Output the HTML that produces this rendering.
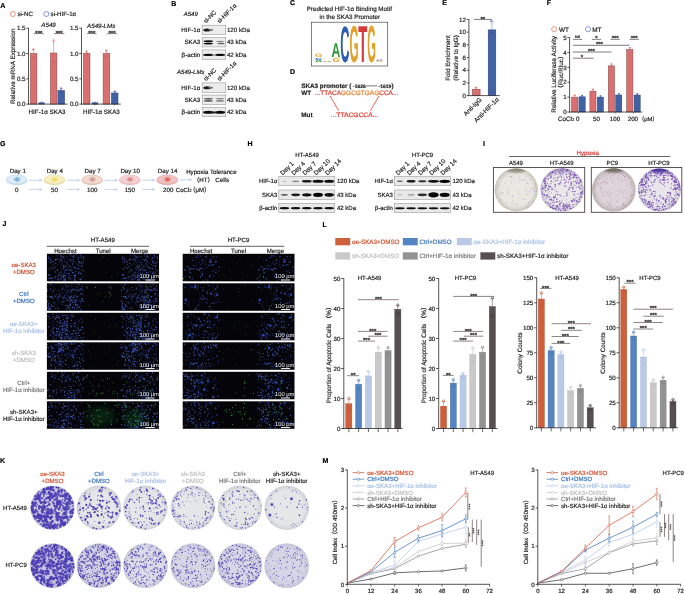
<!DOCTYPE html>
<html lang="en"><head><meta charset="utf-8"><title>Figure</title>
<style>html,body{margin:0;padding:0;background:#fff;overflow:hidden}svg{display:block;opacity:0.999;text-rendering:geometricPrecision;font-family:"Liberation Sans","DejaVu Sans",sans-serif;font-size:6.2px;fill:#1c1c1c}text{stroke-width:0.18px}</style></head><body>
<svg width="685" height="594" viewBox="0 0 685 594">
<defs><filter id="b3" x="-20%" y="-50%" width="140%" height="200%"><feGaussianBlur stdDeviation="0.35"/></filter><filter id="b6" x="-20%" y="-80%" width="140%" height="260%"><feGaussianBlur stdDeviation="0.7"/></filter><filter id="b20" x="-50%" y="-50%" width="200%" height="200%"><feGaussianBlur stdDeviation="3"/></filter><filter id="b10" x="-20%" y="-80%" width="140%" height="260%"><feGaussianBlur stdDeviation="1.1"/></filter></defs>
<rect width="685" height="594" fill="#fff"/>
<g id="panelA">
<text x="0.30" y="7.60" font-weight="bold" fill="#000" stroke="#000" font-size="7.0">A</text>
<circle cx="12.90" cy="14.00" r="2.50" fill="none" stroke="#e0704f" stroke-width="0.7"/>
<text x="17.40" y="16.40" stroke="#1c1c1c">si-NC</text>
<circle cx="46.30" cy="14.00" r="2.50" fill="none" stroke="#5a6cc0" stroke-width="0.7"/>
<text x="50.60" y="16.40" stroke="#1c1c1c">si-HIF-1α</text>
<text text-anchor="middle" stroke="#1c1c1c" font-size="6.3" transform="translate(14.60 66.20) rotate(-90)">Relative mRNA Expression</text>
<rect x="30.40" y="53.50" width="6.50" height="50.60" fill="#db6f6f" stroke="#7d4444" stroke-width="0.5"/>
<rect x="38.80" y="102.83" width="5.60" height="1.27" fill="#4262a6" stroke="#2b3d70" stroke-width="0.5"/>
<rect x="50.40" y="52.99" width="6.50" height="51.11" fill="#db6f6f" stroke="#7d4444" stroke-width="0.5"/>
<rect x="57.90" y="90.44" width="6.70" height="13.66" fill="#4262a6" stroke="#2b3d70" stroke-width="0.5"/>
<line x1="33.60" y1="53.50" x2="33.60" y2="49.45" stroke="#d85a5a" stroke-width="0.5"/>
<line x1="32.40" y1="49.45" x2="34.80" y2="49.45" stroke="#d85a5a" stroke-width="0.5"/>
<line x1="53.60" y1="52.99" x2="53.60" y2="41.36" stroke="#d85a5a" stroke-width="0.5"/>
<line x1="52.40" y1="41.36" x2="54.80" y2="41.36" stroke="#d85a5a" stroke-width="0.5"/>
<line x1="61.20" y1="90.44" x2="61.20" y2="88.41" stroke="#3f5cb0" stroke-width="0.5"/>
<line x1="60.00" y1="88.41" x2="62.40" y2="88.41" stroke="#3f5cb0" stroke-width="0.5"/>
<circle cx="33.30" cy="49.45" r="0.90" fill="none" stroke="#d85050" stroke-width="0.45"/>
<circle cx="33.40" cy="57.04" r="0.90" fill="none" stroke="#d85050" stroke-width="0.45"/>
<circle cx="53.60" cy="40.34" r="0.90" fill="none" stroke="#d85050" stroke-width="0.45"/>
<circle cx="53.40" cy="62.10" r="0.90" fill="none" stroke="#d85050" stroke-width="0.45"/>
<circle cx="52.80" cy="55.52" r="0.90" fill="none" stroke="#d85050" stroke-width="0.45"/>
<circle cx="61.00" cy="88.41" r="0.90" fill="none" stroke="#3850a8" stroke-width="0.45"/>
<circle cx="61.60" cy="91.96" r="0.90" fill="none" stroke="#3850a8" stroke-width="0.45"/>
<circle cx="41.50" cy="102.58" r="0.90" fill="none" stroke="#3850a8" stroke-width="0.45"/>
<line x1="28.50" y1="27.85" x2="28.50" y2="104.45" stroke="#2a2a2a" stroke-width="0.8"/>
<line x1="26.30" y1="28.20" x2="28.50" y2="28.20" stroke="#2a2a2a" stroke-width="0.8"/>
<text x="25.50" y="30.40" text-anchor="end" stroke="#1c1c1c">1.5</text>
<line x1="26.30" y1="53.50" x2="28.50" y2="53.50" stroke="#2a2a2a" stroke-width="0.8"/>
<text x="25.50" y="55.70" text-anchor="end" stroke="#1c1c1c">1.0</text>
<line x1="26.30" y1="78.80" x2="28.50" y2="78.80" stroke="#2a2a2a" stroke-width="0.8"/>
<text x="25.50" y="81.00" text-anchor="end" stroke="#1c1c1c">0.5</text>
<line x1="26.30" y1="104.10" x2="28.50" y2="104.10" stroke="#2a2a2a" stroke-width="0.8"/>
<text x="25.50" y="106.30" text-anchor="end" stroke="#1c1c1c">0.0</text>
<line x1="28.10" y1="104.10" x2="67.60" y2="104.10" stroke="#2a2a2a" stroke-width="0.8"/>
<text x="48.60" y="27.40" text-anchor="middle" font-style="italic" stroke="#1c1c1c">A549</text>
<line x1="34.00" y1="33.60" x2="43.70" y2="33.60" stroke="#4a4242" stroke-width="0.7"/>
<text x="38.85" y="34.70" text-anchor="middle" font-weight="bold" fill="#222" stroke="#222" font-size="6.0">***</text>
<line x1="54.00" y1="33.60" x2="64.40" y2="33.60" stroke="#4a4242" stroke-width="0.7"/>
<text x="59.20" y="34.70" text-anchor="middle" font-weight="bold" fill="#222" stroke="#222" font-size="6.0">***</text>
<text x="28.60" y="113.60" stroke="#1c1c1c" font-size="6.25">HIF-1α SKA3</text>
<rect x="83.50" y="53.50" width="6.50" height="50.60" fill="#db6f6f" stroke="#7d4444" stroke-width="0.5"/>
<rect x="92.00" y="102.83" width="5.90" height="1.27" fill="#4262a6" stroke="#2b3d70" stroke-width="0.5"/>
<rect x="103.10" y="53.50" width="6.70" height="50.60" fill="#db6f6f" stroke="#7d4444" stroke-width="0.5"/>
<rect x="111.40" y="92.97" width="6.60" height="11.13" fill="#4262a6" stroke="#2b3d70" stroke-width="0.5"/>
<line x1="86.70" y1="53.50" x2="86.70" y2="51.98" stroke="#d85a5a" stroke-width="0.5"/>
<line x1="85.50" y1="51.98" x2="87.90" y2="51.98" stroke="#d85a5a" stroke-width="0.5"/>
<line x1="106.40" y1="53.50" x2="106.40" y2="50.97" stroke="#d85a5a" stroke-width="0.5"/>
<line x1="105.20" y1="50.97" x2="107.60" y2="50.97" stroke="#d85a5a" stroke-width="0.5"/>
<line x1="114.70" y1="92.97" x2="114.70" y2="91.45" stroke="#3f5cb0" stroke-width="0.5"/>
<line x1="113.50" y1="91.45" x2="115.90" y2="91.45" stroke="#3f5cb0" stroke-width="0.5"/>
<circle cx="86.50" cy="51.48" r="0.90" fill="none" stroke="#d85050" stroke-width="0.45"/>
<circle cx="86.90" cy="54.01" r="0.90" fill="none" stroke="#d85050" stroke-width="0.45"/>
<circle cx="106.30" cy="50.46" r="0.90" fill="none" stroke="#d85050" stroke-width="0.45"/>
<circle cx="106.50" cy="57.04" r="0.90" fill="none" stroke="#d85050" stroke-width="0.45"/>
<circle cx="114.90" cy="91.45" r="0.90" fill="none" stroke="#3850a8" stroke-width="0.45"/>
<circle cx="114.20" cy="93.98" r="0.90" fill="none" stroke="#3850a8" stroke-width="0.45"/>
<circle cx="95.00" cy="102.58" r="0.90" fill="none" stroke="#3850a8" stroke-width="0.45"/>
<line x1="81.50" y1="27.85" x2="81.50" y2="104.45" stroke="#2a2a2a" stroke-width="0.8"/>
<line x1="79.30" y1="28.20" x2="81.50" y2="28.20" stroke="#2a2a2a" stroke-width="0.8"/>
<text x="78.50" y="30.40" text-anchor="end" stroke="#1c1c1c">1.5</text>
<line x1="79.30" y1="53.50" x2="81.50" y2="53.50" stroke="#2a2a2a" stroke-width="0.8"/>
<text x="78.50" y="55.70" text-anchor="end" stroke="#1c1c1c">1.0</text>
<line x1="79.30" y1="78.80" x2="81.50" y2="78.80" stroke="#2a2a2a" stroke-width="0.8"/>
<text x="78.50" y="81.00" text-anchor="end" stroke="#1c1c1c">0.5</text>
<line x1="79.30" y1="104.10" x2="81.50" y2="104.10" stroke="#2a2a2a" stroke-width="0.8"/>
<text x="78.50" y="106.30" text-anchor="end" stroke="#1c1c1c">0.0</text>
<line x1="81.10" y1="104.10" x2="120.80" y2="104.10" stroke="#2a2a2a" stroke-width="0.8"/>
<line x1="94.90" y1="104.10" x2="94.90" y2="105.30" stroke="#2a2a2a" stroke-width="0.6"/>
<line x1="114.60" y1="104.10" x2="114.60" y2="105.30" stroke="#2a2a2a" stroke-width="0.6"/>
<text x="101.20" y="27.60" text-anchor="middle" font-style="italic" stroke="#1c1c1c">A549-LMs</text>
<line x1="87.10" y1="33.60" x2="96.50" y2="33.60" stroke="#4a4242" stroke-width="0.7"/>
<text x="91.80" y="34.70" text-anchor="middle" font-weight="bold" fill="#222" stroke="#222" font-size="6.0">***</text>
<line x1="107.20" y1="33.60" x2="116.80" y2="33.60" stroke="#4a4242" stroke-width="0.7"/>
<text x="112.00" y="34.70" text-anchor="middle" font-weight="bold" fill="#222" stroke="#222" font-size="6.0">***</text>
<text x="82.90" y="113.60" stroke="#1c1c1c" font-size="6.25">HIF-1α SKA3</text>
</g>
<g id="panelB">
<text x="171.20" y="5.60" font-weight="bold" fill="#000" stroke="#000" font-size="7.0">B</text>
<text x="190.80" y="16.30" text-anchor="middle" font-style="italic" stroke="#1c1c1c" font-size="6.0">A549</text>
<text stroke="#1c1c1c" font-size="6.0" transform="translate(205.90 23.60) rotate(-45)">si-NC</text>
<text stroke="#1c1c1c" font-size="6.0" transform="translate(219.40 23.60) rotate(-45)">si-HIF-1α</text>
<clipPath id="cp2022_252"><rect x="202.20" y="25.20" width="23.50" height="9.40"/></clipPath>
<rect x="202.20" y="25.20" width="23.50" height="9.40" fill="#ececec"/>
<g clip-path="url(#cp2022_252)">
<ellipse cx="207.11" cy="30.10" rx="3.75" ry="1.50" fill="#1c1c1c" filter="url(#b6)"/>
<ellipse cx="210.81" cy="30.10" rx="2.50" ry="1.00" fill="#777" filter="url(#b6)"/>
</g>
<rect x="202.20" y="25.20" width="23.50" height="9.40" fill="none" stroke="#9a9a9a" stroke-width="0.6"/>
<clipPath id="cp2022_375"><rect x="202.20" y="37.50" width="23.50" height="9.40"/></clipPath>
<rect x="202.20" y="37.50" width="23.50" height="9.40" fill="#ececec"/>
<g clip-path="url(#cp2022_375)">
<ellipse cx="208.31" cy="41.20" rx="4.75" ry="0.95" fill="#111" filter="url(#b3)"/>
<ellipse cx="208.31" cy="43.60" rx="4.75" ry="0.95" fill="#111" filter="url(#b3)"/>
<ellipse cx="220.06" cy="41.40" rx="4.00" ry="0.75" fill="#8a8a8a" filter="url(#b3)"/>
<ellipse cx="221.06" cy="43.50" rx="3.50" ry="0.85" fill="#666" filter="url(#b3)"/>
</g>
<rect x="202.20" y="37.50" width="23.50" height="9.40" fill="none" stroke="#9a9a9a" stroke-width="0.6"/>
<clipPath id="cp2022_499"><rect x="202.20" y="49.90" width="23.50" height="9.40"/></clipPath>
<rect x="202.20" y="49.90" width="23.50" height="9.40" fill="#ececec"/>
<g clip-path="url(#cp2022_499)">
<ellipse cx="208.31" cy="54.90" rx="5.25" ry="1.15" fill="#0c0c0c" filter="url(#b3)"/>
<ellipse cx="220.06" cy="54.90" rx="5.00" ry="1.15" fill="#0c0c0c" filter="url(#b3)"/>
<ellipse cx="213.95" cy="55.10" rx="2.50" ry="0.69" fill="#888" filter="url(#b3)"/>
</g>
<rect x="202.20" y="49.90" width="23.50" height="9.40" fill="none" stroke="#9a9a9a" stroke-width="0.6"/>
<text x="200.30" y="32.10" text-anchor="end" stroke="#1c1c1c">HIF-1α</text>
<text x="226.90" y="32.10" stroke="#1c1c1c">120 kDa</text>
<text x="200.30" y="44.40" text-anchor="end" stroke="#1c1c1c">SKA3</text>
<text x="226.90" y="44.40" stroke="#1c1c1c">43 kDa</text>
<text x="200.30" y="56.80" text-anchor="end" stroke="#1c1c1c">β-actin</text>
<text x="226.90" y="56.80" stroke="#1c1c1c">42 kDa</text>
<text x="190.80" y="74.00" text-anchor="middle" font-style="italic" stroke="#1c1c1c" font-size="6.0">A549-LMs</text>
<text stroke="#1c1c1c" font-size="6.0" transform="translate(205.90 81.30) rotate(-45)">si-NC</text>
<text stroke="#1c1c1c" font-size="6.0" transform="translate(219.40 81.30) rotate(-45)">si-HIF-1α</text>
<clipPath id="cp2022_829"><rect x="202.20" y="82.90" width="23.50" height="9.40"/></clipPath>
<rect x="202.20" y="82.90" width="23.50" height="9.40" fill="#ececec"/>
<g clip-path="url(#cp2022_829)">
<ellipse cx="207.11" cy="87.80" rx="3.75" ry="1.50" fill="#1c1c1c" filter="url(#b6)"/>
<ellipse cx="210.81" cy="87.80" rx="2.50" ry="1.00" fill="#777" filter="url(#b6)"/>
</g>
<rect x="202.20" y="82.90" width="23.50" height="9.40" fill="none" stroke="#9a9a9a" stroke-width="0.6"/>
<clipPath id="cp2022_951"><rect x="202.20" y="95.10" width="23.50" height="9.40"/></clipPath>
<rect x="202.20" y="95.10" width="23.50" height="9.40" fill="#ececec"/>
<g clip-path="url(#cp2022_951)">
<ellipse cx="208.31" cy="98.80" rx="4.75" ry="0.65" fill="#222" filter="url(#b3)"/>
<ellipse cx="208.31" cy="100.90" rx="4.75" ry="0.65" fill="#222" filter="url(#b3)"/>
<ellipse cx="220.06" cy="98.80" rx="4.25" ry="0.55" fill="#555" filter="url(#b3)"/>
<ellipse cx="220.06" cy="100.90" rx="4.25" ry="0.55" fill="#555" filter="url(#b3)"/>
</g>
<rect x="202.20" y="95.10" width="23.50" height="9.40" fill="none" stroke="#9a9a9a" stroke-width="0.6"/>
<clipPath id="cp2022_1073"><rect x="202.20" y="107.30" width="23.50" height="9.40"/></clipPath>
<rect x="202.20" y="107.30" width="23.50" height="9.40" fill="#ececec"/>
<g clip-path="url(#cp2022_1073)">
<ellipse cx="208.31" cy="112.30" rx="5.25" ry="1.50" fill="#0c0c0c" filter="url(#b3)"/>
<ellipse cx="220.06" cy="112.30" rx="5.00" ry="1.50" fill="#0c0c0c" filter="url(#b3)"/>
<ellipse cx="213.95" cy="112.50" rx="2.50" ry="0.90" fill="#222" filter="url(#b3)"/>
</g>
<rect x="202.20" y="107.30" width="23.50" height="9.40" fill="none" stroke="#9a9a9a" stroke-width="0.6"/>
<text x="200.30" y="89.80" text-anchor="end" stroke="#1c1c1c">HIF-1α</text>
<text x="226.90" y="89.80" stroke="#1c1c1c">120 kDa</text>
<text x="200.30" y="102.00" text-anchor="end" stroke="#1c1c1c">SKA3</text>
<text x="226.90" y="102.00" stroke="#1c1c1c">43 kDa</text>
<text x="200.30" y="114.20" text-anchor="end" stroke="#1c1c1c">β-actin</text>
<text x="226.90" y="114.20" stroke="#1c1c1c">42 kDa</text>
</g>
<g id="panelC">
<text x="290.00" y="5.40" font-weight="bold" fill="#000" stroke="#000" font-size="7.0">C</text>
<text x="349.30" y="10.60" text-anchor="middle" stroke="#1c1c1c" font-size="6.25">Predicted HIF-1α Binding Motif</text>
<text x="349.80" y="18.50" text-anchor="middle" stroke="#1c1c1c" font-size="6.25">in the SKA3 Promoter</text>
<rect x="311.40" y="22.20" width="76.30" height="43.80" fill="#fff" stroke="#4a4a4a" stroke-width="0.7"/>
<text transform="translate(340.20 62.40) scale(1.292 5.130)" font-size="10.0" font-weight="bold" fill="#2f5eae" textLength="7.20" lengthAdjust="spacingAndGlyphs">C</text>
<text transform="translate(349.40 62.40) scale(1.264 5.185)" font-size="10.0" font-weight="bold" fill="#e2a22e" textLength="7.20" lengthAdjust="spacingAndGlyphs">G</text>
<text transform="translate(358.30 62.40) scale(1.264 5.213)" font-size="10.0" font-weight="bold" fill="#d63a3f" textLength="7.20" lengthAdjust="spacingAndGlyphs">T</text>
<text transform="translate(367.20 62.40) scale(1.194 5.213)" font-size="10.0" font-weight="bold" fill="#e2a22e" textLength="7.20" lengthAdjust="spacingAndGlyphs">G</text>
<text transform="translate(331.60 57.40) scale(1.222 2.003)" font-size="10.0" font-weight="bold" fill="#2f9a3c" textLength="7.20" lengthAdjust="spacingAndGlyphs">A</text>
<text transform="translate(332.40 62.40) scale(1.028 0.631)" font-size="10.0" font-weight="bold" fill="#e2a22e" textLength="7.20" lengthAdjust="spacingAndGlyphs">G</text>
<text transform="translate(315.00 57.20) scale(1.028 0.494)" font-size="10.0" font-weight="bold" fill="#e2a22e" textLength="7.20" lengthAdjust="spacingAndGlyphs">G</text>
<text transform="translate(315.00 59.60) scale(1.028 0.302)" font-size="10.0" font-weight="bold" fill="#2f5eae" textLength="7.20" lengthAdjust="spacingAndGlyphs">C</text>
<text transform="translate(315.00 62.40) scale(1.028 0.357)" font-size="10.0" font-weight="bold" fill="#2f9a3c" textLength="7.20" lengthAdjust="spacingAndGlyphs">A</text>
<text transform="translate(376.00 60.80) scale(0.972 0.219)" font-size="10.0" font-weight="bold" fill="#2f5eae" textLength="7.20" lengthAdjust="spacingAndGlyphs">C</text>
<text transform="translate(376.00 62.40) scale(0.972 0.206)" font-size="10.0" font-weight="bold" fill="#e2a22e" textLength="7.20" lengthAdjust="spacingAndGlyphs">G</text>
<text transform="translate(323.20 62.40) scale(0.278 0.137)" font-size="10.0" font-weight="bold" fill="#d63a3f" textLength="7.20" lengthAdjust="spacingAndGlyphs">T</text>
<text transform="translate(325.30 62.40) scale(0.278 0.137)" font-size="10.0" font-weight="bold" fill="#e2a22e" textLength="7.20" lengthAdjust="spacingAndGlyphs">G</text>
<text transform="translate(327.40 62.40) scale(0.278 0.137)" font-size="10.0" font-weight="bold" fill="#2f9a3c" textLength="7.20" lengthAdjust="spacingAndGlyphs">A</text>
<text transform="translate(329.50 62.40) scale(0.278 0.137)" font-size="10.0" font-weight="bold" fill="#d63a3f" textLength="7.20" lengthAdjust="spacingAndGlyphs">C</text>
</g>
<g id="panelD">
<text x="290.00" y="73.80" font-weight="bold" fill="#000" stroke="#000" font-size="7.0">D</text>
<text x="301.30" y="87.70" font-weight="bold" stroke="#1c1c1c" font-size="6.3">SKA3 promoter (</text>
<text x="353.00" y="87.50" font-weight="bold" stroke="#1c1c1c" font-size="5.0">-1626</text>
<line x1="366.00" y1="85.90" x2="377.40" y2="85.90" stroke="#222" stroke-width="0.6"/>
<text x="378.60" y="87.50" font-weight="bold" stroke="#1c1c1c" font-size="5.0">-1619</text>
<text x="391.60" y="87.70" font-weight="bold" stroke="#1c1c1c" font-size="6.3">)</text>
<text x="301.30" y="94.90" font-weight="bold" stroke="#1c1c1c" font-size="6.3">WT</text>
<text x="314.9" y="94.9" font-size="6.4" fill="#e2392a" stroke="#e2392a" textLength="83.4" lengthAdjust="spacingAndGlyphs">...TTACA<tspan fill="#e2832e" stroke="#e2832e">GGCGTGAG</tspan>CCA...</text>
<line x1="330.00" y1="96.00" x2="338.70" y2="110.80" stroke="#e2392a" stroke-width="0.8"/>
<line x1="379.00" y1="96.00" x2="370.30" y2="110.80" stroke="#e2392a" stroke-width="0.8"/>
<text x="301.30" y="117.40" font-weight="bold" stroke="#1c1c1c" font-size="6.3">Mut</text>
<text x="330.8" y="117.4" font-size="6.4" fill="#e2392a" stroke="#e2392a" textLength="47.4" lengthAdjust="spacingAndGlyphs">...TTACGCCA...</text>
</g>
<g id="panelE">
<text x="442.20" y="4.90" font-weight="bold" fill="#000" stroke="#000" font-size="7.0">E</text>
<rect x="472.20" y="89.25" width="7.90" height="6.35" fill="#db6f6f" stroke="#7d4444" stroke-width="0.5"/>
<rect x="488.20" y="29.88" width="7.60" height="65.72" fill="#4262a6" stroke="#2b3d70" stroke-width="0.5"/>
<line x1="476.10" y1="89.25" x2="476.10" y2="87.66" stroke="#d85a5a" stroke-width="0.5"/>
<line x1="474.90" y1="87.66" x2="477.30" y2="87.66" stroke="#d85a5a" stroke-width="0.5"/>
<line x1="491.90" y1="29.88" x2="491.90" y2="21.31" stroke="#5068c0" stroke-width="0.5"/>
<line x1="490.00" y1="21.31" x2="493.80" y2="21.31" stroke="#5068c0" stroke-width="0.5"/>
<circle cx="476.00" cy="87.66" r="0.90" fill="none" stroke="#d85050" stroke-width="0.45"/>
<circle cx="491.30" cy="20.67" r="0.90" fill="none" stroke="#4058b8" stroke-width="0.45"/>
<circle cx="492.00" cy="33.37" r="0.90" fill="none" stroke="#2c4290" stroke-width="0.45"/>
<line x1="468.90" y1="19.05" x2="468.90" y2="95.95" stroke="#2a2a2a" stroke-width="0.8"/>
<line x1="466.70" y1="19.40" x2="468.90" y2="19.40" stroke="#2a2a2a" stroke-width="0.8"/>
<text x="465.90" y="21.60" text-anchor="end" stroke="#1c1c1c">12</text>
<line x1="466.70" y1="32.10" x2="468.90" y2="32.10" stroke="#2a2a2a" stroke-width="0.8"/>
<text x="465.90" y="34.30" text-anchor="end" stroke="#1c1c1c">10</text>
<line x1="466.70" y1="44.80" x2="468.90" y2="44.80" stroke="#2a2a2a" stroke-width="0.8"/>
<text x="465.90" y="47.00" text-anchor="end" stroke="#1c1c1c">8</text>
<line x1="466.70" y1="57.50" x2="468.90" y2="57.50" stroke="#2a2a2a" stroke-width="0.8"/>
<text x="465.90" y="59.70" text-anchor="end" stroke="#1c1c1c">6</text>
<line x1="466.70" y1="70.20" x2="468.90" y2="70.20" stroke="#2a2a2a" stroke-width="0.8"/>
<text x="465.90" y="72.40" text-anchor="end" stroke="#1c1c1c">4</text>
<line x1="466.70" y1="82.90" x2="468.90" y2="82.90" stroke="#2a2a2a" stroke-width="0.8"/>
<text x="465.90" y="85.10" text-anchor="end" stroke="#1c1c1c">2</text>
<line x1="466.70" y1="95.60" x2="468.90" y2="95.60" stroke="#2a2a2a" stroke-width="0.8"/>
<text x="465.90" y="97.80" text-anchor="end" stroke="#1c1c1c">0</text>
<line x1="468.50" y1="95.60" x2="499.80" y2="95.60" stroke="#2a2a2a" stroke-width="0.8"/>
<line x1="473.80" y1="19.40" x2="491.80" y2="19.40" stroke="#4a4242" stroke-width="0.7"/>
<text x="482.80" y="20.50" text-anchor="middle" font-weight="bold" fill="#222" stroke="#222" font-size="6.0">**</text>
<text text-anchor="middle" stroke="#1c1c1c" font-size="6.25" transform="translate(450.30 58.00) rotate(-90)">Fold Enrichment</text>
<text text-anchor="middle" stroke="#1c1c1c" font-size="6.25" transform="translate(458.00 58.00) rotate(-90)">(Relative to IgG)</text>
<text text-anchor="end" stroke="#1c1c1c" font-size="6.25" transform="translate(482.20 100.00) rotate(-45)">Anti-IgG</text>
<text text-anchor="end" stroke="#1c1c1c" font-size="6.25" transform="translate(499.20 100.00) rotate(-45)">Anti-HIF-1α</text>
</g>
<g id="panelF">
<text x="546.80" y="4.90" font-weight="bold" fill="#000" stroke="#000" font-size="7.0">F</text>
<circle cx="554.20" cy="29.20" r="2.60" fill="none" stroke="#e0704f" stroke-width="0.7"/>
<text x="558.90" y="31.60" stroke="#1c1c1c" font-size="6.4">WT</text>
<circle cx="588.00" cy="29.20" r="2.60" fill="none" stroke="#5a6cc0" stroke-width="0.7"/>
<text x="592.20" y="31.60" stroke="#1c1c1c" font-size="6.4">MT</text>
<rect x="571.50" y="97.12" width="6.20" height="14.88" fill="#db6f6f" stroke="#7d4444" stroke-width="0.5"/>
<rect x="578.90" y="96.82" width="6.30" height="15.18" fill="#4262a6" stroke="#2b3d70" stroke-width="0.5"/>
<line x1="574.60" y1="97.12" x2="574.60" y2="95.33" stroke="#d85a5a" stroke-width="0.5"/>
<line x1="573.60" y1="95.33" x2="575.60" y2="95.33" stroke="#d85a5a" stroke-width="0.5"/>
<line x1="582.05" y1="96.82" x2="582.05" y2="95.63" stroke="#3f5cb0" stroke-width="0.5"/>
<line x1="581.05" y1="95.63" x2="583.05" y2="95.63" stroke="#3f5cb0" stroke-width="0.5"/>
<circle cx="574.80" cy="95.33" r="0.80" fill="#e06060"/>
<circle cx="582.25" cy="95.63" r="0.80" fill="#3f56b0"/>
<rect x="589.90" y="91.17" width="6.10" height="20.83" fill="#db6f6f" stroke="#7d4444" stroke-width="0.5"/>
<rect x="597.30" y="97.12" width="6.10" height="14.88" fill="#4262a6" stroke="#2b3d70" stroke-width="0.5"/>
<line x1="592.95" y1="91.17" x2="592.95" y2="89.38" stroke="#d85a5a" stroke-width="0.5"/>
<line x1="591.95" y1="89.38" x2="593.95" y2="89.38" stroke="#d85a5a" stroke-width="0.5"/>
<line x1="600.35" y1="97.12" x2="600.35" y2="95.93" stroke="#3f5cb0" stroke-width="0.5"/>
<line x1="599.35" y1="95.93" x2="601.35" y2="95.93" stroke="#3f5cb0" stroke-width="0.5"/>
<circle cx="593.15" cy="89.38" r="0.80" fill="#e06060"/>
<circle cx="600.55" cy="95.93" r="0.80" fill="#3f56b0"/>
<rect x="608.30" y="65.87" width="6.20" height="46.13" fill="#db6f6f" stroke="#7d4444" stroke-width="0.5"/>
<rect x="615.70" y="95.04" width="6.10" height="16.96" fill="#4262a6" stroke="#2b3d70" stroke-width="0.5"/>
<line x1="611.40" y1="65.87" x2="611.40" y2="64.09" stroke="#d85a5a" stroke-width="0.5"/>
<line x1="610.40" y1="64.09" x2="612.40" y2="64.09" stroke="#d85a5a" stroke-width="0.5"/>
<line x1="618.75" y1="95.04" x2="618.75" y2="93.85" stroke="#3f5cb0" stroke-width="0.5"/>
<line x1="617.75" y1="93.85" x2="619.75" y2="93.85" stroke="#3f5cb0" stroke-width="0.5"/>
<circle cx="611.60" cy="64.09" r="0.80" fill="#e06060"/>
<circle cx="618.95" cy="93.85" r="0.80" fill="#3f56b0"/>
<rect x="626.70" y="49.50" width="6.20" height="62.50" fill="#db6f6f" stroke="#7d4444" stroke-width="0.5"/>
<rect x="634.10" y="95.04" width="6.10" height="16.96" fill="#4262a6" stroke="#2b3d70" stroke-width="0.5"/>
<line x1="629.80" y1="49.50" x2="629.80" y2="47.72" stroke="#d85a5a" stroke-width="0.5"/>
<line x1="628.80" y1="47.72" x2="630.80" y2="47.72" stroke="#d85a5a" stroke-width="0.5"/>
<line x1="637.15" y1="95.04" x2="637.15" y2="93.85" stroke="#3f5cb0" stroke-width="0.5"/>
<line x1="636.15" y1="93.85" x2="638.15" y2="93.85" stroke="#3f5cb0" stroke-width="0.5"/>
<circle cx="630.00" cy="47.72" r="0.80" fill="#e06060"/>
<circle cx="637.35" cy="93.85" r="0.80" fill="#3f56b0"/>
<line x1="569.60" y1="37.25" x2="569.60" y2="112.35" stroke="#2a2a2a" stroke-width="0.8"/>
<line x1="567.40" y1="37.60" x2="569.60" y2="37.60" stroke="#2a2a2a" stroke-width="0.8"/>
<text x="566.60" y="39.80" text-anchor="end" stroke="#1c1c1c">5</text>
<line x1="567.40" y1="52.48" x2="569.60" y2="52.48" stroke="#2a2a2a" stroke-width="0.8"/>
<text x="566.60" y="54.68" text-anchor="end" stroke="#1c1c1c">4</text>
<line x1="567.40" y1="67.36" x2="569.60" y2="67.36" stroke="#2a2a2a" stroke-width="0.8"/>
<text x="566.60" y="69.56" text-anchor="end" stroke="#1c1c1c">3</text>
<line x1="567.40" y1="82.24" x2="569.60" y2="82.24" stroke="#2a2a2a" stroke-width="0.8"/>
<text x="566.60" y="84.44" text-anchor="end" stroke="#1c1c1c">2</text>
<line x1="567.40" y1="97.12" x2="569.60" y2="97.12" stroke="#2a2a2a" stroke-width="0.8"/>
<text x="566.60" y="99.32" text-anchor="end" stroke="#1c1c1c">1</text>
<line x1="567.40" y1="112.00" x2="569.60" y2="112.00" stroke="#2a2a2a" stroke-width="0.8"/>
<text x="566.60" y="114.20" text-anchor="end" stroke="#1c1c1c">0</text>
<line x1="569.20" y1="112.00" x2="642.20" y2="112.00" stroke="#2a2a2a" stroke-width="0.8"/>
<line x1="578.30" y1="112.00" x2="578.30" y2="113.40" stroke="#2a2a2a" stroke-width="0.6"/>
<line x1="596.70" y1="112.00" x2="596.70" y2="113.40" stroke="#2a2a2a" stroke-width="0.6"/>
<line x1="615.10" y1="112.00" x2="615.10" y2="113.40" stroke="#2a2a2a" stroke-width="0.6"/>
<line x1="633.50" y1="112.00" x2="633.50" y2="113.40" stroke="#2a2a2a" stroke-width="0.6"/>
<line x1="572.90" y1="39.30" x2="582.30" y2="39.30" stroke="#4a4242" stroke-width="0.7"/>
<text x="577.60" y="37.90" text-anchor="middle" font-weight="bold" fill="#222" stroke="#222" font-size="3.6">NS</text>
<line x1="591.90" y1="39.30" x2="601.10" y2="39.30" stroke="#4a4242" stroke-width="0.7"/>
<text x="596.50" y="40.40" text-anchor="middle" font-weight="bold" fill="#222" stroke="#222" font-size="6.0">*</text>
<line x1="610.50" y1="39.30" x2="619.90" y2="39.30" stroke="#4a4242" stroke-width="0.7"/>
<text x="615.20" y="40.40" text-anchor="middle" font-weight="bold" fill="#222" stroke="#222" font-size="6.0">***</text>
<line x1="629.40" y1="39.30" x2="639.00" y2="39.30" stroke="#4a4242" stroke-width="0.7"/>
<text x="634.20" y="40.40" text-anchor="middle" font-weight="bold" fill="#222" stroke="#222" font-size="6.0">***</text>
<line x1="572.90" y1="45.30" x2="629.40" y2="45.30" stroke="#4a4242" stroke-width="0.7"/>
<text x="599.40" y="46.40" text-anchor="middle" font-weight="bold" fill="#222" stroke="#222" font-size="6.0">***</text>
<line x1="572.90" y1="52.00" x2="611.50" y2="52.00" stroke="#4a4242" stroke-width="0.7"/>
<text x="591.40" y="53.10" text-anchor="middle" font-weight="bold" fill="#222" stroke="#222" font-size="6.0">***</text>
<line x1="572.90" y1="58.20" x2="593.60" y2="58.20" stroke="#4a4242" stroke-width="0.7"/>
<text x="581.80" y="59.30" text-anchor="middle" font-weight="bold" fill="#222" stroke="#222" font-size="6.0">*</text>
<text text-anchor="middle" stroke="#1c1c1c" font-size="6.45" transform="translate(556.40 74.40) rotate(-90)">Relative Luciferase Activity</text>
<text stroke="#1c1c1c" font-size="6.3" transform="translate(563.00 91.60) rotate(-90)" style="font-family:'Liberation Sans','Noto Sans CJK SC',sans-serif">（Fluc/Rluc）</text>
<text x="558.0" y="120.6" font-size="6.3" stroke="#1c1c1c">CoCl<tspan font-size="4.2" dy="0.6">2</tspan><tspan dy="-0.6"> 0</tspan></text>
<text x="596.40" y="120.60" text-anchor="middle" stroke="#1c1c1c">50</text>
<text x="615.00" y="120.60" text-anchor="middle" stroke="#1c1c1c">100</text>
<text x="632.90" y="120.60" text-anchor="middle" stroke="#1c1c1c">200</text>
<text x="638.40" y="120.50" stroke="#1c1c1c" font-size="5.8" style="font-family:'Liberation Sans','Noto Sans CJK SC',sans-serif">（μM）</text>
</g>
<g id="panelG">
<text x="0.00" y="145.70" font-weight="bold" fill="#000" stroke="#000" font-size="7.0">G</text>
<text x="17.80" y="172.50" text-anchor="middle" stroke="#1c1c1c">Day 1</text>
<ellipse cx="16.80" cy="180.20" rx="10.7" ry="5.0" fill="#c3d9ea"/>
<ellipse cx="16.80" cy="179.40" rx="10.4" ry="4.4" fill="#dcebf5" stroke="#c3d9ea" stroke-width="0.5"/>
<polygon points="20.89,179.40 19.07,180.14 19.47,181.72 17.59,181.07 16.26,182.30 15.74,180.74 13.68,180.69 14.92,179.40 13.68,178.11 15.74,178.06 16.26,176.50 17.59,177.73 19.47,177.08 19.07,178.66" fill="#5d9bcd" opacity="0.7" filter="url(#b3)"/>
<text x="16.80" y="191.70" text-anchor="middle" stroke="#1c1c1c">0</text>
<text x="54.80" y="172.50" text-anchor="middle" stroke="#1c1c1c">Day 4</text>
<ellipse cx="54.40" cy="180.20" rx="10.7" ry="5.0" fill="#e9dfa6"/>
<ellipse cx="54.40" cy="179.40" rx="10.4" ry="4.4" fill="#f6eec2" stroke="#e9dfa6" stroke-width="0.5"/>
<polygon points="58.49,179.40 56.67,180.14 57.07,181.72 55.19,181.07 53.86,182.30 53.34,180.74 51.28,180.69 52.51,179.40 51.28,178.11 53.34,178.06 53.86,176.50 55.19,177.73 57.07,177.08 56.67,178.66" fill="#efd64a" opacity="0.7" filter="url(#b3)"/>
<text x="54.40" y="191.70" text-anchor="middle" stroke="#1c1c1c">50</text>
<text x="92.60" y="172.50" text-anchor="middle" stroke="#1c1c1c">Day 7</text>
<ellipse cx="92.20" cy="180.20" rx="10.7" ry="5.0" fill="#e2c1b5"/>
<ellipse cx="92.20" cy="179.40" rx="10.4" ry="4.4" fill="#f1d9cf" stroke="#e2c1b5" stroke-width="0.5"/>
<polygon points="96.30,179.40 94.47,180.14 94.87,181.72 92.99,181.07 91.66,182.30 91.14,180.74 89.08,180.69 90.31,179.40 89.08,178.11 91.14,178.06 91.66,176.50 92.99,177.73 94.87,177.08 94.47,178.66" fill="#c98a80" opacity="0.7" filter="url(#b3)"/>
<text x="92.20" y="191.70" text-anchor="middle" stroke="#1c1c1c">100</text>
<text x="130.20" y="172.50" text-anchor="middle" stroke="#1c1c1c">Day 10</text>
<ellipse cx="129.80" cy="180.20" rx="10.7" ry="5.0" fill="#ebbcbc"/>
<ellipse cx="129.80" cy="179.40" rx="10.4" ry="4.4" fill="#f5d2d2" stroke="#ebbcbc" stroke-width="0.5"/>
<polygon points="133.90,179.40 132.07,180.14 132.47,181.72 130.59,181.07 129.26,182.30 128.74,180.74 126.68,180.69 127.92,179.40 126.68,178.11 128.74,178.06 129.26,176.50 130.59,177.73 132.47,177.08 132.07,178.66" fill="#dd6c72" opacity="0.7" filter="url(#b3)"/>
<text x="129.80" y="191.70" text-anchor="middle" stroke="#1c1c1c">150</text>
<text x="167.60" y="172.50" text-anchor="middle" stroke="#1c1c1c">Day 14</text>
<ellipse cx="167.20" cy="180.20" rx="10.7" ry="5.0" fill="#e8abab"/>
<ellipse cx="167.20" cy="179.40" rx="10.4" ry="4.4" fill="#f2c2c2" stroke="#e8abab" stroke-width="0.5"/>
<polygon points="171.29,179.40 169.47,180.14 169.87,181.72 167.99,181.07 166.66,182.30 166.14,180.74 164.08,180.69 165.31,179.40 164.08,178.11 166.14,178.06 166.66,176.50 167.99,177.73 169.87,177.08 169.47,178.66" fill="#dc4a3e" opacity="0.7" filter="url(#b3)"/>
<text x="168.20" y="191.70" text-anchor="middle" stroke="#1c1c1c">200</text>
<line x1="29.20" y1="180.30" x2="41.20" y2="180.30" stroke="#a9c3e6" stroke-width="0.7"/>
<path d="M39.40 179.20 L42.00 180.30 L39.40 181.40" fill="none" stroke="#a9c3e6" stroke-width="0.6"/>
<line x1="29.20" y1="189.40" x2="41.20" y2="189.40" stroke="#a9c3e6" stroke-width="0.7"/>
<path d="M39.40 188.30 L42.00 189.40 L39.40 190.50" fill="none" stroke="#a9c3e6" stroke-width="0.6"/>
<line x1="66.60" y1="180.30" x2="78.90" y2="180.30" stroke="#a9c3e6" stroke-width="0.7"/>
<path d="M77.10 179.20 L79.70 180.30 L77.10 181.40" fill="none" stroke="#a9c3e6" stroke-width="0.6"/>
<line x1="66.60" y1="189.40" x2="78.90" y2="189.40" stroke="#a9c3e6" stroke-width="0.7"/>
<path d="M77.10 188.30 L79.70 189.40 L77.10 190.50" fill="none" stroke="#a9c3e6" stroke-width="0.6"/>
<line x1="104.40" y1="180.30" x2="116.50" y2="180.30" stroke="#a9c3e6" stroke-width="0.7"/>
<path d="M114.70 179.20 L117.30 180.30 L114.70 181.40" fill="none" stroke="#a9c3e6" stroke-width="0.6"/>
<line x1="104.40" y1="189.40" x2="116.50" y2="189.40" stroke="#a9c3e6" stroke-width="0.7"/>
<path d="M114.70 188.30 L117.30 189.40 L114.70 190.50" fill="none" stroke="#a9c3e6" stroke-width="0.6"/>
<line x1="142.30" y1="180.30" x2="153.80" y2="180.30" stroke="#a9c3e6" stroke-width="0.7"/>
<path d="M152.00 179.20 L154.60 180.30 L152.00 181.40" fill="none" stroke="#a9c3e6" stroke-width="0.6"/>
<line x1="142.30" y1="189.40" x2="153.80" y2="189.40" stroke="#a9c3e6" stroke-width="0.7"/>
<path d="M152.00 188.30 L154.60 189.40 L152.00 190.50" fill="none" stroke="#a9c3e6" stroke-width="0.6"/>
<line x1="179.50" y1="179.80" x2="191.00" y2="179.80" stroke="#a9c3e6" stroke-width="0.7"/>
<path d="M189.20 178.70 L191.80 179.80 L189.20 180.90" fill="none" stroke="#a9c3e6" stroke-width="0.6"/>
<text x="186.20" y="173.80" stroke="#1c1c1c" font-size="6.15">Hypoxia Tolerance</text>
<text x="193.2" y="181.5" font-size="6.15" stroke="#1c1c1c" style="font-family:'Liberation Sans','Noto Sans CJK SC',sans-serif">（HT） Cells</text>
<text x="175.8" y="191.7" font-size="6.1" stroke="#1c1c1c">CoCl<tspan font-size="4.2" dy="0.6">2</tspan></text>
<text x="189.6" y="191.6" font-size="6.0" stroke="#1c1c1c" style="font-family:'Liberation Sans','Noto Sans CJK SC',sans-serif">（μM）</text>
</g>
<g id="panelH">
<text x="247.60" y="145.70" font-weight="bold" fill="#000" stroke="#000" font-size="7.0">H</text>
<text x="307.00" y="156.50" text-anchor="middle" stroke="#1c1c1c" font-size="6.0">HT-A549</text>
<text stroke="#1c1c1c" font-size="6.3" transform="translate(282.70 175.60) rotate(-45)">Day 1</text>
<text stroke="#1c1c1c" font-size="6.3" transform="translate(293.90 175.60) rotate(-45)">Day 4</text>
<text stroke="#1c1c1c" font-size="6.3" transform="translate(305.10 175.60) rotate(-45)">Day 7</text>
<text stroke="#1c1c1c" font-size="6.3" transform="translate(316.30 175.60) rotate(-45)">Day 10</text>
<text stroke="#1c1c1c" font-size="6.3" transform="translate(327.50 175.60) rotate(-45)">Day 14</text>
<clipPath id="cp2788_1765"><rect x="278.80" y="176.50" width="56.00" height="9.20"/></clipPath>
<rect x="278.80" y="176.50" width="56.00" height="9.20" fill="#e9e9e9"/>
<g clip-path="url(#cp2788_1765)">
<ellipse cx="284.40" cy="181.30" rx="2.50" ry="0.60" fill="#bdbdbd" filter="url(#b3)"/>
<ellipse cx="295.60" cy="181.30" rx="3.50" ry="0.90" fill="#8c8c8c" filter="url(#b3)"/>
<ellipse cx="306.80" cy="181.30" rx="5.00" ry="1.30" fill="#151515" filter="url(#b3)"/>
<ellipse cx="318.00" cy="181.30" rx="5.50" ry="1.50" fill="#0a0a0a" filter="url(#b6)"/>
<ellipse cx="329.20" cy="181.30" rx="5.00" ry="1.50" fill="#0a0a0a" filter="url(#b6)"/>
</g>
<rect x="278.80" y="176.50" width="56.00" height="9.20" fill="none" stroke="#9a9a9a" stroke-width="0.6"/>
<clipPath id="cp2788_1900"><rect x="278.80" y="190.00" width="56.00" height="9.30"/></clipPath>
<rect x="278.80" y="190.00" width="56.00" height="9.30" fill="#e9e9e9"/>
<g clip-path="url(#cp2788_1900)">
<ellipse cx="284.40" cy="194.85" rx="3.50" ry="0.90" fill="#555" filter="url(#b3)"/>
<ellipse cx="295.60" cy="194.85" rx="4.50" ry="1.30" fill="#1a1a1a" filter="url(#b3)"/>
<ellipse cx="306.80" cy="194.85" rx="4.75" ry="1.60" fill="#0c0c0c" filter="url(#b6)"/>
<ellipse cx="318.00" cy="194.85" rx="5.00" ry="2.20" fill="#050505" filter="url(#b6)"/>
<ellipse cx="329.20" cy="194.85" rx="4.75" ry="1.90" fill="#080808" filter="url(#b6)"/>
</g>
<rect x="278.80" y="190.00" width="56.00" height="9.30" fill="none" stroke="#9a9a9a" stroke-width="0.6"/>
<clipPath id="cp2788_2034"><rect x="278.80" y="203.40" width="56.00" height="9.20"/></clipPath>
<rect x="278.80" y="203.40" width="56.00" height="9.20" fill="#e9e9e9"/>
<g clip-path="url(#cp2788_2034)">
<ellipse cx="284.40" cy="208.20" rx="4.80" ry="1.15" fill="#0c0c0c" filter="url(#b3)"/>
<ellipse cx="295.60" cy="208.20" rx="4.80" ry="1.15" fill="#0c0c0c" filter="url(#b3)"/>
<ellipse cx="306.80" cy="208.20" rx="4.80" ry="1.15" fill="#0c0c0c" filter="url(#b3)"/>
<ellipse cx="318.00" cy="208.20" rx="4.80" ry="1.15" fill="#0c0c0c" filter="url(#b3)"/>
<ellipse cx="329.20" cy="208.20" rx="4.80" ry="1.15" fill="#0c0c0c" filter="url(#b3)"/>
</g>
<rect x="278.80" y="203.40" width="56.00" height="9.20" fill="none" stroke="#9a9a9a" stroke-width="0.6"/>
<text x="277.40" y="183.40" text-anchor="end" stroke="#1c1c1c" font-size="6.0">HIF-1α</text>
<text x="337.00" y="183.40" stroke="#1c1c1c" font-size="6.0">120 kDa</text>
<text x="277.40" y="196.95" text-anchor="end" stroke="#1c1c1c" font-size="6.0">SKA3</text>
<text x="337.00" y="196.95" stroke="#1c1c1c" font-size="6.0">43 kDa</text>
<text x="277.40" y="210.30" text-anchor="end" stroke="#1c1c1c" font-size="6.0">β-actin</text>
<text x="337.00" y="210.30" stroke="#1c1c1c" font-size="6.0">42 kDa</text>
<text x="422.50" y="156.50" text-anchor="middle" stroke="#1c1c1c" font-size="6.0">HT-PC9</text>
<text stroke="#1c1c1c" font-size="6.3" transform="translate(398.20 175.60) rotate(-45)">Day 1</text>
<text stroke="#1c1c1c" font-size="6.3" transform="translate(409.40 175.60) rotate(-45)">Day 4</text>
<text stroke="#1c1c1c" font-size="6.3" transform="translate(420.60 175.60) rotate(-45)">Day 7</text>
<text stroke="#1c1c1c" font-size="6.3" transform="translate(431.80 175.60) rotate(-45)">Day 10</text>
<text stroke="#1c1c1c" font-size="6.3" transform="translate(443.00 175.60) rotate(-45)">Day 14</text>
<clipPath id="cp3943_1765"><rect x="394.30" y="176.50" width="56.00" height="9.20"/></clipPath>
<rect x="394.30" y="176.50" width="56.00" height="9.20" fill="#e9e9e9"/>
<g clip-path="url(#cp3943_1765)">
<ellipse cx="399.90" cy="181.30" rx="3.00" ry="0.70" fill="#555" filter="url(#b3)"/>
<ellipse cx="411.10" cy="181.30" rx="4.50" ry="1.20" fill="#141414" filter="url(#b3)"/>
<ellipse cx="422.30" cy="181.30" rx="4.00" ry="1.00" fill="#2a2a2a" filter="url(#b3)"/>
<ellipse cx="433.50" cy="181.30" rx="5.50" ry="1.40" fill="#0a0a0a" filter="url(#b6)"/>
<ellipse cx="444.70" cy="181.30" rx="5.50" ry="1.60" fill="#060606" filter="url(#b6)"/>
</g>
<rect x="394.30" y="176.50" width="56.00" height="9.20" fill="none" stroke="#9a9a9a" stroke-width="0.6"/>
<clipPath id="cp3943_1900"><rect x="394.30" y="190.00" width="56.00" height="9.30"/></clipPath>
<rect x="394.30" y="190.00" width="56.00" height="9.30" fill="#e9e9e9"/>
<g clip-path="url(#cp3943_1900)">
<ellipse cx="399.90" cy="194.85" rx="3.00" ry="0.80" fill="#c4c4c4" filter="url(#b3)"/>
<ellipse cx="411.10" cy="194.85" rx="3.50" ry="1.00" fill="#aaaaaa" filter="url(#b3)"/>
<ellipse cx="422.30" cy="194.85" rx="4.75" ry="1.40" fill="#2a2a2a" filter="url(#b6)"/>
<ellipse cx="433.50" cy="194.85" rx="5.25" ry="2.60" fill="#030303" filter="url(#b6)"/>
<ellipse cx="444.70" cy="194.85" rx="5.00" ry="2.20" fill="#080808" filter="url(#b6)"/>
</g>
<rect x="394.30" y="190.00" width="56.00" height="9.30" fill="none" stroke="#9a9a9a" stroke-width="0.6"/>
<clipPath id="cp3943_2034"><rect x="394.30" y="203.40" width="56.00" height="9.20"/></clipPath>
<rect x="394.30" y="203.40" width="56.00" height="9.20" fill="#e9e9e9"/>
<g clip-path="url(#cp3943_2034)">
<ellipse cx="399.90" cy="208.20" rx="4.80" ry="0.95" fill="#0c0c0c" filter="url(#b3)"/>
<ellipse cx="411.10" cy="208.20" rx="4.80" ry="0.95" fill="#0c0c0c" filter="url(#b3)"/>
<ellipse cx="422.30" cy="208.20" rx="4.80" ry="0.95" fill="#0c0c0c" filter="url(#b3)"/>
<ellipse cx="433.50" cy="208.20" rx="4.80" ry="0.95" fill="#0c0c0c" filter="url(#b3)"/>
<ellipse cx="444.70" cy="208.20" rx="4.80" ry="0.95" fill="#0c0c0c" filter="url(#b3)"/>
</g>
<rect x="394.30" y="203.40" width="56.00" height="9.20" fill="none" stroke="#9a9a9a" stroke-width="0.6"/>
<text x="392.90" y="183.40" text-anchor="end" stroke="#1c1c1c" font-size="6.0">HIF-1α</text>
<text x="452.50" y="183.40" stroke="#1c1c1c" font-size="6.0">120 kDa</text>
<text x="392.90" y="196.95" text-anchor="end" stroke="#1c1c1c" font-size="6.0">SKA3</text>
<text x="452.50" y="196.95" stroke="#1c1c1c" font-size="6.0">43 kDa</text>
<text x="392.90" y="210.30" text-anchor="end" stroke="#1c1c1c" font-size="6.0">β-actin</text>
<text x="452.50" y="210.30" stroke="#1c1c1c" font-size="6.0">42 kDa</text>
</g>
<g id="panelI">
<text x="483.00" y="145.60" font-weight="bold" fill="#000" stroke="#000" font-size="7.0">I</text>
<text x="587.70" y="154.50" text-anchor="middle" fill="#e0352f" stroke="#e0352f" stroke-width="0.2">Hypoxia</text>
<line x1="509.10" y1="156.50" x2="670.10" y2="156.50" stroke="#5a5252" stroke-width="0.9"/>
<text x="515.90" y="165.00" text-anchor="middle" stroke="#1c1c1c" font-size="6.0">A549</text>
<text x="561.70" y="165.00" text-anchor="middle" stroke="#1c1c1c" font-size="6.0">HT-A549</text>
<text x="612.30" y="165.00" text-anchor="middle" stroke="#1c1c1c" font-size="6.0">PC9</text>
<text x="659.00" y="165.00" text-anchor="middle" stroke="#1c1c1c" font-size="6.0">HT-PC9</text>
<rect x="493.40" y="167.50" width="91.30" height="44.80" fill="#fff" stroke="#4a4242" stroke-width="0.9"/>
<rect x="591.30" y="167.50" width="90.50" height="44.80" fill="#fff" stroke="#4a4242" stroke-width="0.9"/>
<radialGradient id="dg101"><stop offset="0.75" stop-color="#e8e7e1"/><stop offset="1" stop-color="#c9c8bb"/></radialGradient>
<circle cx="516.30" cy="189.80" r="21.70" fill="url(#dg101)"/>
<clipPath id="dc101"><circle cx="516.30" cy="189.80" r="21.40"/></clipPath>
<g clip-path="url(#dc101)">
<ellipse cx="516.30" cy="169.60" rx="9.77" ry="3.2" fill="#6f7358" opacity="0.7" filter="url(#b10)"/>
<g filter="url(#b3)">
<path d="M528.1 195.4h0M519.1 176.4h0M500.8 200.4h0M525.7 180.1h0M525.0 180.4h0M536.9 186.6h0M503.8 175.0h0M534.4 186.9h0M515.9 169.7h0M536.0 194.3h0M495.8 193.8h0M530.1 200.5h0M501.7 177.5h0M512.8 179.1h0M500.8 175.8h0M507.9 176.4h0M500.3 190.9h0M512.3 203.0h0M526.7 193.5h0M531.9 201.4h0M515.1 170.4h0M502.2 203.9h0M498.1 183.6h0" stroke="#9a78b0" stroke-width="0.49" stroke-linecap="round" fill="none" opacity="0.49"/>
<path d="M498.0 193.6h0M499.8 195.7h0M534.1 190.9h0M530.5 179.0h0M519.4 178.3h0M516.8 204.4h0M517.3 204.2h0M520.2 208.1h0M498.0 188.3h0M535.4 186.7h0M508.0 193.2h0M506.1 206.1h0M515.0 203.6h0M505.5 176.0h0M514.4 171.3h0M514.0 171.9h0M508.6 192.4h0M532.7 177.2h0M506.0 207.7h0M501.2 181.9h0M532.5 189.2h0M531.1 188.5h0M529.8 179.7h0M517.2 170.4h0M502.1 194.1h0M519.8 191.1h0M513.7 210.5h0M503.4 176.8h0M505.1 202.6h0M521.4 198.4h0M530.4 190.9h0M498.6 186.5h0M519.4 198.1h0M521.6 179.7h0M495.6 192.1h0M530.3 193.1h0" stroke="#9a78b0" stroke-width="0.59" stroke-linecap="round" fill="none" opacity="0.58"/>
<path d="M504.9 183.4h0M512.6 200.3h0M512.4 195.5h0M532.7 188.3h0M527.4 194.7h0M496.0 190.0h0M525.5 187.1h0M535.9 184.4h0M509.7 196.4h0M503.6 192.8h0M533.7 200.9h0M500.2 193.3h0M511.5 182.7h0M499.7 184.1h0M528.0 191.2h0M524.8 179.6h0M528.6 202.5h0M511.7 203.9h0M536.8 191.5h0M528.0 206.2h0M497.2 197.5h0M512.4 197.0h0M528.8 202.9h0M525.9 177.0h0M498.8 186.6h0M507.1 190.9h0M519.7 180.5h0M518.2 193.8h0M516.8 210.0h0" stroke="#9a78b0" stroke-width="0.69" stroke-linecap="round" fill="none" opacity="0.67"/>
<path d="M499.8 177.5h0M511.5 177.2h0M501.3 192.5h0M508.0 194.2h0M505.9 172.3h0M497.7 185.8h0M522.3 180.2h0M528.1 183.8h0M534.7 191.2h0M507.5 171.4h0M507.6 203.0h0M517.3 206.3h0M536.3 196.2h0M534.9 183.9h0M518.9 169.2h0M508.8 170.3h0M532.5 203.1h0M526.4 207.0h0M511.8 176.6h0M501.1 199.7h0M508.5 188.5h0M519.5 169.6h0M527.5 183.3h0M510.4 176.4h0M524.4 199.3h0M516.5 172.7h0M518.7 170.6h0M525.7 189.7h0M514.2 205.1h0M529.7 174.8h0M524.1 199.3h0M536.5 189.1h0" stroke="#9a78b0" stroke-width="0.79" stroke-linecap="round" fill="none" opacity="0.76"/>
</g></g>
<radialGradient id="dg102"><stop offset="0.75" stop-color="#e9e7e8"/><stop offset="1" stop-color="#d2cdd6"/></radialGradient>
<circle cx="562.10" cy="189.80" r="21.90" fill="url(#dg102)"/>
<clipPath id="dc102"><circle cx="562.10" cy="189.80" r="21.60"/></clipPath>
<g clip-path="url(#dc102)">
<ellipse cx="562.10" cy="169.40" rx="9.86" ry="3.2" fill="#6a4aa0" opacity="0.4" filter="url(#b10)"/>
<g filter="url(#b3)">
<path d="M548.3 202.1h0M551.7 189.1h0M555.3 177.4h0M541.5 185.4h0M547.8 179.4h0M576.8 202.9h0M556.3 169.6h0M553.8 171.7h0M579.4 185.3h0M567.0 171.3h0M551.9 204.3h0M541.4 186.0h0M559.6 172.7h0M564.3 210.7h0M570.2 172.4h0M578.9 178.5h0M559.6 208.5h0M542.4 194.5h0M569.1 170.3h0M549.4 191.4h0M577.2 175.2h0M566.1 204.1h0M556.7 174.6h0M542.0 191.2h0M567.6 170.8h0M570.8 178.1h0M566.4 207.4h0M574.2 174.5h0M552.3 206.2h0M570.0 179.0h0M567.1 191.1h0M547.7 202.8h0M581.6 188.9h0M568.5 171.1h0M560.8 175.5h0M549.5 205.3h0M575.7 198.5h0M545.3 182.8h0M548.3 194.8h0M562.9 175.7h0M573.3 207.2h0M567.2 210.1h0M547.9 195.9h0M543.9 186.3h0M560.4 208.8h0M551.4 175.3h0M560.5 173.1h0M576.9 179.1h0M566.3 199.9h0M545.5 191.8h0M574.1 199.7h0M572.5 205.0h0M581.4 192.4h0M548.9 173.5h0M557.8 170.9h0M571.6 187.4h0M567.0 178.3h0M580.4 188.3h0M575.2 199.3h0M576.3 177.7h0M568.3 181.7h0M561.1 196.5h0M569.2 202.5h0M543.3 196.7h0M546.6 177.3h0M573.4 177.7h0M542.3 194.6h0M544.1 199.3h0M580.9 181.8h0M551.5 192.7h0M554.6 170.5h0M559.0 207.2h0M572.7 188.5h0M544.4 188.9h0M562.0 170.9h0M566.4 169.4h0M563.6 172.9h0M571.8 172.0h0M543.0 189.9h0M565.1 210.5h0M567.9 206.8h0M560.5 206.2h0M542.7 194.0h0M566.5 186.1h0M570.1 175.8h0M570.0 208.6h0M541.8 189.8h0M576.8 204.9h0M566.4 176.5h0M553.2 181.8h0M552.1 189.4h0M573.6 204.5h0M577.0 202.6h0M582.0 193.0h0M575.9 177.1h0M548.2 193.1h0M553.4 173.0h0M569.8 177.1h0M557.7 201.4h0" stroke="#7a4fb4" stroke-width="0.81" stroke-linecap="round" fill="none" opacity="0.69"/>
<path d="M573.1 204.6h0M544.4 183.5h0M559.2 172.2h0M560.6 173.9h0M578.3 177.8h0M569.7 175.7h0M568.5 179.8h0M555.6 197.3h0M550.7 176.2h0M547.0 202.2h0M545.4 202.2h0M559.7 173.5h0M566.0 206.2h0M565.1 206.0h0M576.2 197.6h0M550.0 197.0h0M554.2 171.3h0M550.0 183.9h0M565.7 208.2h0M557.5 178.1h0M568.4 182.8h0M552.0 171.7h0M560.7 210.9h0M577.4 181.9h0M580.0 197.8h0M561.8 200.7h0M562.2 171.1h0M579.4 180.2h0M563.2 207.0h0M582.9 187.4h0M561.3 169.8h0M557.8 206.8h0M564.0 196.7h0M570.1 172.5h0M559.4 175.9h0M541.2 189.3h0M543.5 188.6h0M552.1 207.4h0M569.5 208.1h0M560.0 168.8h0M571.1 209.0h0M543.7 200.3h0M549.7 188.1h0M582.2 192.0h0M574.0 183.9h0M556.1 207.1h0M564.0 207.0h0M577.0 202.8h0M545.1 178.9h0M542.7 192.1h0M570.9 208.7h0M578.6 198.9h0M566.7 176.7h0M570.0 178.0h0M569.9 204.5h0M563.2 209.9h0M573.7 199.6h0M549.1 204.7h0M559.8 171.6h0M576.7 187.6h0M576.4 183.7h0M573.5 186.2h0M571.6 208.6h0M542.3 187.6h0M574.5 177.5h0M557.9 202.0h0M561.6 170.2h0M578.7 194.0h0M556.1 174.8h0M561.1 170.9h0M554.8 190.0h0M570.4 185.4h0M557.0 206.8h0M571.4 186.0h0M548.0 188.2h0M545.0 184.2h0M547.6 189.1h0M579.5 181.9h0M555.6 185.6h0M551.2 183.3h0M561.0 183.7h0M547.5 196.3h0M566.5 203.0h0M555.7 173.3h0M564.1 168.8h0M568.7 173.4h0M582.2 193.5h0M542.2 197.0h0M544.1 188.7h0M550.9 173.8h0M563.9 177.2h0M582.9 191.7h0M577.0 180.8h0M554.1 175.0h0M545.9 185.9h0M558.4 173.9h0M555.4 169.8h0M565.2 210.6h0M575.8 185.8h0M553.8 204.7h0M583.2 187.5h0M577.4 194.0h0M557.4 169.5h0M579.5 187.0h0M563.8 169.5h0M574.0 184.0h0" stroke="#7a4fb4" stroke-width="1.04" stroke-linecap="round" fill="none" opacity="0.78"/>
<path d="M581.3 185.5h0M542.2 193.0h0M561.5 179.8h0M555.5 195.0h0M573.2 191.6h0M561.8 202.8h0M572.6 174.4h0M555.2 180.8h0M548.6 186.0h0M564.7 183.1h0M577.3 177.7h0M551.8 189.6h0M561.3 174.2h0M573.3 181.3h0M553.9 196.7h0M552.7 208.0h0M557.8 177.5h0M548.3 203.7h0M563.1 208.5h0M549.8 199.5h0M580.8 193.0h0M546.8 194.7h0M547.7 176.2h0M551.8 173.6h0M569.5 204.6h0M551.6 176.1h0M548.0 175.1h0M562.8 208.4h0M566.2 170.2h0M566.0 206.1h0M566.3 181.1h0M573.2 207.8h0M562.5 168.7h0M552.3 202.6h0M563.6 205.8h0M567.2 177.6h0M573.9 173.9h0M556.9 191.7h0M571.7 171.2h0M550.5 186.6h0M547.3 183.3h0M579.0 182.5h0M572.3 191.6h0M550.8 177.7h0M551.3 207.2h0M569.9 174.4h0M569.7 179.5h0M573.2 199.2h0M579.9 188.9h0M570.9 178.2h0M559.0 183.7h0M557.6 180.3h0M544.5 177.9h0M580.9 192.3h0M551.2 198.8h0M552.4 171.8h0M570.8 182.1h0M573.0 188.9h0M548.6 179.0h0M557.1 180.3h0M552.4 189.0h0M543.8 179.2h0M558.4 209.9h0M555.1 186.7h0M567.6 170.5h0M550.1 203.5h0M572.8 200.9h0M542.6 187.6h0M555.4 197.4h0M546.5 198.1h0M550.8 186.9h0M576.7 177.5h0M558.2 177.2h0M550.0 206.4h0M574.5 172.7h0M579.5 199.1h0M554.1 178.5h0M565.9 182.4h0M565.2 206.2h0M552.8 171.6h0M559.7 201.2h0" stroke="#7a4fb4" stroke-width="1.26" stroke-linecap="round" fill="none" opacity="0.87"/>
<path d="M555.3 172.7h0M545.7 190.8h0M542.6 188.6h0M550.8 177.6h0M570.6 173.2h0M555.1 208.3h0M548.9 197.3h0M575.0 191.6h0M560.9 210.6h0M552.6 172.6h0M571.3 200.8h0M544.6 195.3h0M545.7 185.2h0M569.6 187.8h0M544.9 183.5h0M573.0 177.8h0M572.4 201.4h0M559.9 204.0h0M545.9 178.6h0M568.8 189.5h0M580.8 180.2h0M574.4 194.7h0M578.6 186.9h0M556.7 199.2h0M580.6 179.8h0M564.4 179.7h0M582.4 191.2h0M567.9 204.8h0M576.7 183.0h0M570.7 208.4h0M557.9 207.0h0M544.8 180.3h0M567.1 208.0h0M581.8 196.9h0M573.9 176.2h0M580.7 180.6h0M579.0 183.4h0M553.9 198.0h0M581.2 182.0h0M566.3 206.1h0M568.4 205.8h0M571.3 184.3h0M545.5 182.0h0M558.9 209.1h0M564.0 207.1h0M550.7 172.3h0M583.0 193.4h0M561.4 177.1h0M552.9 208.5h0M556.5 201.8h0M545.4 187.4h0M562.9 206.0h0M567.5 207.0h0M546.8 195.7h0M559.1 184.1h0M575.6 181.6h0M544.0 194.4h0M543.6 181.0h0M565.5 210.1h0M556.0 210.1h0M554.2 197.0h0M556.4 205.8h0M564.8 186.1h0M566.9 195.5h0M576.4 200.7h0M574.5 175.4h0M566.4 174.6h0M551.3 181.3h0M579.4 201.6h0M581.0 180.9h0M567.4 169.4h0M572.7 188.1h0M549.7 174.0h0M569.4 176.5h0M554.2 202.2h0M555.9 208.5h0M546.4 185.4h0M545.2 186.6h0M557.7 194.4h0M563.1 173.1h0M574.4 200.8h0M560.1 195.2h0M581.0 194.5h0M571.2 175.1h0M581.4 192.6h0M549.4 186.8h0M563.8 204.2h0M550.6 207.5h0M575.9 175.4h0M557.5 205.8h0M566.9 193.2h0M574.8 174.4h0M571.3 183.0h0M577.7 201.6h0M569.8 206.4h0M559.8 205.1h0M564.1 209.1h0M565.4 205.1h0M553.2 200.3h0M550.5 207.5h0M560.4 182.3h0M555.2 184.5h0M552.5 172.5h0M544.3 181.3h0M549.3 174.9h0M551.5 199.9h0M580.1 196.8h0M550.9 199.7h0M563.6 204.1h0M553.1 205.8h0M545.5 202.5h0M560.2 203.3h0M548.2 189.8h0M553.6 209.1h0" stroke="#7a4fb4" stroke-width="1.49" stroke-linecap="round" fill="none" opacity="0.96"/>
</g></g>
<radialGradient id="dg103"><stop offset="0.75" stop-color="#e5e1de"/><stop offset="1" stop-color="#b9b3ac"/></radialGradient>
<circle cx="613.80" cy="189.80" r="21.80" fill="url(#dg103)"/>
<clipPath id="dc103"><circle cx="613.80" cy="189.80" r="21.50"/></clipPath>
<g clip-path="url(#dc103)">
<circle cx="613.80" cy="189.80" r="21.80" fill="#c9b3c9" opacity="0.3"/>
<ellipse cx="613.80" cy="169.50" rx="9.81" ry="3.2" fill="#5f5a4c" opacity="0.8" filter="url(#b10)"/>
<g filter="url(#b3)">
<path d="M606.2 170.9h0M619.7 183.7h0M625.1 202.2h0M603.5 195.4h0M600.5 191.4h0M607.7 206.5h0M630.3 188.4h0M628.6 192.5h0M601.1 204.5h0M606.4 200.7h0M603.5 196.0h0M626.2 204.1h0M621.4 180.7h0M603.7 176.2h0M594.3 186.2h0M609.7 178.8h0M609.7 197.4h0M608.5 173.2h0M602.7 204.4h0M624.6 198.3h0M611.1 178.8h0M617.4 200.7h0M627.0 194.2h0M610.9 208.0h0M608.1 206.9h0M631.4 185.7h0M617.3 172.3h0M594.9 188.8h0M593.4 185.2h0M604.9 192.7h0M623.9 177.7h0M624.8 179.7h0M607.1 209.3h0M623.7 205.1h0M626.1 205.6h0M605.2 192.2h0M613.1 199.4h0M618.1 194.5h0M614.1 209.1h0M605.7 173.2h0M633.4 191.2h0M599.7 185.9h0M617.7 174.9h0M615.0 190.5h0" stroke="#9a72a8" stroke-width="0.49" stroke-linecap="round" fill="none" opacity="0.47"/>
<path d="M628.8 187.8h0M633.8 195.5h0M616.4 207.3h0M622.9 195.3h0M622.2 173.6h0M632.7 194.8h0M612.3 209.8h0M625.1 178.1h0M611.1 207.1h0M619.6 171.5h0M607.0 183.9h0M604.9 190.6h0M593.3 187.0h0M623.3 171.7h0M609.1 174.9h0M604.7 172.4h0M618.8 178.9h0M617.9 201.7h0M616.6 201.9h0M610.4 196.3h0M610.3 200.6h0M604.3 182.6h0M602.2 184.1h0M597.0 194.9h0M621.5 179.7h0M622.2 208.3h0M627.6 174.9h0M594.4 184.7h0M625.7 173.0h0M630.4 202.4h0M597.1 177.4h0M631.6 198.1h0M631.2 183.8h0M626.7 199.9h0M607.6 193.0h0M612.4 180.2h0M626.1 180.2h0M634.4 194.0h0M622.8 206.8h0M617.2 207.0h0M620.7 188.2h0M630.5 202.3h0M593.6 189.3h0M622.5 192.3h0M600.1 183.7h0M607.1 192.1h0M612.8 187.4h0M607.4 170.5h0M618.6 209.6h0M601.4 191.9h0" stroke="#9a72a8" stroke-width="0.59" stroke-linecap="round" fill="none" opacity="0.55"/>
<path d="M605.2 177.3h0M595.9 186.5h0M608.6 191.7h0M597.0 183.8h0M593.4 185.0h0M605.7 195.9h0M622.4 172.9h0M597.1 178.1h0M600.1 199.8h0M628.7 203.7h0M613.9 170.5h0M610.8 169.1h0M623.5 197.5h0M614.4 183.9h0M601.7 194.6h0M622.4 180.6h0M624.0 205.2h0M596.0 200.8h0M627.3 184.2h0M611.3 192.8h0M595.8 196.1h0M622.0 192.3h0M599.9 186.7h0M609.0 204.8h0M622.8 173.5h0M631.4 194.1h0M630.7 177.6h0M612.3 182.0h0M629.4 196.6h0M623.0 204.6h0M620.6 173.9h0M626.1 206.2h0M631.3 182.3h0M619.0 210.0h0M600.6 186.4h0M626.1 186.8h0M618.4 176.2h0M630.0 195.4h0M594.4 186.3h0M614.5 175.9h0M621.3 190.9h0M626.0 193.5h0M605.9 182.4h0M597.1 182.1h0M632.9 186.2h0M607.7 206.2h0M613.6 171.3h0M598.8 178.0h0" stroke="#9a72a8" stroke-width="0.69" stroke-linecap="round" fill="none" opacity="0.63"/>
<path d="M604.0 182.0h0M624.5 177.0h0M630.0 184.1h0M614.6 173.7h0M610.6 177.8h0M602.2 181.7h0M605.7 182.0h0M617.9 195.8h0M608.3 173.2h0M623.5 175.5h0M607.0 182.9h0M623.6 203.6h0M618.9 171.8h0M609.6 203.6h0M627.0 197.6h0M607.6 201.9h0M606.2 179.4h0M611.2 177.9h0M605.4 176.2h0M614.9 168.7h0M601.7 177.6h0M622.9 208.7h0M625.2 190.6h0M609.9 175.7h0M599.9 179.6h0M604.0 179.3h0M631.6 201.0h0M631.5 195.3h0M625.0 206.1h0M629.4 200.0h0M617.4 179.1h0M593.8 194.4h0M626.7 176.0h0M605.1 171.0h0M622.9 204.0h0M607.6 178.5h0M628.9 191.8h0M621.2 174.3h0M602.1 189.0h0M618.0 191.5h0M601.7 183.1h0M611.3 205.3h0M595.3 180.8h0M602.3 192.4h0M612.7 175.3h0M623.8 175.5h0M629.0 177.2h0M619.8 170.6h0M605.0 174.7h0M607.7 175.1h0M601.8 188.4h0M608.7 203.2h0M600.7 188.5h0M625.0 176.6h0M610.8 206.5h0M609.5 195.0h0M602.5 207.4h0M598.3 183.9h0" stroke="#9a72a8" stroke-width="0.79" stroke-linecap="round" fill="none" opacity="0.71"/>
</g></g>
<radialGradient id="dg104"><stop offset="0.75" stop-color="#e8e6ea"/><stop offset="1" stop-color="#d0cbd8"/></radialGradient>
<circle cx="659.40" cy="189.80" r="21.70" fill="url(#dg104)"/>
<clipPath id="dc104"><circle cx="659.40" cy="189.80" r="21.40"/></clipPath>
<g clip-path="url(#dc104)">
<ellipse cx="659.40" cy="169.60" rx="9.77" ry="3.2" fill="#3a2890" opacity="0.95" filter="url(#b10)"/>
<g filter="url(#b3)">
<path d="M669.3 197.4h0M650.7 176.9h0M665.0 183.2h0M659.2 206.4h0M656.5 174.8h0M641.9 187.7h0M652.4 186.0h0M646.3 174.6h0M670.9 175.7h0M640.4 192.2h0M677.7 198.7h0M645.2 200.7h0M668.3 204.6h0M676.2 191.1h0M660.0 207.6h0M645.9 204.4h0M667.4 170.6h0M672.7 203.6h0M677.2 188.6h0M638.6 187.3h0M653.2 175.6h0M646.8 174.7h0M641.9 180.8h0M656.5 207.0h0M650.6 201.1h0M673.2 198.6h0M676.3 201.8h0M660.4 197.6h0M657.3 175.8h0M642.0 190.4h0M658.7 169.8h0M652.3 200.0h0M655.0 174.1h0M677.9 184.9h0M647.9 203.8h0M656.8 201.9h0M638.9 185.6h0M646.7 200.6h0M670.8 172.7h0M679.4 187.6h0M658.6 206.7h0M660.9 180.2h0M651.5 173.0h0M648.6 179.9h0M677.3 187.9h0M673.3 177.4h0M644.8 180.5h0M659.2 205.8h0M651.8 202.3h0M665.5 175.1h0M644.2 202.2h0M657.8 206.6h0M660.8 175.7h0M649.9 190.9h0M656.9 198.6h0M646.3 177.0h0M665.0 201.7h0M665.5 206.5h0M657.0 178.2h0M667.9 171.5h0M643.5 191.4h0M655.6 175.7h0M667.9 176.8h0M645.7 190.3h0M651.0 171.1h0M670.6 206.2h0M669.1 193.6h0M654.1 209.5h0M648.0 203.4h0M675.9 181.3h0M654.2 210.1h0M645.7 200.0h0M648.1 204.1h0M678.7 189.6h0M656.0 203.7h0M674.9 187.8h0M668.5 172.2h0M642.8 179.6h0M673.0 198.1h0M647.7 181.6h0M659.8 208.5h0M678.4 194.6h0M671.5 173.5h0M648.3 201.6h0M645.5 192.1h0M678.1 183.6h0M673.4 198.9h0M657.0 203.9h0M672.0 200.0h0M662.0 172.3h0M675.8 185.2h0M649.0 175.1h0M675.5 188.0h0M657.2 210.1h0M670.9 193.4h0M644.0 187.5h0M645.2 199.9h0M650.3 207.0h0M671.6 206.9h0M655.6 179.2h0M645.3 195.4h0M652.5 194.2h0M655.0 171.7h0M647.9 176.2h0M650.9 181.8h0M646.3 187.3h0M662.1 199.1h0M642.9 187.1h0M647.8 174.5h0M675.6 179.5h0M675.2 189.7h0M648.3 178.5h0M659.0 178.0h0M648.6 187.7h0" stroke="#6f45b4" stroke-width="0.82" stroke-linecap="round" fill="none" opacity="0.69"/>
<path d="M679.0 184.8h0M655.2 193.2h0M661.8 183.3h0M680.1 187.9h0M645.9 194.6h0M643.2 178.4h0M647.1 206.8h0M665.5 173.0h0M677.4 179.0h0M676.1 193.2h0M651.8 182.2h0M670.3 195.1h0M647.2 176.7h0M668.9 199.3h0M675.2 201.7h0M642.1 199.7h0M645.7 201.2h0M671.2 196.9h0M645.3 189.2h0M643.1 190.4h0M656.1 210.0h0M650.6 189.6h0M642.7 186.8h0M639.4 193.4h0M669.1 205.1h0M650.5 175.7h0M668.5 172.7h0M666.6 199.3h0M673.0 198.4h0M648.4 173.1h0M644.2 201.1h0M666.9 173.6h0M669.6 195.7h0M652.7 170.4h0M653.3 202.6h0M677.2 185.8h0M678.7 186.0h0M667.3 173.7h0M647.0 183.2h0M641.6 180.4h0M649.5 175.2h0M657.1 174.7h0M673.9 200.4h0M665.2 198.7h0M644.2 184.9h0M675.4 198.0h0M650.1 204.1h0M656.6 176.4h0M669.4 202.8h0M671.4 187.3h0M651.5 174.1h0M644.6 179.9h0M673.7 176.2h0M641.9 191.9h0M650.3 186.3h0M671.0 198.5h0M646.4 189.7h0M651.8 206.1h0M644.3 195.2h0M674.1 203.5h0M639.6 196.9h0M652.4 205.9h0M676.9 184.5h0M657.6 208.9h0M674.3 199.5h0M642.2 180.8h0M660.6 179.2h0M654.5 210.1h0M674.4 195.0h0M642.1 198.7h0M646.1 173.9h0M679.2 184.0h0M651.3 192.1h0M651.9 205.8h0M660.2 171.0h0M658.7 201.7h0M667.0 204.5h0M642.6 200.1h0M653.6 197.1h0M659.6 180.4h0M660.4 195.7h0M668.2 192.4h0M641.9 201.2h0M646.9 187.8h0M644.2 195.9h0M654.1 182.5h0M678.5 186.1h0M662.9 207.0h0M676.5 180.0h0M668.2 175.5h0M670.9 188.6h0M669.6 200.0h0M673.3 202.2h0M671.1 173.9h0M654.7 199.1h0M659.0 210.3h0M666.3 175.2h0M673.5 201.1h0M662.7 172.2h0M675.9 192.0h0M653.4 170.4h0M643.0 199.1h0M659.9 208.4h0M640.9 198.6h0M649.1 204.8h0M640.1 196.4h0M671.7 206.7h0M661.8 172.7h0M673.2 180.4h0M663.2 198.4h0M650.0 203.8h0M653.0 205.1h0M649.6 202.9h0M664.7 186.1h0M640.2 182.0h0M641.7 184.9h0M645.5 183.4h0M662.0 170.6h0M677.5 194.3h0M643.0 185.5h0M671.1 176.4h0M647.4 190.1h0M679.0 184.0h0M665.5 179.9h0" stroke="#6f45b4" stroke-width="1.07" stroke-linecap="round" fill="none" opacity="0.78"/>
<path d="M642.6 179.1h0M653.4 191.4h0M652.2 193.4h0M652.7 207.6h0M656.5 209.1h0M649.0 180.2h0M671.5 204.9h0M663.6 199.1h0M669.1 208.0h0M679.5 186.0h0M643.5 203.1h0M675.9 195.6h0M642.6 179.7h0M654.3 196.0h0M665.7 208.9h0M675.6 187.4h0M679.2 195.0h0M671.5 183.8h0M655.2 209.3h0M649.9 197.1h0M669.8 192.5h0M672.1 204.8h0M662.2 170.4h0M664.2 182.7h0M658.6 173.6h0M645.2 191.4h0M670.0 175.2h0M643.8 192.1h0M672.5 176.4h0M641.6 179.5h0M667.1 195.6h0M642.2 181.5h0M639.5 192.4h0M641.4 184.4h0M651.1 203.2h0M645.7 202.6h0M664.4 178.0h0M655.0 191.5h0M669.9 203.9h0M674.1 185.4h0M646.9 204.0h0M666.3 208.7h0M673.9 199.5h0M643.1 182.3h0M660.0 175.5h0M665.6 172.2h0M656.3 171.0h0M662.1 174.0h0M650.7 206.3h0M655.9 170.7h0M660.9 170.5h0M646.2 180.7h0M639.0 188.9h0M674.9 185.0h0M653.8 181.7h0M652.9 202.7h0M673.7 199.5h0M678.6 195.5h0M663.5 171.8h0M667.8 197.7h0M668.4 173.8h0M645.5 177.9h0M674.4 188.5h0M665.5 170.5h0M660.8 202.8h0M641.7 195.3h0M647.8 204.2h0M661.9 210.2h0M654.5 172.2h0M664.6 175.4h0M674.8 176.8h0M673.0 200.3h0M646.8 178.1h0M658.1 177.4h0M677.6 184.3h0M651.6 182.6h0M646.1 175.5h0M649.8 189.9h0M659.7 196.0h0M674.7 180.6h0M675.3 203.2h0M674.8 202.9h0M667.9 182.4h0M669.0 173.7h0M664.4 180.3h0M648.8 201.4h0M641.2 181.8h0M655.4 173.0h0M655.0 171.1h0M676.0 188.7h0M666.1 208.9h0M640.6 185.6h0M652.9 184.8h0M666.4 198.9h0M663.2 184.3h0M645.9 192.4h0M678.8 185.9h0M653.0 209.8h0M660.0 169.1h0M668.9 200.8h0M645.4 186.7h0" stroke="#6f45b4" stroke-width="1.32" stroke-linecap="round" fill="none" opacity="0.87"/>
<path d="M671.2 176.0h0M648.0 177.9h0M663.7 179.6h0M667.9 179.6h0M671.7 201.8h0M672.2 173.9h0M664.8 206.2h0M657.6 171.4h0M675.9 181.6h0M672.0 175.7h0M674.8 182.4h0M648.3 179.3h0M650.2 206.5h0M657.2 173.3h0M654.8 180.1h0M649.4 172.5h0M643.0 184.9h0M645.8 183.8h0M638.8 191.7h0M679.4 184.1h0M667.4 172.1h0M663.8 177.6h0M649.5 202.2h0M644.5 199.7h0M645.5 177.7h0M667.2 171.8h0M653.3 171.5h0M641.7 191.0h0M672.8 204.3h0M662.9 197.7h0M663.2 204.4h0M641.0 182.3h0M660.1 182.2h0M662.8 179.9h0M660.8 173.3h0M648.8 207.5h0M654.6 175.8h0M675.9 179.2h0M645.9 182.3h0M644.6 184.8h0M656.6 200.0h0M680.0 189.8h0M658.8 210.6h0M674.0 181.3h0M645.2 176.3h0M660.7 174.7h0M654.3 209.8h0M658.3 169.0h0M650.2 173.0h0M654.9 195.9h0M649.6 204.5h0M641.5 192.6h0M666.0 201.7h0M662.4 206.5h0M670.4 193.6h0M663.7 209.4h0M648.4 185.8h0M678.5 181.8h0M655.1 210.3h0M651.1 194.7h0M646.2 173.7h0M677.7 194.1h0M643.2 184.5h0M651.8 205.0h0M642.0 184.2h0M661.8 171.8h0M648.4 202.1h0M675.5 202.3h0M675.7 189.4h0M673.2 205.2h0M665.4 200.4h0M658.8 200.7h0M645.9 176.1h0M651.4 175.8h0M674.9 177.8h0M669.9 172.8h0M679.0 187.3h0M643.7 189.2h0M676.4 179.8h0M677.2 188.4h0M646.2 181.9h0M675.3 201.8h0M672.4 178.3h0M665.7 202.8h0M663.4 175.8h0M676.2 182.3h0M667.7 192.8h0M673.5 189.6h0M657.7 206.2h0M671.8 179.2h0M639.5 183.5h0" stroke="#6f45b4" stroke-width="1.57" stroke-linecap="round" fill="none" opacity="0.96"/>
</g></g>
</g>
<g id="panelJ">
<text x="2.40" y="226.40" font-weight="bold" fill="#000" stroke="#000" font-size="7.0">J</text>
<text x="23.80" y="266.50" text-anchor="middle" fill="#cf4f2e" stroke="#cf4f2e" font-size="6.1">oe-SKA3</text>
<text x="23.80" y="273.80" text-anchor="middle" fill="#cf4f2e" stroke="#cf4f2e" font-size="6.1">+DMSO</text>
<text x="23.80" y="296.00" text-anchor="middle" fill="#3b74bd" stroke="#3b74bd" font-size="6.1">Ctrl</text>
<text x="23.80" y="303.30" text-anchor="middle" fill="#3b74bd" stroke="#3b74bd" font-size="6.1">+DMSO</text>
<text x="23.80" y="325.50" text-anchor="middle" fill="#a9c1e8" stroke="#a9c1e8" font-size="6.1">oe-SKA3+</text>
<text x="23.80" y="332.80" text-anchor="middle" fill="#a9c1e8" stroke="#a9c1e8" font-size="6.1">HIF-1α inhibitor</text>
<text x="23.80" y="355.00" text-anchor="middle" fill="#bdbdbd" stroke="#bdbdbd" font-size="6.1">sh-SKA3</text>
<text x="23.80" y="362.30" text-anchor="middle" fill="#bdbdbd" stroke="#bdbdbd" font-size="6.1">+DMSO</text>
<text x="23.80" y="384.50" text-anchor="middle" fill="#787878" stroke="#787878" font-size="6.1">Ctrl+</text>
<text x="23.80" y="391.80" text-anchor="middle" fill="#787878" stroke="#787878" font-size="6.1">HIF-1α inhibitor</text>
<text x="23.80" y="414.00" text-anchor="middle" fill="#262626" stroke="#262626" font-size="6.1">sh-SKA3+</text>
<text x="23.80" y="421.30" text-anchor="middle" fill="#262626" stroke="#262626" font-size="6.1">HIF-1α inhibitor</text>
<text x="102.80" y="242.40" text-anchor="middle" stroke="#1c1c1c" font-size="6.1">HT-A549</text>
<line x1="46.70" y1="246.30" x2="149.00" y2="246.30" stroke="#3a3a3a" stroke-width="0.8"/>
<text x="65.40" y="252.70" text-anchor="middle" stroke="#1c1c1c" font-size="6.1">Hoechst</text>
<text x="103.20" y="252.70" text-anchor="middle" stroke="#1c1c1c" font-size="6.1">Tunel</text>
<text x="139.70" y="252.70" text-anchor="middle" stroke="#1c1c1c" font-size="6.1">Merge</text>
<rect x="46.90" y="253.80" width="112.10" height="27.50" fill="#050509"/>
<clipPath id="jc00"><rect x="46.90" y="253.80" width="112.10" height="27.5"/></clipPath>
<g clip-path="url(#jc00)">
<g id="h00" transform="translate(46.90 253.80)" filter="url(#b3)">
<path d="M26.1 3.0h0M3.5 8.6h0M31.9 8.0h0M16.5 22.8h0M33.7 19.7h0M34.5 9.8h0M27.4 13.0h0M28.0 23.6h0M16.3 11.5h0M8.4 22.7h0M11.2 25.6h0M23.5 16.6h0M18.2 26.1h0M23.9 6.2h0M33.5 1.2h0M3.9 5.5h0M2.8 15.1h0M32.5 18.3h0M21.7 19.6h0M36.5 4.2h0M28.1 21.0h0M31.7 14.9h0M28.4 26.4h0M16.4 23.8h0M8.9 9.7h0M23.9 0.7h0M33.0 8.0h0M8.6 6.1h0M28.6 21.6h0M19.3 16.1h0M36.3 17.1h0M34.0 25.9h0M17.8 21.6h0M23.2 12.2h0M26.7 7.5h0M27.6 22.1h0M2.3 20.9h0M26.4 2.1h0M14.4 22.1h0M12.3 20.9h0M28.8 14.5h0M16.4 3.8h0M1.8 3.4h0M35.0 12.8h0M3.4 24.4h0M36.1 8.6h0M18.5 12.0h0M16.5 13.8h0M17.0 26.1h0M10.3 5.2h0M5.2 24.4h0M33.0 25.0h0M13.6 25.0h0M16.7 13.4h0M18.2 25.1h0M14.3 6.1h0M10.6 16.6h0M25.6 10.1h0M23.2 25.4h0M1.6 21.3h0M31.7 3.8h0M22.1 23.9h0M9.0 5.5h0M20.8 10.3h0M25.7 18.5h0M6.3 14.3h0M6.3 8.0h0M31.6 19.9h0M31.3 5.5h0M14.1 2.2h0M16.6 21.1h0" stroke="#4963c8" stroke-width="1.2" stroke-linecap="round" fill="none"/>
<path d="M14.5 24.0h0M18.0 6.4h0M20.0 16.7h0M4.2 24.8h0M12.8 6.3h0M13.1 0.9h0M20.0 8.5h0M7.3 23.5h0M2.1 20.8h0M1.6 5.0h0M35.2 11.7h0M15.9 2.6h0M34.4 19.1h0M15.1 6.7h0M1.8 24.8h0M24.5 16.9h0M27.4 25.6h0M23.5 7.2h0M10.0 1.9h0M8.2 24.8h0M17.5 27.0h0M22.5 21.4h0M11.1 11.2h0M36.5 2.6h0M7.7 12.7h0M32.1 11.7h0M13.5 18.3h0M13.9 5.0h0M14.9 19.2h0M28.1 26.4h0M33.9 2.9h0M15.3 8.8h0M34.3 23.9h0M29.3 17.7h0M19.5 8.6h0M34.1 3.5h0M32.3 12.0h0M17.4 18.9h0M8.6 14.0h0M20.0 15.6h0M19.8 19.7h0M18.6 13.0h0M5.6 7.6h0M10.2 15.9h0M17.8 22.4h0M34.7 16.0h0M5.5 26.8h0M29.8 1.0h0M8.5 17.9h0M20.7 13.2h0M16.6 3.2h0M4.4 12.9h0M30.7 10.5h0M20.0 2.6h0M16.0 15.4h0M14.5 3.3h0M11.8 22.8h0M32.7 9.0h0M18.2 25.0h0M6.6 10.5h0M18.3 16.2h0M10.3 23.1h0M16.5 26.9h0M31.0 14.1h0M22.7 16.3h0M12.6 21.1h0M4.3 6.2h0M21.3 22.2h0M26.1 5.4h0M4.6 24.1h0M22.3 14.1h0M17.1 14.0h0" stroke="#3349a4" stroke-width="1.05" stroke-linecap="round" fill="none"/>
<path d="M16.6 26.8h0M24.3 5.8h0M37.1 5.7h0M26.7 2.2h0M25.3 15.8h0M19.0 20.4h0M17.5 3.8h0M8.4 17.8h0M18.3 21.5h0M28.7 18.0h0M26.2 24.7h0M13.0 24.9h0M17.5 12.6h0M18.7 26.8h0M26.6 18.8h0M25.3 20.4h0M12.1 26.7h0M32.0 18.7h0M14.8 18.2h0M14.4 20.5h0M15.0 14.9h0M18.5 22.7h0M24.7 21.8h0M23.6 2.3h0M2.5 6.4h0M24.1 24.0h0M36.7 21.8h0M21.5 15.2h0M22.0 12.3h0M2.6 22.4h0M23.1 11.6h0M14.2 10.9h0M11.9 5.5h0M28.3 13.5h0M2.1 7.5h0M27.6 18.7h0M12.8 9.1h0M18.4 14.5h0M15.1 23.5h0M13.2 20.8h0M11.2 21.4h0M16.5 0.9h0M22.7 5.9h0M35.2 3.5h0M14.9 21.7h0M25.3 7.2h0M15.3 22.2h0M30.2 14.4h0M24.9 13.1h0M8.9 18.1h0M14.0 1.7h0M31.9 9.5h0M3.9 3.4h0M34.4 20.6h0M17.9 16.8h0M28.5 9.3h0M5.5 14.5h0M26.8 13.5h0M24.4 15.0h0M21.9 5.7h0M16.7 21.0h0M14.9 14.2h0M8.3 19.0h0M16.9 26.6h0M12.7 18.7h0M27.1 3.0h0M14.8 2.4h0M31.7 20.1h0M33.8 12.0h0M22.3 16.2h0M17.6 18.0h0M27.5 3.3h0" stroke="#243374" stroke-width="0.95" stroke-linecap="round" fill="none"/>
</g>
<use href="#h00" x="73.90"/>
<g id="t00" transform="translate(84.30 253.80)" filter="url(#b3)">
<path d="M24.6 6.6h0M19.4 2.6h0M27.2 23.3h0" stroke="#2a8030" stroke-width="0.65" stroke-linecap="round" fill="none"/>
<path d="M33.4 19.7h0M21.1 19.1h0" stroke="#1c5a24" stroke-width="0.55" stroke-linecap="round" fill="none"/>
</g>
<use href="#t00" x="36.50"/>
</g>
<text x="158.90" y="278.20" text-anchor="end" fill="#f4f4f4" font-size="5.8" stroke="none">100 μm</text>
<line x1="145.50" y1="280.00" x2="154.60" y2="280.00" stroke="#fff" stroke-width="0.9"/>
<rect x="46.90" y="283.30" width="112.10" height="27.50" fill="#050509"/>
<clipPath id="jc01"><rect x="46.90" y="283.30" width="112.10" height="27.5"/></clipPath>
<g clip-path="url(#jc01)">
<g id="h01" transform="translate(46.90 283.30)" filter="url(#b3)">
<path d="M32.3 7.0h0M20.7 22.0h0M13.0 11.0h0M3.5 5.8h0M24.1 8.8h0M27.0 14.2h0M28.7 21.1h0M35.4 3.2h0M25.1 16.0h0M22.1 12.9h0M1.5 23.1h0M4.5 13.1h0M30.2 3.4h0M20.8 24.6h0M22.9 14.5h0M23.5 22.2h0M33.9 27.1h0M18.8 2.0h0M35.5 15.3h0M16.1 18.5h0M32.4 23.9h0M33.3 5.5h0M35.4 7.2h0M8.1 12.8h0M28.1 6.1h0M8.0 19.5h0M30.3 21.5h0M23.9 27.1h0M24.3 12.8h0M2.7 13.5h0M35.2 15.6h0M5.9 14.9h0M33.7 10.7h0M25.6 24.1h0M29.1 22.2h0M0.7 7.4h0M21.3 2.9h0M15.7 5.6h0M26.2 14.3h0M23.7 14.3h0M27.8 19.2h0M22.3 24.6h0M3.9 1.4h0M17.4 14.3h0M5.0 22.6h0M4.0 13.3h0M12.2 13.0h0M5.1 13.8h0M28.9 17.8h0M28.9 16.4h0M30.1 7.1h0M16.4 14.7h0M19.0 22.0h0M24.7 17.3h0M1.7 26.4h0M3.6 25.9h0M36.4 18.2h0M35.1 16.7h0M11.0 24.9h0M35.1 10.2h0M30.3 6.5h0M2.6 25.2h0M0.8 17.9h0M21.3 7.8h0M24.4 7.1h0M23.0 21.6h0M32.3 1.2h0M23.7 20.6h0M1.4 20.6h0M25.9 6.0h0M16.4 18.2h0" stroke="#4963c8" stroke-width="1.2" stroke-linecap="round" fill="none"/>
<path d="M25.6 19.3h0M14.6 19.8h0M30.6 24.6h0M16.1 3.7h0M21.0 16.3h0M6.4 18.7h0M0.5 24.4h0M34.8 11.4h0M5.8 8.8h0M24.4 13.3h0M27.4 16.9h0M19.4 15.8h0M3.8 24.3h0M17.6 17.7h0M6.3 8.1h0M20.5 24.2h0M1.9 20.4h0M24.0 16.5h0M9.0 13.8h0M6.9 23.2h0M22.7 16.7h0M33.6 18.3h0M33.8 5.1h0M10.8 15.0h0M22.8 22.9h0M1.3 22.7h0M27.4 24.6h0M15.3 21.3h0M10.0 11.0h0M1.9 24.2h0M11.4 13.8h0M2.7 26.6h0M18.8 22.7h0M25.4 17.9h0M32.7 24.5h0M22.6 26.9h0M34.1 18.0h0M20.6 17.2h0M22.7 15.0h0M32.4 0.6h0M8.6 24.9h0M20.0 8.9h0M17.8 11.9h0M35.0 6.3h0M35.7 7.3h0M19.6 14.9h0M31.0 23.4h0M19.6 0.5h0M6.8 6.6h0M30.4 14.3h0M26.6 23.9h0M27.6 12.6h0M4.6 22.4h0M24.9 2.9h0M29.3 22.0h0M22.2 17.3h0M4.1 21.3h0M30.8 23.2h0M24.9 17.2h0M23.8 18.3h0M29.2 26.9h0M29.7 12.9h0M19.3 26.1h0M33.7 26.5h0M19.8 4.5h0M25.2 24.7h0M26.5 6.7h0M26.7 21.7h0M23.8 16.4h0M30.7 13.1h0M22.5 18.8h0M17.1 13.0h0" stroke="#3349a4" stroke-width="1.05" stroke-linecap="round" fill="none"/>
<path d="M20.0 11.0h0M23.0 19.6h0M2.9 18.1h0M37.0 12.3h0M13.9 12.6h0M14.7 2.9h0M21.6 23.0h0M11.8 7.2h0M28.7 19.6h0M29.3 19.2h0M11.2 18.9h0M23.8 9.8h0M10.5 14.1h0M19.4 11.5h0M15.7 14.8h0M27.7 27.0h0M27.8 25.5h0M10.4 16.9h0M32.0 17.7h0M34.3 22.3h0M29.6 16.6h0M7.2 3.5h0M31.7 21.6h0M8.6 5.7h0M34.1 25.5h0M29.7 8.5h0M29.5 25.5h0M18.7 7.2h0M36.3 17.6h0M26.5 9.7h0M12.7 6.9h0M10.9 12.3h0M15.0 5.9h0M36.0 5.1h0M30.8 18.2h0M3.1 6.1h0M32.6 16.5h0M28.9 18.5h0M21.6 6.2h0M29.7 17.4h0M0.7 2.1h0M10.0 21.8h0M35.0 27.0h0M2.8 19.8h0M26.0 6.9h0M11.7 16.3h0M24.2 6.6h0M24.8 1.2h0M33.4 6.3h0M34.3 18.7h0M27.1 18.1h0M13.2 18.5h0M29.7 24.8h0M14.5 12.8h0M0.6 5.3h0M4.8 15.4h0M15.7 16.4h0M32.2 12.9h0M18.6 6.4h0M21.9 22.9h0M5.9 27.2h0M0.5 13.2h0M27.6 26.5h0M7.3 11.8h0M26.0 12.6h0M28.7 11.9h0M34.3 0.7h0M30.0 1.3h0M33.7 20.0h0M15.6 9.6h0M26.2 20.6h0M26.2 18.5h0" stroke="#243374" stroke-width="0.95" stroke-linecap="round" fill="none"/>
</g>
<use href="#h01" x="73.90"/>
<g id="t01" transform="translate(84.30 283.30)" filter="url(#b3)">
<path d="M27.0 4.6h0M2.9 4.5h0M26.6 11.6h0M25.2 9.3h0M25.4 3.4h0M11.3 4.1h0" stroke="#3fd24a" stroke-width="0.9" stroke-linecap="round" fill="none"/>
<path d="M18.6 18.0h0M25.6 13.6h0M14.7 10.4h0M4.6 21.9h0M2.4 3.6h0M20.9 13.5h0" stroke="#2a9a34" stroke-width="0.75" stroke-linecap="round" fill="none"/>
</g>
<use href="#t01" x="36.50"/>
</g>
<text x="158.90" y="307.70" text-anchor="end" fill="#f4f4f4" font-size="5.8" stroke="none">100 μm</text>
<line x1="145.50" y1="309.50" x2="154.60" y2="309.50" stroke="#fff" stroke-width="0.9"/>
<rect x="46.90" y="312.80" width="112.10" height="27.50" fill="#050509"/>
<clipPath id="jc02"><rect x="46.90" y="312.80" width="112.10" height="27.5"/></clipPath>
<g clip-path="url(#jc02)">
<g id="h02" transform="translate(46.90 312.80)" filter="url(#b3)">
<path d="M6.5 4.3h0M11.7 22.2h0M30.3 15.1h0M12.4 5.5h0M25.2 21.6h0M26.6 3.0h0M11.1 4.9h0M1.9 13.7h0M14.9 21.5h0M7.4 14.7h0M23.2 26.1h0M35.8 9.2h0M14.0 19.5h0M20.5 8.7h0M2.9 5.8h0M32.4 22.7h0M18.7 2.6h0M24.2 14.0h0M27.7 10.5h0M19.3 13.8h0M11.6 16.1h0M26.9 17.6h0M20.0 10.4h0M28.5 26.3h0M17.8 8.6h0M8.6 5.8h0M16.0 19.5h0M13.3 7.9h0M20.8 18.1h0M1.3 3.6h0M10.8 18.6h0M11.2 3.7h0M25.2 21.4h0M31.4 20.4h0M18.7 21.2h0M19.5 21.0h0M35.7 14.8h0M6.3 15.6h0M3.6 22.1h0M13.0 22.0h0M13.4 24.8h0M20.7 14.6h0M6.1 1.3h0M14.4 26.2h0M9.6 20.3h0M28.5 20.3h0M12.8 13.9h0M25.2 27.0h0M20.0 7.2h0M21.0 21.0h0M15.5 15.5h0M9.4 4.7h0M12.9 9.8h0M1.3 3.5h0M24.1 13.1h0M9.8 15.9h0M15.4 17.0h0M18.9 16.4h0M33.4 16.9h0M22.0 25.1h0M14.8 24.9h0M14.9 13.2h0M19.2 10.6h0M24.0 25.2h0M9.5 4.5h0M6.1 19.1h0M16.3 17.0h0M35.5 27.0h0M15.4 13.9h0M17.1 10.8h0M15.7 2.7h0M17.9 12.4h0M13.0 21.6h0M8.8 22.0h0M15.4 12.5h0M24.6 7.5h0M27.4 13.6h0M19.7 5.4h0M20.2 12.5h0M10.3 8.9h0M15.0 26.0h0M18.3 25.9h0M20.4 4.1h0" stroke="#4963c8" stroke-width="1.2" stroke-linecap="round" fill="none"/>
<path d="M9.7 22.7h0M18.0 15.7h0M9.0 26.7h0M21.0 5.8h0M14.8 23.1h0M15.1 22.3h0M20.5 5.6h0M9.8 18.5h0M33.6 24.8h0M6.4 20.6h0M26.6 21.0h0M24.2 21.1h0M30.3 25.4h0M1.8 14.2h0M19.1 13.7h0M13.0 18.9h0M17.9 23.9h0M28.7 27.0h0M20.5 25.4h0M25.0 4.2h0M9.5 23.1h0M1.3 3.6h0M7.1 26.3h0M20.4 12.9h0M26.2 0.7h0M22.7 18.8h0M28.2 9.5h0M21.6 23.1h0M9.5 2.8h0M13.1 4.0h0M29.7 20.8h0M12.3 10.5h0M24.5 2.1h0M2.1 9.2h0M12.4 20.4h0M18.6 24.1h0M25.1 23.7h0M19.9 16.1h0M26.5 26.9h0M36.7 20.6h0M19.8 17.7h0M26.7 19.0h0M17.7 17.2h0M22.2 26.0h0M28.9 11.8h0M34.7 13.7h0M18.3 18.4h0M19.3 11.8h0M6.1 19.8h0M15.0 9.2h0M28.5 24.0h0M31.6 16.5h0M35.3 14.6h0M12.6 24.0h0M18.5 20.9h0M5.4 8.3h0M17.2 20.0h0M30.2 22.7h0M20.4 23.7h0M25.1 23.4h0M11.7 16.2h0M6.9 20.8h0M36.3 24.8h0M30.1 18.1h0M30.8 25.1h0M7.1 23.0h0M19.4 22.1h0M18.5 16.8h0M6.5 15.9h0M25.8 3.4h0M20.4 11.2h0M8.0 6.7h0M33.9 6.0h0M5.0 18.1h0M17.4 9.5h0M15.6 17.0h0M27.4 17.7h0M16.5 6.6h0M13.6 26.9h0M12.0 22.0h0M19.1 17.5h0M33.0 17.7h0M31.9 8.9h0" stroke="#3349a4" stroke-width="1.05" stroke-linecap="round" fill="none"/>
<path d="M32.4 16.8h0M12.5 1.8h0M18.4 14.7h0M27.9 24.7h0M10.1 12.7h0M7.9 19.8h0M32.6 7.8h0M14.3 10.7h0M33.0 18.4h0M10.4 15.2h0M15.6 21.7h0M20.7 14.8h0M16.5 2.6h0M16.3 16.1h0M6.9 26.6h0M5.2 4.2h0M2.2 6.0h0M21.9 23.6h0M14.0 8.2h0M35.8 16.8h0M13.7 26.9h0M30.0 13.0h0M16.4 3.9h0M17.2 2.7h0M19.8 11.0h0M15.3 10.4h0M9.3 12.3h0M16.6 23.6h0M7.8 9.5h0M16.3 12.3h0M24.9 14.0h0M29.2 24.9h0M24.6 23.6h0M19.4 10.3h0M13.4 10.3h0M35.2 6.5h0M5.6 11.5h0M19.8 15.5h0M14.2 0.4h0M5.4 13.3h0M12.2 23.3h0M27.2 26.4h0M13.0 12.0h0M20.2 25.2h0M9.4 0.5h0M29.4 23.0h0M21.4 2.7h0M20.1 12.3h0M20.8 2.2h0M15.4 2.2h0M25.3 11.9h0M6.2 24.3h0M4.1 3.5h0M21.1 17.0h0M10.5 2.5h0M23.3 11.0h0M15.8 19.4h0M25.1 24.4h0M23.9 25.5h0M17.1 11.4h0M31.0 2.0h0M34.5 16.5h0M31.9 7.1h0M23.4 5.4h0M16.5 13.6h0M5.0 17.5h0M27.3 18.0h0M33.2 10.9h0M16.0 15.6h0M28.1 9.4h0M21.6 4.2h0M23.9 21.4h0M6.2 25.1h0M19.5 16.2h0M6.9 20.9h0M17.5 25.2h0M16.2 25.5h0M11.2 20.2h0M12.8 5.8h0M15.0 16.6h0M9.7 17.4h0M9.2 25.1h0M5.9 24.3h0M15.2 19.2h0" stroke="#243374" stroke-width="0.95" stroke-linecap="round" fill="none"/>
</g>
<use href="#h02" x="73.90"/>
<g id="t02" transform="translate(84.30 312.80)" filter="url(#b3)">
<path d="M10.2 18.6h0M29.0 4.7h0M32.2 12.5h0M15.3 24.3h0M11.2 6.9h0" stroke="#2a8030" stroke-width="0.65" stroke-linecap="round" fill="none"/>
<path d="M25.0 14.4h0M26.4 12.6h0M33.1 25.0h0M26.3 6.7h0" stroke="#1c5a24" stroke-width="0.55" stroke-linecap="round" fill="none"/>
</g>
<use href="#t02" x="36.50"/>
</g>
<text x="158.90" y="337.20" text-anchor="end" fill="#f4f4f4" font-size="5.8" stroke="none">100 μm</text>
<line x1="145.50" y1="339.00" x2="154.60" y2="339.00" stroke="#fff" stroke-width="0.9"/>
<rect x="46.90" y="342.30" width="112.10" height="27.50" fill="#050509"/>
<clipPath id="jc03"><rect x="46.90" y="342.30" width="112.10" height="27.5"/></clipPath>
<g clip-path="url(#jc03)">
<g id="h03" transform="translate(46.90 342.30)" filter="url(#b3)">
<path d="M18.7 6.5h0M13.0 9.1h0M5.1 18.3h0M4.3 4.7h0M11.8 9.2h0M3.7 14.5h0M2.2 11.8h0M8.9 18.7h0M26.2 15.0h0M18.9 22.1h0M18.1 2.9h0M14.2 7.1h0M20.0 1.6h0M13.4 22.2h0M14.2 1.9h0M31.8 3.6h0M3.5 27.0h0M12.4 21.7h0M14.7 2.4h0M12.6 1.3h0M10.9 12.5h0M18.9 17.8h0M26.1 24.2h0M27.4 22.8h0M29.3 6.6h0M8.6 13.9h0M12.8 16.5h0M2.9 10.7h0M7.2 9.0h0M16.2 7.7h0M13.2 7.1h0M14.4 3.7h0M24.8 0.4h0M8.2 17.3h0M27.1 12.4h0M11.0 9.9h0M28.1 23.6h0M27.0 15.6h0M4.2 23.1h0M28.0 8.8h0M32.5 15.8h0M32.4 19.6h0M4.8 16.9h0M12.2 19.0h0M14.7 23.6h0M11.8 1.1h0M20.9 5.9h0M14.4 2.0h0M14.3 6.7h0M12.0 8.4h0M34.2 0.9h0M5.8 12.4h0M14.7 2.0h0M1.5 5.6h0M16.1 1.8h0M10.7 27.0h0M36.5 18.1h0M16.8 8.4h0M8.6 25.8h0M26.1 14.2h0M12.0 2.4h0M30.5 23.2h0M12.5 6.8h0M2.1 15.2h0M5.6 5.9h0M6.6 15.5h0M9.1 2.8h0M12.3 5.2h0M1.4 14.1h0M24.9 1.9h0M25.5 12.9h0M18.7 18.1h0M2.4 14.0h0M14.6 6.3h0M16.1 4.9h0M36.3 26.0h0M14.2 8.2h0M0.3 5.2h0" stroke="#4963c8" stroke-width="1.2" stroke-linecap="round" fill="none"/>
<path d="M0.6 13.2h0M15.1 7.3h0M32.3 3.4h0M12.1 9.4h0M15.0 12.4h0M19.3 11.3h0M8.5 15.0h0M23.0 8.3h0M10.9 23.9h0M27.4 24.4h0M15.6 7.9h0M4.2 22.3h0M13.8 0.5h0M7.2 21.7h0M24.3 12.9h0M21.4 10.5h0M16.3 19.5h0M7.4 9.6h0M19.7 1.0h0M35.1 17.2h0M11.9 21.6h0M13.1 26.4h0M16.8 5.8h0M21.4 14.2h0M11.7 9.0h0M12.3 6.7h0M27.9 7.7h0M29.1 20.1h0M8.5 18.0h0M27.8 1.4h0M17.7 1.2h0M12.5 6.1h0M20.5 16.3h0M9.3 20.0h0M14.3 19.1h0M7.7 18.2h0M31.2 6.8h0M13.8 9.5h0M4.0 3.5h0M8.5 24.7h0M30.9 25.9h0M24.6 8.4h0M31.2 22.7h0M36.0 2.3h0M5.0 9.4h0M21.1 4.3h0M5.1 6.7h0M28.1 0.3h0M15.0 27.1h0M35.5 15.6h0M14.5 4.8h0M8.1 8.9h0M13.8 22.5h0M0.5 2.3h0M14.5 8.4h0M5.4 5.1h0M20.5 0.5h0M7.4 14.2h0M20.3 3.7h0M11.1 15.5h0M13.6 18.6h0M33.9 21.0h0M27.7 8.5h0M18.9 2.0h0M21.2 5.4h0M30.3 22.1h0M33.6 11.8h0M11.0 3.2h0M6.7 5.4h0M15.3 20.5h0M21.9 25.0h0M11.8 10.3h0M23.6 0.6h0M33.5 24.1h0M33.6 12.0h0M7.9 17.9h0M17.7 12.7h0M16.3 4.7h0" stroke="#3349a4" stroke-width="1.05" stroke-linecap="round" fill="none"/>
<path d="M4.6 8.6h0M0.8 5.2h0M13.7 6.3h0M36.9 2.9h0M14.3 1.7h0M20.8 6.0h0M0.3 4.1h0M35.6 8.4h0M9.9 5.6h0M9.3 13.3h0M30.1 18.5h0M35.6 11.4h0M13.0 24.3h0M34.1 12.5h0M33.5 3.7h0M28.0 10.2h0M24.4 12.0h0M26.1 19.4h0M23.2 12.1h0M35.3 6.4h0M29.5 14.9h0M9.8 2.7h0M36.8 18.7h0M13.4 9.4h0M25.4 10.4h0M18.3 12.9h0M16.3 24.1h0M14.8 16.6h0M34.9 3.5h0M25.6 14.7h0M14.0 16.0h0M16.2 2.2h0M4.3 20.1h0M11.9 7.6h0M23.4 13.5h0M22.5 11.6h0M12.1 7.4h0M26.0 15.3h0M14.4 7.2h0M13.0 20.4h0M4.6 14.8h0M7.4 12.9h0M21.1 5.8h0M13.0 0.6h0M21.7 7.3h0M29.4 12.1h0M12.6 14.1h0M1.2 10.8h0M26.6 8.2h0M29.7 25.9h0M20.2 12.2h0M6.0 7.7h0M29.1 4.9h0M13.4 2.9h0M6.8 11.3h0M7.4 2.9h0M24.8 16.5h0M13.9 9.2h0M18.5 18.6h0M7.6 23.2h0M19.2 6.5h0M15.4 10.3h0M11.9 3.0h0M12.1 13.6h0M28.5 0.6h0M13.4 21.6h0M15.2 13.7h0M26.1 2.0h0M21.3 5.5h0M19.8 11.8h0M25.2 0.6h0M26.1 0.6h0M12.9 5.1h0M10.5 14.7h0M30.1 20.0h0M15.0 8.1h0M32.4 8.3h0M25.1 19.2h0M10.2 0.4h0" stroke="#243374" stroke-width="0.95" stroke-linecap="round" fill="none"/>
</g>
<use href="#h03" x="73.90"/>
<g id="t03" transform="translate(84.30 342.30)" filter="url(#b3)">
<path d="M6.0 22.7h0M5.8 13.1h0M25.7 6.1h0M34.3 18.5h0M4.5 8.9h0" stroke="#2a8030" stroke-width="0.65" stroke-linecap="round" fill="none"/>
<path d="M20.3 10.4h0M29.1 16.3h0M8.8 24.8h0M32.5 23.2h0" stroke="#1c5a24" stroke-width="0.55" stroke-linecap="round" fill="none"/>
</g>
<use href="#t03" x="36.50"/>
</g>
<text x="158.90" y="366.70" text-anchor="end" fill="#f4f4f4" font-size="5.8" stroke="none">100 μm</text>
<line x1="145.50" y1="368.50" x2="154.60" y2="368.50" stroke="#fff" stroke-width="0.9"/>
<rect x="46.90" y="371.80" width="112.10" height="27.50" fill="#050509"/>
<clipPath id="jc04"><rect x="46.90" y="371.80" width="112.10" height="27.5"/></clipPath>
<g clip-path="url(#jc04)">
<g id="h04" transform="translate(46.90 371.80)" filter="url(#b3)">
<path d="M9.3 17.5h0M26.6 9.2h0M27.2 24.2h0M17.7 20.3h0M5.7 25.3h0M30.9 4.6h0M24.4 24.1h0M24.6 16.5h0M12.1 7.6h0M23.4 20.8h0M3.1 23.5h0M18.5 9.2h0M31.7 0.8h0M23.0 14.8h0M17.5 23.4h0M30.8 18.2h0M20.7 21.6h0M18.3 27.2h0M31.4 6.8h0M36.5 7.4h0M32.5 8.8h0M3.4 12.7h0M5.1 4.6h0M19.2 8.3h0M29.5 5.5h0M23.1 6.5h0M36.9 5.5h0M2.6 24.6h0M31.8 18.1h0M32.8 20.1h0M14.4 18.6h0M26.9 20.4h0M9.7 20.2h0M22.0 25.6h0M27.8 25.8h0M27.7 23.0h0M33.5 12.3h0M8.0 6.3h0M23.3 8.0h0M1.0 18.9h0M23.1 18.6h0M18.2 15.7h0M15.2 9.9h0M16.0 3.1h0M6.0 20.0h0" stroke="#4963c8" stroke-width="1.2" stroke-linecap="round" fill="none"/>
<path d="M22.0 19.3h0M21.8 4.1h0M7.2 19.3h0M12.9 15.7h0M1.4 17.5h0M5.6 4.1h0M21.9 6.7h0M28.1 26.5h0M8.4 5.4h0M15.1 0.7h0M24.8 21.2h0M33.5 24.2h0M14.0 20.3h0M19.9 5.8h0M7.1 10.0h0M17.9 23.8h0M17.5 0.5h0M23.0 22.5h0M26.2 18.4h0M0.3 18.6h0M28.7 9.9h0M14.6 4.2h0M25.9 2.1h0M36.0 16.3h0M30.4 21.1h0M18.4 19.8h0M23.6 7.4h0M36.9 8.0h0M5.1 1.4h0M6.6 18.6h0M30.0 10.2h0M30.0 20.0h0M27.0 23.9h0M29.2 18.7h0M9.4 22.1h0M16.3 2.9h0M26.7 13.5h0M35.9 7.7h0M24.7 20.5h0M14.8 5.7h0M20.3 26.5h0M20.2 4.4h0M26.6 3.4h0M10.8 1.1h0M26.0 25.0h0" stroke="#3349a4" stroke-width="1.05" stroke-linecap="round" fill="none"/>
<path d="M20.0 2.1h0M6.2 3.6h0M17.8 5.6h0M17.8 10.3h0M27.7 17.6h0M16.0 16.9h0M21.5 24.1h0M8.8 3.0h0M3.1 18.0h0M21.8 24.7h0M14.7 1.5h0M23.2 22.3h0M14.0 4.4h0M21.7 13.3h0M30.1 23.4h0M16.5 18.7h0M14.9 1.2h0M28.8 21.6h0M15.3 24.9h0M14.6 8.1h0M1.2 6.3h0M7.1 21.7h0M26.7 20.8h0M25.7 26.9h0M23.5 19.3h0M18.4 8.2h0M20.9 18.6h0M27.9 1.6h0M25.4 22.2h0M20.9 9.5h0M11.8 26.3h0M16.9 3.7h0M4.3 6.0h0M19.4 7.8h0M32.5 13.6h0M23.5 25.6h0M27.3 1.5h0M28.1 26.7h0M19.4 24.0h0M24.6 14.3h0M24.8 26.1h0M8.3 3.1h0M17.7 18.6h0M35.7 18.9h0M5.1 24.2h0" stroke="#243374" stroke-width="0.95" stroke-linecap="round" fill="none"/>
</g>
<use href="#h04" x="73.90"/>
<g id="t04" transform="translate(84.30 371.80)" filter="url(#b3)">
<path d="M16.9 21.5h0M2.9 3.4h0M14.5 14.0h0M8.9 19.0h0M33.1 21.7h0M18.7 21.3h0M2.4 5.2h0M23.2 6.7h0M12.1 22.0h0M29.7 20.0h0" stroke="#3fd24a" stroke-width="0.9" stroke-linecap="round" fill="none"/>
<path d="M9.3 5.2h0M5.1 21.8h0M11.6 23.5h0M8.1 14.4h0M17.1 8.1h0M28.4 22.2h0M24.1 18.5h0M5.8 10.3h0M28.8 11.5h0M19.1 9.0h0" stroke="#2a9a34" stroke-width="0.75" stroke-linecap="round" fill="none"/>
</g>
<use href="#t04" x="36.50"/>
</g>
<text x="158.90" y="396.20" text-anchor="end" fill="#f4f4f4" font-size="5.8" stroke="none">100 μm</text>
<line x1="145.50" y1="398.00" x2="154.60" y2="398.00" stroke="#fff" stroke-width="0.9"/>
<rect x="46.90" y="401.30" width="112.10" height="27.50" fill="#050509"/>
<clipPath id="jc05"><rect x="46.90" y="401.30" width="112.10" height="27.5"/></clipPath>
<g clip-path="url(#jc05)">
<g id="h05" transform="translate(46.90 401.30)" filter="url(#b3)">
<path d="M36.5 11.2h0M20.3 13.4h0M16.7 2.7h0M3.6 23.8h0M9.3 20.3h0M7.6 21.2h0M19.8 12.6h0M4.7 1.8h0M6.2 17.7h0M0.9 23.4h0M16.3 6.8h0M24.7 15.0h0M33.6 26.1h0M16.7 22.5h0M19.2 18.9h0M17.2 4.7h0M18.0 4.9h0M1.8 5.9h0M23.7 15.4h0M4.1 4.1h0M10.0 25.8h0M36.3 12.5h0M16.4 19.6h0M2.0 8.6h0M29.8 8.2h0M31.8 15.5h0M16.6 25.8h0M12.5 13.3h0M9.0 0.7h0M12.6 2.2h0M24.6 26.3h0M15.7 25.4h0M17.4 22.0h0M18.9 4.8h0M33.7 12.8h0M22.4 22.2h0M14.4 26.0h0M21.1 21.7h0M25.5 17.0h0M11.1 22.0h0M27.4 17.1h0M14.0 13.1h0M10.8 24.5h0M26.5 14.1h0M4.1 14.4h0M5.4 5.2h0M21.8 4.5h0M17.6 23.0h0M24.3 0.3h0M34.9 0.7h0M16.9 19.4h0M14.4 24.1h0M21.8 7.7h0M33.0 11.9h0M16.9 26.3h0M33.5 20.3h0M24.8 8.4h0M3.0 18.1h0" stroke="#4963c8" stroke-width="1.2" stroke-linecap="round" fill="none"/>
<path d="M8.9 5.1h0M15.7 27.1h0M20.2 8.7h0M20.6 15.6h0M7.5 25.4h0M18.7 18.3h0M22.5 26.0h0M19.0 18.4h0M15.9 25.7h0M23.4 26.7h0M19.4 15.9h0M21.1 25.7h0M34.6 23.2h0M15.8 19.2h0M22.1 22.4h0M15.1 11.1h0M15.2 19.5h0M11.8 19.6h0M22.9 13.3h0M27.8 24.5h0M18.1 14.4h0M21.6 14.9h0M32.0 18.4h0M12.0 17.2h0M9.7 11.1h0M35.1 19.4h0M1.7 15.0h0M21.4 0.6h0M15.0 10.6h0M34.2 18.7h0M27.0 13.3h0M7.0 24.3h0M19.0 14.9h0M28.5 10.7h0M24.8 23.1h0M35.9 15.6h0M20.1 24.1h0M25.4 15.0h0M11.6 0.7h0M14.7 24.1h0M20.2 0.4h0M27.1 4.6h0M13.2 27.1h0M36.8 23.5h0M26.7 5.7h0M25.3 9.3h0M36.8 26.2h0M12.4 26.2h0M21.6 20.3h0M16.7 25.8h0M15.1 19.1h0M19.3 18.2h0M15.0 6.3h0M17.7 9.4h0M25.8 14.9h0M5.2 5.9h0M15.2 5.7h0M28.9 7.4h0" stroke="#3349a4" stroke-width="1.05" stroke-linecap="round" fill="none"/>
<path d="M24.3 3.3h0M34.8 3.3h0M16.7 11.0h0M22.9 22.5h0M36.8 15.2h0M5.1 24.2h0M27.5 4.8h0M24.1 21.1h0M14.1 19.9h0M25.7 0.5h0M31.3 3.7h0M15.0 12.6h0M7.9 23.7h0M24.1 27.2h0M17.9 17.5h0M24.3 22.5h0M33.7 23.3h0M23.6 10.7h0M16.9 24.7h0M17.5 23.7h0M5.3 14.9h0M20.6 5.4h0M28.8 16.1h0M15.0 15.5h0M10.8 6.8h0M33.9 27.1h0M17.0 23.4h0M3.7 1.2h0M8.3 6.6h0M21.8 16.2h0M22.1 12.3h0M30.9 4.8h0M5.6 26.5h0M25.7 17.0h0M17.5 19.0h0M15.1 16.2h0M14.1 13.7h0M21.9 12.8h0M29.8 23.7h0M27.9 5.5h0M17.1 5.2h0M18.2 26.9h0M29.8 26.2h0M8.7 18.7h0M21.2 6.6h0M21.6 18.5h0M23.0 10.2h0M6.9 9.8h0M16.6 18.3h0M33.2 25.3h0M15.5 18.9h0M17.8 25.6h0M15.2 23.7h0M35.0 26.1h0M12.5 26.1h0M2.8 11.6h0M24.7 23.4h0M4.6 20.7h0M18.9 26.8h0" stroke="#243374" stroke-width="0.95" stroke-linecap="round" fill="none"/>
</g>
<use href="#h05" x="73.90"/>
<ellipse cx="101.30" cy="416.30" rx="13" ry="10" fill="#114a1c" opacity="0.42" filter="url(#b20)"/>
<ellipse cx="134.80" cy="418.30" rx="12" ry="8" fill="#114a1c" opacity="0.4" filter="url(#b20)"/>
<g id="t05" transform="translate(84.30 401.30)" filter="url(#b3)">
<path d="M27.2 23.3h0M13.7 24.5h0M13.5 22.9h0M12.5 9.3h0M30.8 4.3h0M17.4 20.2h0M7.5 20.1h0M9.1 22.5h0M7.3 14.5h0M14.7 19.6h0M27.3 19.7h0M2.9 14.7h0M9.4 17.9h0M4.0 4.0h0M15.5 8.8h0M13.8 14.7h0M10.2 23.7h0M33.4 18.7h0M5.3 5.9h0M34.4 3.4h0" stroke="#3fd24a" stroke-width="0.9" stroke-linecap="round" fill="none"/>
<path d="M23.1 12.0h0M15.8 20.7h0M2.1 16.9h0M21.1 2.2h0M17.7 14.9h0M4.8 8.4h0M26.5 22.3h0M23.5 11.4h0M32.4 21.0h0M29.3 8.7h0M20.6 2.1h0M34.5 12.3h0M13.8 8.3h0M15.1 15.4h0M5.3 4.7h0M20.8 12.8h0M2.8 2.3h0M33.1 5.8h0M2.5 9.8h0M32.3 4.1h0" stroke="#2a9a34" stroke-width="0.75" stroke-linecap="round" fill="none"/>
</g>
<use href="#t05" x="36.50"/>
</g>
<text x="158.90" y="425.70" text-anchor="end" fill="#f4f4f4" font-size="5.8" stroke="none">100 μm</text>
<line x1="145.50" y1="427.50" x2="154.60" y2="427.50" stroke="#fff" stroke-width="0.9"/>
<text x="238.50" y="242.40" text-anchor="middle" stroke="#1c1c1c" font-size="6.1">HT-PC9</text>
<line x1="190.00" y1="246.30" x2="284.10" y2="246.30" stroke="#3a3a3a" stroke-width="0.8"/>
<text x="201.10" y="252.70" text-anchor="middle" stroke="#1c1c1c" font-size="6.1">Hoechst</text>
<text x="238.50" y="252.70" text-anchor="middle" stroke="#1c1c1c" font-size="6.1">Tunel</text>
<text x="275.40" y="252.70" text-anchor="middle" stroke="#1c1c1c" font-size="6.1">Merge</text>
<rect x="182.70" y="253.80" width="111.80" height="27.50" fill="#050509"/>
<clipPath id="jc10"><rect x="182.70" y="253.80" width="111.80" height="27.5"/></clipPath>
<g clip-path="url(#jc10)">
<g id="h10" transform="translate(182.70 253.80)" filter="url(#b3)">
<path d="M17.9 22.9h0M4.7 13.0h0M2.3 16.1h0M26.3 11.6h0M6.8 23.4h0M36.5 13.4h0M7.6 18.9h0M7.0 22.8h0M9.3 14.7h0M11.2 11.7h0M23.4 2.6h0M15.4 15.7h0M19.5 20.9h0M25.1 26.3h0M16.5 16.8h0M33.2 18.6h0M7.1 15.8h0M13.7 3.5h0M29.7 11.1h0M17.6 14.5h0M7.9 15.2h0M33.5 8.1h0M32.7 8.3h0M14.2 15.3h0M20.3 6.3h0M26.7 22.6h0M10.0 6.3h0M19.1 14.6h0M30.5 3.1h0M9.4 24.9h0M0.8 24.9h0" stroke="#4560cc" stroke-width="1.2" stroke-linecap="round" fill="none"/>
<path d="M19.9 19.7h0M34.0 3.2h0M27.5 6.0h0M15.5 2.4h0M27.9 5.7h0M6.5 14.0h0M20.3 9.7h0M27.5 21.6h0M19.0 19.4h0M10.8 15.1h0M3.2 4.4h0M31.2 10.7h0M1.9 15.9h0M18.3 2.5h0M24.1 13.8h0M15.1 1.5h0M3.1 26.9h0M22.6 25.9h0M12.8 27.1h0M19.3 6.9h0M23.1 11.2h0M11.7 15.5h0M30.2 17.6h0M16.3 8.4h0M18.0 10.6h0M20.9 26.8h0M6.5 17.3h0M36.2 17.3h0M27.6 11.3h0M28.1 21.5h0M3.2 22.9h0M17.0 14.8h0" stroke="#3046a4" stroke-width="1.0" stroke-linecap="round" fill="none"/>
<path d="M31.0 21.7h0M17.1 1.6h0M7.5 14.5h0M22.7 8.1h0M28.8 7.2h0M2.3 22.6h0M30.7 10.6h0M17.6 2.1h0M33.4 3.0h0M14.4 10.3h0M3.3 16.2h0M23.2 4.3h0M29.4 17.3h0M7.0 6.5h0M22.4 8.2h0M18.4 21.4h0M20.3 15.9h0M3.1 23.0h0M22.3 24.8h0M13.8 13.3h0M32.4 5.6h0M26.3 24.2h0M4.9 12.9h0M28.7 6.3h0M16.9 15.5h0M31.6 16.2h0M36.4 21.3h0M30.0 24.0h0M27.0 8.3h0M12.6 12.3h0M7.1 19.4h0M6.1 13.2h0" stroke="#202e74" stroke-width="0.9" stroke-linecap="round" fill="none"/>
<path d="M27.7 8.0h0" stroke="#3050c8" stroke-width="2.6" stroke-linecap="round" fill="none" opacity="0.8"/>
</g>
<use href="#h10" x="73.90"/>
<g id="t10" transform="translate(220.10 253.80)" filter="url(#b3)">
<path d="M27.7 22.6h0M16.9 10.0h0M27.0 5.5h0M31.9 11.3h0M3.9 21.6h0" stroke="#2a8030" stroke-width="0.65" stroke-linecap="round" fill="none"/>
<path d="M19.8 5.4h0M22.5 12.6h0M9.7 17.8h0M11.3 25.5h0" stroke="#1c5a24" stroke-width="0.55" stroke-linecap="round" fill="none"/>
</g>
<use href="#t10" x="36.50"/>
</g>
<text x="294.40" y="278.20" text-anchor="end" fill="#f4f4f4" font-size="5.8" stroke="none">100 μm</text>
<line x1="281.00" y1="280.00" x2="290.10" y2="280.00" stroke="#fff" stroke-width="0.9"/>
<rect x="182.70" y="283.30" width="111.80" height="27.50" fill="#050509"/>
<clipPath id="jc11"><rect x="182.70" y="283.30" width="111.80" height="27.5"/></clipPath>
<g clip-path="url(#jc11)">
<g id="h11" transform="translate(182.70 283.30)" filter="url(#b3)">
<path d="M3.7 0.5h0M29.2 20.2h0M2.4 20.2h0M33.1 5.9h0M23.8 19.3h0M24.2 15.8h0M27.7 10.1h0M20.1 7.5h0M14.9 22.2h0M19.8 12.5h0M12.5 1.6h0M26.2 2.3h0M13.1 26.4h0M26.9 23.4h0M18.5 15.5h0M9.4 3.8h0M24.5 9.5h0M31.2 19.6h0M2.3 4.0h0M20.2 16.0h0M21.7 14.9h0M28.7 10.9h0M11.7 27.0h0M15.3 26.7h0M14.8 4.7h0" stroke="#4560cc" stroke-width="1.2" stroke-linecap="round" fill="none"/>
<path d="M34.8 2.5h0M17.5 14.8h0M34.8 4.4h0M36.6 18.9h0M13.1 5.9h0M33.5 19.0h0M20.5 4.3h0M24.6 7.6h0M20.4 5.7h0M35.9 16.5h0M33.2 5.4h0M31.7 10.8h0M17.1 20.8h0M33.1 13.0h0M15.2 2.4h0M34.4 3.3h0M13.2 24.6h0M12.8 24.8h0M17.1 11.0h0M5.7 19.2h0M5.3 21.6h0M24.2 9.9h0M8.0 2.6h0M28.3 25.8h0M31.3 4.8h0" stroke="#3046a4" stroke-width="1.0" stroke-linecap="round" fill="none"/>
<path d="M16.4 26.9h0M31.2 7.2h0M3.1 18.7h0M12.5 4.2h0M30.2 8.1h0M7.9 3.8h0M5.7 6.6h0M14.7 2.2h0M14.8 0.9h0M6.2 23.4h0M16.4 17.4h0M34.5 1.8h0M7.0 26.4h0M28.6 10.3h0M10.7 17.7h0M29.8 3.4h0M6.4 23.6h0M31.5 19.5h0M30.3 12.2h0M27.7 9.1h0M34.5 9.3h0M29.4 2.6h0M15.7 17.4h0M18.0 4.4h0M14.5 8.5h0" stroke="#202e74" stroke-width="0.9" stroke-linecap="round" fill="none"/>
<path d="M3.1 16.6h0M34.4 11.4h0M12.4 3.6h0" stroke="#3050c8" stroke-width="2.6" stroke-linecap="round" fill="none" opacity="0.8"/>
</g>
<use href="#h11" x="73.90"/>
<g id="t11" transform="translate(220.10 283.30)" filter="url(#b3)">
<path d="M18.3 8.7h0M24.8 2.3h0M32.9 18.0h0" stroke="#2a8030" stroke-width="0.65" stroke-linecap="round" fill="none"/>
<path d="M3.8 5.2h0M7.5 25.2h0M19.4 5.3h0" stroke="#1c5a24" stroke-width="0.55" stroke-linecap="round" fill="none"/>
</g>
<use href="#t11" x="36.50"/>
</g>
<text x="294.40" y="307.70" text-anchor="end" fill="#f4f4f4" font-size="5.8" stroke="none">100 μm</text>
<line x1="281.00" y1="309.50" x2="290.10" y2="309.50" stroke="#fff" stroke-width="0.9"/>
<rect x="182.70" y="312.80" width="111.80" height="27.50" fill="#050509"/>
<clipPath id="jc12"><rect x="182.70" y="312.80" width="111.80" height="27.5"/></clipPath>
<g clip-path="url(#jc12)">
<g id="h12" transform="translate(182.70 312.80)" filter="url(#b3)">
<path d="M4.4 25.9h0M7.1 22.4h0M19.2 11.5h0M10.2 15.2h0M29.9 22.2h0M22.9 18.4h0M5.5 24.1h0M27.2 14.5h0M31.1 20.3h0M25.2 25.0h0M12.8 12.8h0M26.5 21.5h0M16.2 6.3h0M19.3 12.8h0M34.2 24.2h0M25.0 8.9h0M21.4 18.3h0M31.8 11.9h0M17.7 8.6h0M32.4 4.9h0M30.1 24.8h0M17.3 14.1h0M6.3 16.9h0M24.7 14.3h0M29.9 26.0h0M9.6 25.3h0M10.1 20.9h0M11.2 11.9h0M24.8 5.3h0M21.3 24.7h0M22.7 1.2h0M6.5 22.4h0M10.9 21.4h0M21.7 0.7h0M5.2 12.3h0M35.0 1.9h0M5.8 3.7h0M21.5 7.8h0M26.9 2.8h0M16.9 6.2h0" stroke="#4560cc" stroke-width="1.2" stroke-linecap="round" fill="none"/>
<path d="M9.5 23.5h0M36.8 7.0h0M31.0 25.3h0M26.3 8.3h0M27.4 9.3h0M29.9 25.4h0M20.4 12.7h0M21.9 22.1h0M4.2 22.5h0M33.3 24.5h0M36.0 8.1h0M8.4 10.9h0M25.7 1.9h0M16.3 16.5h0M24.8 19.2h0M12.3 23.0h0M34.7 21.0h0M32.7 25.8h0M15.2 12.6h0M8.4 1.5h0M15.7 5.0h0M25.7 14.1h0M11.2 12.2h0M7.9 18.4h0M36.2 22.7h0M18.1 8.8h0M32.8 25.4h0M4.5 20.2h0M8.6 23.1h0M20.7 2.0h0M14.6 5.7h0M10.0 14.0h0M29.9 24.7h0M35.1 15.2h0M15.7 21.2h0M16.5 22.9h0M4.8 4.4h0M34.6 2.5h0M22.2 11.3h0M2.8 17.6h0" stroke="#3046a4" stroke-width="1.0" stroke-linecap="round" fill="none"/>
<path d="M9.2 20.4h0M2.2 23.5h0M28.7 3.8h0M27.8 11.3h0M16.9 8.5h0M19.7 20.8h0M20.7 7.1h0M26.5 25.7h0M29.6 14.8h0M32.4 26.0h0M18.7 24.6h0M8.2 24.2h0M27.8 8.1h0M26.4 23.4h0M10.8 1.9h0M10.7 19.8h0M3.4 19.9h0M8.8 21.0h0M29.0 16.2h0M20.5 21.9h0M11.4 25.9h0M24.1 10.4h0M2.8 21.2h0M14.0 8.2h0M13.8 22.8h0M11.1 4.2h0M28.0 20.8h0M27.1 15.3h0M0.9 13.8h0M6.7 15.8h0M26.0 8.7h0M10.3 20.4h0M27.0 12.3h0M7.6 20.4h0M8.5 8.7h0M12.9 4.2h0M5.4 9.6h0M20.5 25.9h0M12.5 16.3h0M4.7 3.3h0" stroke="#202e74" stroke-width="0.9" stroke-linecap="round" fill="none"/>
<path d="M34.3 4.5h0M13.7 12.7h0M6.7 22.2h0" stroke="#3050c8" stroke-width="2.6" stroke-linecap="round" fill="none" opacity="0.8"/>
</g>
<use href="#h12" x="73.90"/>
<g id="t12" transform="translate(220.10 312.80)" filter="url(#b3)">
<path d="M24.8 21.4h0M27.8 13.1h0M14.4 15.1h0" stroke="#2a8030" stroke-width="0.65" stroke-linecap="round" fill="none"/>
<path d="M8.4 13.6h0M25.4 12.9h0M18.5 7.4h0" stroke="#1c5a24" stroke-width="0.55" stroke-linecap="round" fill="none"/>
</g>
<use href="#t12" x="36.50"/>
</g>
<text x="294.40" y="337.20" text-anchor="end" fill="#f4f4f4" font-size="5.8" stroke="none">100 μm</text>
<line x1="281.00" y1="339.00" x2="290.10" y2="339.00" stroke="#fff" stroke-width="0.9"/>
<rect x="182.70" y="342.30" width="111.80" height="27.50" fill="#050509"/>
<clipPath id="jc13"><rect x="182.70" y="342.30" width="111.80" height="27.5"/></clipPath>
<g clip-path="url(#jc13)">
<g id="h13" transform="translate(182.70 342.30)" filter="url(#b3)">
<path d="M21.9 6.4h0M13.1 6.4h0M27.5 23.6h0M21.6 0.8h0M30.9 3.1h0M25.8 5.3h0M18.3 9.4h0M7.1 11.2h0M10.9 3.1h0M19.9 20.9h0M1.8 1.9h0M19.5 11.0h0M34.0 2.5h0M21.1 10.9h0M25.6 3.7h0M16.0 12.5h0M22.8 21.3h0M32.7 3.1h0M11.0 9.9h0M20.4 5.0h0M26.3 21.0h0M14.0 20.8h0M17.2 13.1h0M18.6 22.1h0M13.5 2.0h0M11.3 21.1h0M10.6 22.0h0M11.3 12.5h0M28.6 5.5h0M25.6 17.2h0M28.3 2.0h0M12.5 21.2h0M33.4 4.6h0M22.9 4.0h0M14.7 7.9h0M22.1 8.2h0" stroke="#4560cc" stroke-width="1.2" stroke-linecap="round" fill="none"/>
<path d="M4.5 14.4h0M0.7 10.1h0M23.4 13.8h0M20.9 23.8h0M9.0 22.0h0M34.8 5.3h0M15.4 25.8h0M2.9 17.8h0M27.6 5.3h0M29.2 4.4h0M11.9 13.6h0M18.4 25.7h0M15.4 1.3h0M35.7 20.6h0M12.8 12.9h0M15.7 24.3h0M0.5 21.8h0M34.1 14.1h0M36.6 9.3h0M7.8 21.6h0M31.2 2.2h0M21.1 13.4h0M29.4 16.5h0M30.3 21.9h0M33.7 13.6h0M24.0 5.5h0M16.0 7.0h0M17.6 13.8h0M7.6 20.2h0M8.9 6.1h0M29.5 9.6h0M32.3 3.8h0M9.1 20.5h0M16.0 11.1h0M11.7 7.5h0M18.2 23.3h0M11.5 17.2h0" stroke="#3046a4" stroke-width="1.0" stroke-linecap="round" fill="none"/>
<path d="M32.0 15.8h0M14.3 24.1h0M10.5 9.0h0M14.6 20.0h0M5.4 17.9h0M26.2 4.4h0M35.1 19.2h0M3.2 12.2h0M9.1 22.0h0M15.8 5.5h0M25.5 18.0h0M17.6 10.3h0M25.8 9.5h0M8.1 16.9h0M17.3 24.1h0M32.9 1.9h0M18.7 9.2h0M35.5 18.0h0M7.3 24.7h0M19.7 25.6h0M15.1 23.4h0M2.4 10.3h0M4.7 27.0h0M5.0 15.2h0M24.2 24.6h0M20.6 12.5h0M4.0 21.6h0M23.5 24.8h0M10.2 23.0h0M27.0 9.9h0M6.9 14.2h0M25.5 6.6h0M25.3 4.3h0M15.5 16.4h0M5.6 22.3h0M15.1 17.3h0M9.9 21.2h0" stroke="#202e74" stroke-width="0.9" stroke-linecap="round" fill="none"/>
<path d="M12.4 5.6h0" stroke="#3050c8" stroke-width="2.6" stroke-linecap="round" fill="none" opacity="0.8"/>
</g>
<use href="#h13" x="73.90"/>
<g id="t13" transform="translate(220.10 342.30)" filter="url(#b3)">
<path d="M33.1 7.9h0M7.7 7.1h0M3.7 11.2h0M31.2 7.4h0M2.8 16.9h0M30.9 6.8h0" stroke="#2a8030" stroke-width="0.65" stroke-linecap="round" fill="none"/>
<path d="M17.1 23.1h0M11.9 24.0h0M9.6 6.3h0M15.3 8.6h0M15.4 21.3h0M19.0 12.3h0" stroke="#1c5a24" stroke-width="0.55" stroke-linecap="round" fill="none"/>
</g>
<use href="#t13" x="36.50"/>
</g>
<text x="294.40" y="366.70" text-anchor="end" fill="#f4f4f4" font-size="5.8" stroke="none">100 μm</text>
<line x1="281.00" y1="368.50" x2="290.10" y2="368.50" stroke="#fff" stroke-width="0.9"/>
<rect x="182.70" y="371.80" width="111.80" height="27.50" fill="#050509"/>
<clipPath id="jc14"><rect x="182.70" y="371.80" width="111.80" height="27.5"/></clipPath>
<g clip-path="url(#jc14)">
<g id="h14" transform="translate(182.70 371.80)" filter="url(#b3)">
<path d="M10.1 4.1h0M30.5 24.4h0M11.5 14.9h0M4.6 18.0h0M12.7 24.8h0M11.5 22.3h0M30.5 15.6h0M16.0 20.6h0M6.4 19.3h0M22.2 17.8h0M16.2 11.3h0M29.8 25.6h0M6.6 4.9h0M14.1 9.4h0M4.3 2.2h0M5.2 7.3h0M21.9 16.2h0M12.5 10.9h0M11.4 11.1h0M31.1 16.6h0M12.7 14.0h0M2.2 4.8h0M20.5 11.3h0M18.9 3.6h0M25.2 6.4h0M14.8 7.6h0M8.8 8.4h0M9.1 8.7h0M8.6 4.2h0M11.7 16.6h0M22.1 1.9h0M19.4 23.4h0M8.5 7.3h0M18.8 26.7h0M12.0 26.4h0M3.4 23.5h0M4.9 26.8h0M8.6 24.0h0M10.9 23.0h0M19.7 4.1h0M5.8 25.5h0M35.3 24.4h0M31.3 25.3h0M2.5 3.3h0M32.4 13.2h0M2.4 4.3h0M4.8 4.6h0M11.0 8.3h0M14.6 25.4h0M1.7 23.8h0" stroke="#4560cc" stroke-width="1.2" stroke-linecap="round" fill="none"/>
<path d="M17.9 21.5h0M9.3 18.8h0M21.3 7.2h0M0.7 1.7h0M2.1 8.1h0M15.5 23.7h0M11.9 16.8h0M14.7 3.3h0M7.9 6.6h0M6.4 6.4h0M16.0 19.7h0M17.2 8.0h0M9.0 11.5h0M4.9 6.0h0M8.4 12.5h0M8.8 2.3h0M11.2 8.3h0M9.3 4.6h0M5.1 23.5h0M12.7 23.0h0M12.0 21.7h0M3.2 3.9h0M15.6 21.9h0M16.0 18.5h0M4.9 20.8h0M15.3 25.0h0M14.1 9.6h0M5.1 22.3h0M7.9 24.9h0M11.9 13.8h0M9.3 19.2h0M23.3 23.3h0M2.0 15.9h0M23.3 13.3h0M13.6 7.6h0M2.8 3.4h0M3.5 4.7h0M10.3 14.2h0M1.1 2.6h0M17.5 23.0h0M25.2 19.2h0M15.3 9.0h0M32.7 6.0h0M15.0 25.1h0M8.4 11.5h0M4.0 20.6h0M1.1 20.4h0M16.3 15.2h0M22.0 5.1h0M6.9 25.0h0" stroke="#3046a4" stroke-width="1.0" stroke-linecap="round" fill="none"/>
<path d="M16.2 4.2h0M17.4 17.1h0M14.5 14.3h0M19.0 25.7h0M6.2 17.5h0M29.8 10.6h0M31.1 19.5h0M16.8 11.9h0M2.6 7.3h0M27.1 11.2h0M27.4 4.6h0M12.2 4.4h0M12.7 4.0h0M13.4 21.4h0M7.8 26.5h0M0.5 1.6h0M0.8 20.2h0M19.3 8.0h0M15.5 9.2h0M15.1 8.4h0M34.3 17.7h0M34.4 9.4h0M16.8 9.1h0M8.9 4.3h0M9.4 25.0h0M16.5 23.4h0M10.1 18.3h0M14.4 20.0h0M23.3 19.3h0M23.4 26.2h0M17.8 11.4h0M18.2 2.8h0M31.8 9.8h0M29.9 16.9h0M5.9 21.3h0M15.2 15.1h0M5.0 3.3h0M26.8 2.3h0M3.6 9.6h0M25.1 12.1h0M7.6 24.4h0M13.9 9.9h0M15.5 2.0h0M34.3 16.7h0M6.5 4.9h0M19.6 12.4h0M19.5 7.6h0M12.9 9.9h0M17.9 9.7h0M31.6 7.4h0" stroke="#202e74" stroke-width="0.9" stroke-linecap="round" fill="none"/>
<path d="M21.4 17.9h0M25.3 9.3h0M19.3 10.5h0" stroke="#3050c8" stroke-width="2.6" stroke-linecap="round" fill="none" opacity="0.8"/>
</g>
<use href="#h14" x="73.90"/>
<g id="t14" transform="translate(220.10 371.80)" filter="url(#b3)">
<path d="M24.3 10.0h0M23.9 24.0h0M33.4 21.6h0M24.7 11.7h0" stroke="#3fd24a" stroke-width="0.9" stroke-linecap="round" fill="none"/>
<path d="M24.4 15.7h0M15.8 21.0h0M28.9 3.1h0" stroke="#2a9a34" stroke-width="0.75" stroke-linecap="round" fill="none"/>
</g>
<use href="#t14" x="36.50"/>
</g>
<text x="294.40" y="396.20" text-anchor="end" fill="#f4f4f4" font-size="5.8" stroke="none">100 μm</text>
<line x1="281.00" y1="398.00" x2="290.10" y2="398.00" stroke="#fff" stroke-width="0.9"/>
<rect x="182.70" y="401.30" width="111.80" height="27.50" fill="#050509"/>
<clipPath id="jc15"><rect x="182.70" y="401.30" width="111.80" height="27.5"/></clipPath>
<g clip-path="url(#jc15)">
<g id="h15" transform="translate(182.70 401.30)" filter="url(#b3)">
<path d="M18.4 8.4h0M3.4 1.1h0M11.0 17.0h0M0.5 25.0h0M4.6 18.3h0M14.5 24.3h0M10.9 21.5h0M8.7 17.1h0M6.8 15.1h0M32.9 6.9h0M16.9 18.1h0M13.9 26.2h0M27.4 1.5h0M16.8 6.9h0M9.2 17.1h0M17.7 24.1h0M12.9 23.5h0M5.8 11.7h0M15.9 2.4h0M8.4 19.7h0M21.4 20.8h0M12.4 10.9h0M22.3 10.9h0M2.9 23.9h0M1.2 7.6h0M5.7 17.5h0M2.9 7.5h0M28.2 2.2h0M17.0 3.7h0M11.8 0.3h0M10.7 17.4h0M34.0 13.8h0M18.7 26.2h0M8.8 3.5h0M12.2 4.4h0M23.1 5.3h0M23.3 24.5h0M6.8 10.7h0M30.2 22.3h0M18.8 5.9h0M11.9 1.8h0M24.8 7.6h0M25.9 20.1h0" stroke="#4560cc" stroke-width="1.2" stroke-linecap="round" fill="none"/>
<path d="M6.1 17.5h0M23.1 23.6h0M10.7 8.9h0M29.5 15.4h0M5.0 13.3h0M3.4 19.1h0M10.1 21.3h0M23.3 3.0h0M22.9 22.6h0M9.5 7.6h0M17.6 22.5h0M8.0 19.7h0M5.5 21.4h0M29.1 1.1h0M25.3 2.6h0M29.7 24.4h0M19.2 20.6h0M33.3 7.8h0M24.2 19.7h0M11.3 1.8h0M28.4 4.1h0M23.1 4.6h0M5.1 24.6h0M9.4 22.3h0M18.1 14.8h0M27.5 19.7h0M35.4 4.7h0M14.0 20.6h0M25.8 12.2h0M26.4 7.8h0M17.1 11.2h0M17.8 12.0h0M22.5 18.1h0M7.1 6.7h0M24.8 22.0h0M36.3 23.5h0M34.5 20.9h0M26.1 23.6h0M6.0 0.5h0M24.5 14.9h0M8.2 13.9h0M25.7 24.7h0M24.6 13.6h0" stroke="#3046a4" stroke-width="1.0" stroke-linecap="round" fill="none"/>
<path d="M3.1 2.6h0M9.9 21.0h0M15.4 13.3h0M27.2 11.6h0M31.6 1.7h0M5.6 9.4h0M4.4 17.4h0M10.0 18.5h0M10.5 13.8h0M2.5 13.3h0M24.2 2.3h0M8.9 8.7h0M22.5 1.5h0M11.7 15.3h0M1.3 6.3h0M1.5 6.4h0M10.4 14.1h0M2.4 7.2h0M29.2 0.6h0M8.7 19.7h0M34.9 26.2h0M4.7 6.4h0M12.8 26.7h0M9.1 1.4h0M23.1 8.1h0M3.9 8.4h0M31.1 6.6h0M9.8 6.7h0M6.5 8.8h0M33.8 21.3h0M13.4 5.4h0M26.3 18.4h0M28.2 16.2h0M9.8 18.4h0M22.1 4.7h0M12.4 18.2h0M4.4 9.0h0M22.9 21.6h0M4.8 19.6h0M22.1 6.4h0M24.0 2.9h0M16.0 12.0h0M35.4 3.8h0M26.1 20.2h0" stroke="#202e74" stroke-width="0.9" stroke-linecap="round" fill="none"/>
<path d="M30.8 21.6h0" stroke="#3050c8" stroke-width="2.6" stroke-linecap="round" fill="none" opacity="0.8"/>
</g>
<use href="#h15" x="73.90"/>
<g id="t15" transform="translate(220.10 401.30)" filter="url(#b3)">
<path d="M20.1 10.7h0M9.3 8.3h0M12.5 6.4h0M24.6 12.7h0M6.7 10.4h0M11.5 14.3h0M22.3 17.8h0M18.4 10.7h0M15.7 3.8h0M30.4 17.5h0M23.7 6.5h0M12.7 23.2h0M24.4 2.0h0" stroke="#3fd24a" stroke-width="0.9" stroke-linecap="round" fill="none"/>
<path d="M29.6 17.0h0M29.2 18.0h0M12.6 13.4h0M2.1 21.0h0M10.8 13.5h0M4.8 9.3h0M20.7 13.3h0M14.0 10.3h0M24.7 13.2h0M10.7 11.5h0M27.6 24.0h0M25.7 10.8h0M6.6 8.3h0" stroke="#2a9a34" stroke-width="0.75" stroke-linecap="round" fill="none"/>
</g>
<use href="#t15" x="36.50"/>
</g>
<text x="294.40" y="425.70" text-anchor="end" fill="#f4f4f4" font-size="5.8" stroke="none">100 μm</text>
<line x1="281.00" y1="427.50" x2="290.10" y2="427.50" stroke="#fff" stroke-width="0.9"/>
</g>
<g id="panelK">
<text x="0.00" y="462.70" font-weight="bold" fill="#000" stroke="#000" font-size="7.0">K</text>
<text x="52.50" y="475.50" text-anchor="middle" fill="#cf4f2e" stroke="#cf4f2e" font-size="6.1">oe-SKA3</text>
<text x="52.50" y="483.20" text-anchor="middle" fill="#cf4f2e" stroke="#cf4f2e" font-size="6.1">+DMSO</text>
<text x="98.90" y="475.50" text-anchor="middle" fill="#3b74bd" stroke="#3b74bd" font-size="6.1">Ctrl</text>
<text x="98.90" y="483.20" text-anchor="middle" fill="#3b74bd" stroke="#3b74bd" font-size="6.1">+DMSO</text>
<text x="145.40" y="475.50" text-anchor="middle" fill="#a9c1e8" stroke="#a9c1e8" font-size="6.1">oe-SKA3+</text>
<text x="145.40" y="483.20" text-anchor="middle" fill="#a9c1e8" stroke="#a9c1e8" font-size="6.1">HIF-1α inhibitor</text>
<text x="192.90" y="475.50" text-anchor="middle" fill="#bdbdbd" stroke="#bdbdbd" font-size="6.1">sh-SKA3</text>
<text x="192.90" y="483.20" text-anchor="middle" fill="#bdbdbd" stroke="#bdbdbd" font-size="6.1">+DMSO</text>
<text x="239.80" y="475.50" text-anchor="middle" fill="#787878" stroke="#787878" font-size="6.1">Ctrl+</text>
<text x="239.80" y="483.20" text-anchor="middle" fill="#787878" stroke="#787878" font-size="6.1">HIF-1α inhibitor</text>
<text x="286.70" y="475.50" text-anchor="middle" fill="#262626" stroke="#262626" font-size="6.1">sh-SKA3+</text>
<text x="286.70" y="483.20" text-anchor="middle" fill="#262626" stroke="#262626" font-size="6.1">HIF-1α inhibitor</text>
<text x="26.80" y="510.00" text-anchor="end" stroke="#1c1c1c" font-size="6.0">HT-A549</text>
<text x="26.80" y="567.20" text-anchor="end" stroke="#1c1c1c" font-size="6.0">HT-PC9</text>
<radialGradient id="dg200"><stop offset="0.75" stop-color="#e4e6e8"/><stop offset="1" stop-color="#cfd2d8"/></radialGradient>
<circle cx="52.50" cy="507.80" r="22.20" fill="url(#dg200)"/>
<clipPath id="dc200"><circle cx="52.50" cy="507.80" r="21.90"/></clipPath>
<g clip-path="url(#dc200)">
<circle cx="52.50" cy="507.80" r="22.20" fill="#6a5fc0" opacity="0.2"/>
<g filter="url(#b3)">
<path d="M61.8 510.5h0M43.3 510.2h0M46.6 494.0h0M49.7 495.5h0M58.7 515.3h0M66.8 509.6h0M45.0 526.8h0M49.9 486.8h0M65.3 522.1h0M47.9 509.6h0M51.5 488.2h0M58.7 524.1h0M39.8 516.0h0M50.4 498.9h0M61.9 522.3h0M69.5 503.1h0M56.5 495.2h0M72.1 502.5h0M53.9 513.3h0M63.1 524.9h0M67.5 507.0h0M36.4 506.6h0M65.8 515.2h0M50.0 518.9h0M57.3 496.3h0M33.3 513.1h0M70.3 511.3h0M43.0 509.9h0M58.7 489.0h0M49.7 499.7h0M49.3 503.8h0M33.9 515.0h0M42.2 492.2h0M37.2 504.3h0M44.2 515.2h0M51.2 523.1h0M40.5 516.0h0M41.2 519.6h0M57.7 524.4h0M42.3 521.1h0M56.0 511.9h0M47.5 505.7h0M35.9 505.7h0M69.6 506.9h0M43.2 506.1h0M54.8 524.0h0M32.8 503.4h0M67.2 501.8h0M45.3 517.9h0M72.7 503.4h0M72.6 509.5h0M62.6 502.5h0M49.6 517.6h0M43.3 491.0h0M45.9 526.8h0M65.1 512.5h0M48.2 501.8h0M35.5 498.9h0M50.6 510.5h0M49.8 500.8h0M67.7 503.6h0M62.6 489.3h0M34.8 519.1h0M60.0 506.9h0M36.2 499.5h0M49.8 509.9h0M64.9 516.6h0M46.7 498.2h0M49.9 499.2h0M42.7 526.2h0M68.1 502.4h0M39.2 497.6h0M52.7 488.6h0M62.4 490.5h0M49.3 526.9h0M66.7 518.1h0M51.4 508.7h0M72.7 506.0h0M47.6 516.3h0M37.6 498.1h0M58.3 487.1h0M63.4 519.0h0M62.6 499.9h0M72.0 516.6h0M49.1 496.7h0M58.3 518.4h0M44.5 517.8h0M32.4 508.5h0M41.8 511.8h0M32.4 511.2h0M53.2 525.1h0M61.5 489.5h0M50.8 486.9h0M40.8 519.3h0" stroke="#4b3db4" stroke-width="1.71" stroke-linecap="round" fill="none" opacity="0.76"/>
<path d="M68.0 498.8h0M43.8 496.0h0M31.6 509.4h0M54.7 499.9h0M57.5 528.4h0M49.1 504.5h0M57.9 520.6h0M37.5 511.7h0M38.4 491.7h0M35.4 512.4h0M62.8 505.9h0M36.8 516.0h0M38.0 513.9h0M45.9 518.4h0M61.3 521.4h0M44.6 500.0h0M57.6 514.0h0M53.2 490.3h0M66.9 517.2h0M65.2 524.7h0M64.0 503.3h0M67.5 522.5h0M65.0 524.1h0M53.9 528.6h0M53.1 487.3h0M44.6 513.0h0M61.1 490.8h0M45.2 492.4h0M57.3 497.0h0M48.1 522.6h0M39.8 515.9h0M47.7 514.2h0M45.4 510.0h0M47.5 523.2h0M43.2 521.7h0M52.3 526.6h0M59.0 501.0h0M62.3 520.9h0M37.7 521.0h0M39.1 496.0h0M40.9 494.0h0M65.9 504.4h0M43.2 510.7h0M43.2 491.8h0M54.3 499.9h0M39.8 501.4h0M41.0 498.1h0M40.8 493.3h0M43.7 516.4h0M42.5 492.0h0M57.1 506.4h0M37.1 497.7h0M56.4 514.4h0M55.0 492.7h0M52.8 502.3h0M62.2 524.1h0M68.8 496.4h0M42.2 517.4h0M35.6 509.8h0M64.8 500.9h0M55.3 506.2h0M54.7 493.3h0M62.9 514.7h0M70.1 504.1h0M41.5 502.3h0M70.5 511.7h0M41.2 524.2h0M58.8 487.6h0M48.4 524.7h0M63.7 513.9h0M48.7 512.6h0M51.1 524.8h0M66.3 510.6h0M58.4 519.3h0M66.7 512.1h0M58.4 508.9h0M42.5 498.2h0M40.4 501.2h0M47.9 497.4h0M42.0 498.5h0M61.6 493.1h0M65.3 512.6h0M44.8 524.4h0M55.2 511.2h0M39.4 499.6h0M33.4 510.6h0M59.9 506.9h0M47.2 506.1h0M67.9 504.8h0M39.3 518.8h0" stroke="#4b3db4" stroke-width="2.14" stroke-linecap="round" fill="none" opacity="0.82"/>
<path d="M65.0 523.4h0M46.9 524.9h0M35.9 502.7h0M49.3 504.5h0M37.1 498.7h0M57.6 503.1h0M65.3 498.1h0M71.9 516.4h0M53.5 490.5h0M65.2 493.7h0M73.4 509.6h0M50.2 499.8h0M54.9 509.5h0M69.7 501.4h0M47.3 513.7h0M50.8 517.3h0M53.8 503.5h0M49.2 492.1h0M45.9 521.1h0M43.8 508.0h0M47.7 487.7h0M59.2 508.9h0M40.0 495.7h0M51.9 516.7h0M58.5 494.5h0M46.4 489.2h0M57.0 525.6h0M36.7 496.7h0M55.5 527.3h0M61.4 490.7h0M39.3 516.2h0M49.0 497.8h0M32.0 510.0h0M38.0 517.4h0M45.1 507.7h0M33.1 503.0h0M44.0 524.3h0M60.4 495.9h0M37.8 497.3h0M58.7 513.2h0M50.4 522.8h0M42.3 512.5h0M35.1 499.4h0M47.8 516.8h0M60.9 504.6h0M32.4 506.1h0M34.0 505.8h0M46.4 498.5h0M48.8 512.0h0M54.8 495.8h0M54.6 506.0h0M43.0 508.2h0M39.2 521.1h0M69.6 501.6h0M70.6 513.1h0M65.6 497.2h0M45.2 519.6h0M34.6 504.5h0M37.9 516.0h0M60.3 501.3h0M34.9 496.1h0M36.1 510.5h0M36.4 518.0h0M70.1 495.7h0M51.9 526.0h0M52.2 510.9h0M60.2 526.4h0M46.3 515.2h0M68.1 519.8h0M58.3 501.0h0M64.7 490.4h0M67.5 505.7h0M51.5 494.4h0M40.8 518.9h0M41.3 519.3h0M39.2 514.9h0M44.0 516.6h0M66.3 498.5h0M66.1 494.2h0M38.9 497.2h0M70.3 517.0h0M55.0 524.9h0M64.6 517.7h0M41.3 507.3h0M39.0 508.5h0M35.5 517.1h0M46.3 525.0h0M56.9 501.8h0M65.6 499.0h0M41.6 507.5h0M62.6 496.1h0M43.9 493.8h0M41.9 510.9h0M56.2 507.6h0M33.0 505.3h0M32.6 512.1h0M31.3 506.8h0" stroke="#4b3db4" stroke-width="2.56" stroke-linecap="round" fill="none" opacity="0.9"/>
<path d="M49.7 493.8h0M50.7 487.9h0M32.5 508.8h0M57.0 486.9h0M50.8 518.3h0M60.2 502.0h0M56.1 493.9h0M50.9 489.4h0M72.8 513.0h0M60.2 504.3h0M48.4 513.1h0M56.8 513.6h0M64.4 523.1h0M43.7 505.8h0M43.9 525.5h0M53.7 527.3h0M65.8 507.6h0M32.3 502.4h0M58.7 491.6h0M58.4 492.1h0M45.4 502.6h0M54.3 496.1h0M46.2 520.0h0M52.3 497.6h0M56.5 516.5h0M52.9 526.3h0M42.6 508.8h0M47.8 488.3h0M44.4 506.9h0M63.8 517.8h0M63.8 495.8h0M66.3 517.0h0M59.8 517.2h0M67.5 493.9h0M49.1 525.5h0M62.5 522.8h0M57.4 503.2h0M63.2 522.9h0M61.5 517.6h0M56.5 499.0h0M43.8 489.6h0M51.2 487.1h0M57.3 504.7h0M40.1 515.5h0M46.5 521.8h0M39.5 506.5h0M41.6 516.1h0M49.0 498.1h0M66.8 494.4h0M34.3 516.3h0M60.9 520.0h0M68.2 508.8h0M48.1 488.8h0M34.1 512.3h0M61.1 524.5h0M56.9 519.4h0M47.3 512.4h0M45.5 517.3h0M51.4 496.5h0M51.6 494.2h0M43.4 521.0h0M49.7 493.7h0M44.2 491.7h0M67.1 503.5h0M58.5 503.6h0M44.2 502.5h0M68.8 499.2h0M61.5 521.8h0M39.8 517.7h0M49.0 492.9h0M64.4 525.5h0M38.3 515.6h0M47.8 509.4h0M52.4 521.5h0M38.0 494.7h0M64.5 513.3h0M57.0 514.1h0M66.5 495.5h0M71.6 510.8h0M67.0 517.2h0M65.2 514.1h0M31.6 507.4h0M72.3 502.6h0M64.8 509.6h0M50.6 510.2h0M70.4 498.1h0M69.4 500.3h0M47.0 527.9h0M52.0 512.4h0M39.3 499.2h0M50.8 513.5h0M49.9 527.7h0M33.7 503.4h0M41.3 502.7h0M52.3 527.0h0M57.6 516.6h0M66.8 503.8h0M63.7 508.3h0M47.8 516.8h0" stroke="#4b3db4" stroke-width="2.99" stroke-linecap="round" fill="none" opacity="0.96"/>
</g></g>
<radialGradient id="dg201"><stop offset="0.75" stop-color="#e4e6e8"/><stop offset="1" stop-color="#cfd2d8"/></radialGradient>
<circle cx="98.90" cy="507.80" r="22.20" fill="url(#dg201)"/>
<clipPath id="dc201"><circle cx="98.90" cy="507.80" r="21.90"/></clipPath>
<g clip-path="url(#dc201)">
<g filter="url(#b3)">
<path d="M110.1 512.8h0M117.9 497.9h0M97.0 504.6h0M104.2 520.6h0M80.4 518.1h0M82.4 508.8h0M103.3 487.2h0M107.5 506.6h0M96.1 509.0h0M103.1 522.5h0M100.3 528.8h0M80.2 506.7h0M101.8 511.2h0M78.3 510.8h0M92.8 506.6h0M118.8 503.0h0M110.1 493.4h0M89.7 503.0h0M110.5 512.5h0M103.4 500.5h0M90.9 505.7h0M86.4 518.6h0M106.5 500.2h0M94.8 521.3h0M83.5 508.2h0M114.1 501.9h0M77.8 505.3h0M105.9 512.6h0M104.6 513.5h0M112.6 496.4h0M84.7 516.5h0M93.1 509.4h0M104.0 500.3h0" stroke="#4b3db4" stroke-width="1.09" stroke-linecap="round" fill="none" opacity="0.76"/>
<path d="M110.0 495.2h0M89.2 505.6h0M101.3 515.5h0M107.6 514.8h0M97.6 511.6h0M112.7 514.6h0M88.0 523.7h0M80.3 517.4h0M116.5 506.6h0M94.0 512.6h0M116.0 499.3h0M79.7 509.9h0M97.9 511.2h0M85.3 493.2h0M102.5 506.2h0M107.1 506.3h0M109.9 517.1h0M98.0 495.8h0M100.0 491.0h0M97.7 500.0h0M89.8 494.1h0M81.6 517.8h0M87.4 521.7h0M109.8 492.7h0M83.4 508.1h0M114.6 498.7h0M102.0 508.4h0M99.4 504.0h0M119.6 510.1h0M103.8 526.9h0M85.1 500.2h0M110.3 494.8h0M108.1 527.0h0M103.6 516.9h0M109.2 493.9h0M117.7 507.1h0M105.2 487.9h0M100.2 504.3h0M79.2 513.6h0M83.5 510.8h0M102.3 490.0h0M116.8 515.0h0M114.0 521.7h0M82.2 520.6h0M86.2 509.2h0M88.0 522.5h0M102.0 508.9h0" stroke="#4b3db4" stroke-width="1.46" stroke-linecap="round" fill="none" opacity="0.82"/>
<path d="M105.9 508.4h0M100.1 489.6h0M80.2 509.5h0M88.1 507.4h0M101.4 491.5h0M108.4 515.9h0M114.2 500.1h0M102.5 496.6h0M90.1 504.1h0M91.2 506.1h0M111.4 497.3h0M87.9 512.7h0M99.6 522.3h0M109.3 501.6h0M93.0 509.4h0M101.7 507.1h0M91.3 516.6h0M113.1 521.9h0M98.1 516.0h0M117.5 504.8h0M112.8 499.2h0M89.8 512.6h0M87.9 517.1h0M116.2 514.1h0M111.2 492.9h0M85.6 518.8h0M117.3 513.4h0M97.3 507.8h0" stroke="#4b3db4" stroke-width="1.84" stroke-linecap="round" fill="none" opacity="0.9"/>
<path d="M101.2 495.7h0M90.8 500.1h0M115.3 501.9h0M79.0 503.4h0M86.3 504.9h0M109.0 508.0h0M87.0 516.1h0M86.2 498.3h0M99.3 505.2h0M101.7 514.3h0M111.3 517.7h0M101.0 506.5h0M93.4 528.1h0M85.2 519.8h0M97.4 515.0h0M112.7 498.5h0M108.2 511.7h0M85.3 498.4h0M120.1 511.0h0M84.5 496.0h0M94.8 512.1h0M90.6 514.5h0M116.6 503.4h0M109.4 522.5h0M99.2 522.9h0M103.0 526.8h0M102.0 487.6h0M116.2 496.8h0M116.2 513.2h0M94.7 508.4h0M102.6 500.8h0M106.9 502.8h0M93.2 507.2h0M83.1 508.1h0M99.4 491.1h0M90.9 516.5h0M96.0 509.5h0M112.2 516.7h0M112.6 512.5h0M89.1 496.7h0M100.1 500.8h0M96.5 529.2h0" stroke="#4b3db4" stroke-width="2.21" stroke-linecap="round" fill="none" opacity="0.96"/>
</g></g>
<radialGradient id="dg202"><stop offset="0.75" stop-color="#e4e6e8"/><stop offset="1" stop-color="#cfd2d8"/></radialGradient>
<circle cx="145.40" cy="507.80" r="22.20" fill="url(#dg202)"/>
<clipPath id="dc202"><circle cx="145.40" cy="507.80" r="21.90"/></clipPath>
<g clip-path="url(#dc202)">
<g filter="url(#b3)">
<path d="M128.8 516.2h0M158.3 494.0h0M148.8 511.5h0M129.0 511.4h0M132.2 492.5h0M127.9 505.3h0M149.4 522.0h0M153.9 512.7h0M129.6 508.2h0M137.0 494.3h0M140.3 487.9h0M135.1 523.1h0M132.5 500.2h0M164.9 499.3h0M153.7 508.7h0M140.2 508.2h0M148.3 504.3h0M150.0 517.1h0M164.2 515.6h0M157.4 498.0h0M130.3 516.3h0M153.2 496.9h0M146.1 503.1h0M140.0 521.6h0M140.5 507.4h0M130.4 514.5h0M141.5 522.3h0" stroke="#4b3db4" stroke-width="0.95" stroke-linecap="round" fill="none" opacity="0.76"/>
<path d="M160.6 511.3h0M146.7 524.8h0M153.8 498.8h0M165.7 503.6h0M143.7 509.4h0M151.9 503.9h0M158.3 495.4h0M150.8 503.1h0M156.8 504.7h0M136.1 507.8h0M143.7 507.8h0M126.3 507.8h0M157.8 490.7h0M158.4 514.2h0M156.6 503.4h0M139.3 502.2h0M148.3 495.6h0M144.2 491.5h0M139.1 500.7h0M149.8 497.1h0M144.1 521.8h0M141.6 497.5h0M129.1 512.9h0M127.4 505.0h0M132.1 499.3h0M151.0 510.8h0M141.0 487.2h0M164.8 503.9h0M134.3 518.6h0M159.7 496.6h0M158.8 524.6h0M160.2 506.7h0M146.1 518.3h0M157.8 508.2h0M158.2 512.1h0M155.5 523.2h0M158.4 498.4h0M149.5 518.1h0M126.1 515.7h0M136.7 526.8h0M156.4 501.5h0M163.9 515.0h0M137.5 518.9h0M146.6 494.1h0M151.7 517.9h0" stroke="#4b3db4" stroke-width="1.25" stroke-linecap="round" fill="none" opacity="0.82"/>
<path d="M125.7 511.4h0M135.7 511.9h0M156.0 507.6h0M130.8 519.6h0M140.4 514.7h0M134.4 502.6h0M127.2 518.1h0M145.2 528.9h0M162.6 502.3h0M156.8 514.3h0M149.9 508.4h0M160.9 512.8h0M165.0 502.3h0M130.0 517.2h0M140.6 516.2h0M126.2 508.2h0M160.6 496.1h0M149.3 499.0h0M159.9 494.5h0M145.0 511.5h0M158.2 497.6h0M150.9 502.4h0M159.0 522.7h0M142.4 525.1h0M148.4 502.8h0M132.8 491.0h0M156.6 501.7h0M136.9 499.4h0M163.1 496.8h0" stroke="#4b3db4" stroke-width="1.55" stroke-linecap="round" fill="none" opacity="0.9"/>
<path d="M146.9 490.6h0M152.1 501.0h0M159.2 505.1h0M126.9 505.2h0M149.6 518.7h0M147.4 491.1h0M143.1 506.4h0M153.1 503.5h0M129.1 501.4h0M154.0 524.0h0M155.2 503.1h0M125.3 507.0h0M156.2 499.7h0M151.5 523.4h0M149.9 495.6h0M142.7 515.9h0M158.7 523.8h0M149.6 508.2h0M138.4 522.7h0M141.0 527.2h0M152.6 520.3h0M132.6 522.6h0M139.9 490.0h0M157.0 512.6h0M150.4 499.7h0M139.3 497.7h0M166.1 502.3h0M164.7 509.8h0M130.1 499.4h0M152.9 488.4h0M161.9 510.9h0M151.7 519.6h0M146.6 489.5h0M141.3 492.0h0" stroke="#4b3db4" stroke-width="1.85" stroke-linecap="round" fill="none" opacity="0.96"/>
</g></g>
<radialGradient id="dg203"><stop offset="0.75" stop-color="#e4e6e8"/><stop offset="1" stop-color="#cfd2d8"/></radialGradient>
<circle cx="192.90" cy="507.80" r="22.20" fill="url(#dg203)"/>
<clipPath id="dc203"><circle cx="192.90" cy="507.80" r="21.90"/></clipPath>
<g clip-path="url(#dc203)">
<g filter="url(#b3)">
<path d="M192.1 520.9h0M172.4 510.3h0M210.5 517.5h0M173.2 509.1h0M181.6 491.1h0M172.8 510.3h0M205.6 513.7h0M205.2 518.4h0M214.1 507.5h0M206.2 493.7h0M180.6 491.9h0M183.4 527.0h0M199.6 521.5h0M180.0 519.8h0M208.9 512.9h0M202.4 523.8h0M172.2 510.7h0M177.4 514.3h0M191.4 493.2h0M206.8 506.8h0M180.1 504.3h0M204.1 526.0h0M196.3 521.4h0M196.7 501.1h0M171.9 511.7h0M176.6 494.0h0M177.6 516.4h0M197.9 488.8h0M194.3 496.8h0M173.1 513.0h0M190.8 494.8h0M197.9 516.2h0M180.5 493.0h0M194.0 524.6h0M172.3 509.6h0M172.4 505.2h0M181.5 496.8h0M178.9 518.2h0M196.5 489.0h0M200.2 524.6h0M180.5 507.6h0M208.6 517.6h0M183.9 494.6h0M175.0 512.8h0M200.2 493.2h0M175.3 497.9h0M174.5 499.1h0M195.0 500.5h0M207.9 523.0h0M190.4 488.2h0M211.0 507.6h0M173.3 501.2h0M213.5 508.3h0M190.8 494.4h0M201.2 490.2h0M190.1 502.2h0M207.8 517.0h0M203.8 526.1h0" stroke="#4b3db4" stroke-width="0.71" stroke-linecap="round" fill="none" opacity="0.76"/>
<path d="M210.1 518.9h0M177.9 495.1h0M186.8 516.9h0M211.0 496.6h0M186.7 501.0h0M202.4 526.2h0M212.4 506.1h0M191.7 488.9h0M205.2 495.7h0M184.3 491.8h0M205.2 514.4h0M204.4 499.0h0M173.7 510.2h0M180.0 524.0h0M185.1 523.8h0M211.8 516.5h0M206.9 523.2h0M187.8 497.6h0M206.8 511.9h0M214.0 506.8h0M179.2 515.5h0M180.0 516.5h0M205.6 515.3h0M203.4 498.6h0M192.3 528.2h0M202.6 495.3h0M173.4 516.9h0M210.8 496.2h0M178.9 498.5h0M173.4 507.4h0M200.0 489.0h0M192.3 495.8h0M212.4 499.9h0M184.3 522.4h0M193.3 486.8h0M208.0 498.0h0M203.0 525.2h0M210.7 515.9h0" stroke="#4b3db4" stroke-width="0.94" stroke-linecap="round" fill="none" opacity="0.82"/>
<path d="M214.0 511.7h0M206.3 520.0h0M198.8 526.7h0M189.5 524.4h0M180.9 516.0h0M213.3 501.1h0M190.2 520.1h0M212.3 499.2h0M190.4 488.3h0M211.8 507.8h0M180.7 495.0h0M205.7 496.2h0M180.7 521.3h0M184.1 505.5h0M198.8 492.7h0M209.6 502.2h0M172.8 514.5h0M174.7 510.4h0M184.1 521.3h0M202.2 517.8h0M214.0 509.4h0M195.0 527.3h0M179.9 515.6h0M185.9 489.1h0M203.7 522.7h0M191.9 492.0h0M208.3 512.6h0M183.8 514.6h0M174.3 513.6h0M194.9 494.3h0M183.9 516.3h0M182.8 502.1h0M199.0 495.4h0M199.0 528.2h0M197.2 524.8h0M176.9 516.5h0M188.2 494.7h0M192.3 493.2h0M204.4 502.8h0M186.2 527.3h0M205.3 492.4h0M188.1 528.1h0M172.8 511.1h0" stroke="#4b3db4" stroke-width="1.16" stroke-linecap="round" fill="none" opacity="0.9"/>
<path d="M176.3 499.7h0M208.9 501.6h0M177.9 492.5h0M205.5 511.5h0M178.7 499.6h0M213.2 510.6h0M174.8 516.3h0M212.1 504.3h0M191.5 523.4h0M178.4 503.7h0M203.7 501.1h0M210.6 508.1h0M176.8 498.5h0M194.4 515.8h0M199.7 523.7h0M175.0 497.5h0M178.9 505.8h0M178.6 516.7h0M186.3 490.2h0M177.0 496.2h0M187.4 487.5h0M206.7 518.5h0M173.7 501.0h0M205.4 513.3h0M197.0 522.6h0M196.9 487.4h0M173.3 510.9h0M205.2 520.2h0M186.7 525.9h0M207.1 517.6h0M214.4 507.9h0" stroke="#4b3db4" stroke-width="1.39" stroke-linecap="round" fill="none" opacity="0.96"/>
</g></g>
<radialGradient id="dg204"><stop offset="0.75" stop-color="#e4e6e8"/><stop offset="1" stop-color="#cfd2d8"/></radialGradient>
<circle cx="239.80" cy="507.80" r="22.20" fill="url(#dg204)"/>
<clipPath id="dc204"><circle cx="239.80" cy="507.80" r="21.90"/></clipPath>
<g clip-path="url(#dc204)">
<g filter="url(#b3)">
<path d="M245.5 506.6h0M250.1 519.4h0M227.4 512.0h0M244.5 497.2h0M236.4 490.4h0M226.0 522.8h0M229.5 491.5h0M251.8 498.3h0M248.1 526.4h0M232.5 501.7h0M250.3 504.1h0M241.3 528.8h0M231.4 518.8h0M259.8 512.9h0M234.6 503.2h0M225.9 509.1h0M234.6 525.3h0M256.4 520.6h0M249.4 526.8h0M246.5 507.1h0M247.2 522.8h0M243.3 493.7h0M230.4 521.0h0M253.6 499.0h0M220.6 514.9h0" stroke="#4b3db4" stroke-width="0.72" stroke-linecap="round" fill="none" opacity="0.76"/>
<path d="M234.8 511.6h0M243.6 500.3h0M242.6 527.6h0M220.3 515.6h0M249.8 491.7h0M253.9 495.0h0M254.0 493.8h0M228.7 510.7h0M245.5 519.7h0M239.9 494.4h0M236.6 508.0h0M258.7 499.1h0M245.0 498.2h0M235.9 519.4h0M221.9 504.8h0M247.9 513.8h0M222.9 518.6h0M247.7 499.2h0M258.6 500.2h0M225.5 500.9h0M252.9 518.0h0M241.4 524.2h0M250.3 501.7h0M224.2 507.1h0M248.2 500.6h0M236.3 499.0h0M221.0 516.5h0M253.3 521.2h0M237.8 487.1h0M250.8 495.2h0M249.2 501.1h0" stroke="#4b3db4" stroke-width="0.97" stroke-linecap="round" fill="none" opacity="0.82"/>
<path d="M249.8 518.9h0M252.5 517.8h0M220.2 512.7h0M245.6 528.1h0M224.5 519.7h0M222.4 497.9h0M226.9 516.7h0M251.2 517.3h0M235.8 526.4h0M247.3 524.5h0M232.2 494.3h0M246.6 519.7h0M238.6 499.2h0M254.1 514.1h0M255.9 509.1h0M261.2 505.7h0M231.9 494.0h0M244.0 524.4h0M241.0 527.8h0M254.6 497.5h0M231.6 514.6h0M246.7 499.5h0M255.2 495.1h0M229.8 497.6h0M252.5 522.9h0M228.9 518.5h0M257.4 498.1h0M249.1 518.6h0M223.9 505.9h0M221.2 503.1h0M228.9 504.8h0" stroke="#4b3db4" stroke-width="1.23" stroke-linecap="round" fill="none" opacity="0.9"/>
<path d="M245.5 518.2h0M241.0 500.2h0M250.9 498.7h0M223.9 504.0h0M237.4 491.1h0M245.6 524.0h0M229.7 498.9h0M239.3 491.3h0M247.9 524.1h0M229.7 520.5h0M244.7 512.4h0M244.7 495.3h0M245.4 522.0h0M247.3 491.5h0M223.4 498.8h0M223.7 500.1h0M257.8 497.8h0M237.9 491.3h0M253.5 506.1h0M243.6 487.6h0M255.3 522.1h0M232.7 496.0h0M223.2 495.6h0M226.3 511.7h0M232.9 492.0h0M236.9 523.1h0M251.8 490.9h0M232.8 503.1h0M236.2 525.8h0M240.0 507.3h0M233.3 514.4h0M258.6 513.3h0M224.0 498.7h0" stroke="#4b3db4" stroke-width="1.48" stroke-linecap="round" fill="none" opacity="0.96"/>
</g></g>
<radialGradient id="dg205"><stop offset="0.75" stop-color="#e4e6e8"/><stop offset="1" stop-color="#cfd2d8"/></radialGradient>
<circle cx="286.70" cy="507.80" r="22.20" fill="url(#dg205)"/>
<clipPath id="dc205"><circle cx="286.70" cy="507.80" r="21.90"/></clipPath>
<g clip-path="url(#dc205)">
<g filter="url(#b3)">
<path d="M302.0 505.4h0M270.8 498.6h0M290.6 502.9h0M295.3 489.8h0M306.8 508.3h0M283.4 496.0h0M296.9 526.6h0M281.0 519.1h0M273.7 516.5h0M271.7 522.3h0" stroke="#4b3db4" stroke-width="0.74" stroke-linecap="round" fill="none" opacity="0.76"/>
<path d="M293.1 526.4h0M304.2 504.8h0M308.0 510.6h0M291.6 524.9h0M296.4 492.2h0M282.6 518.8h0M289.1 487.8h0M293.1 523.6h0M280.6 503.7h0M295.1 524.6h0M306.2 499.1h0" stroke="#4b3db4" stroke-width="1.01" stroke-linecap="round" fill="none" opacity="0.82"/>
<path d="M274.5 507.1h0M271.1 495.6h0M302.5 507.3h0M302.5 521.7h0M308.1 507.6h0M292.5 491.1h0M306.5 500.0h0M299.7 515.7h0M277.0 517.5h0M287.1 507.0h0M285.5 498.3h0M276.2 491.1h0M276.0 514.0h0" stroke="#4b3db4" stroke-width="1.29" stroke-linecap="round" fill="none" opacity="0.9"/>
<path d="M299.0 504.0h0M265.8 509.7h0M299.4 515.1h0M299.6 500.8h0M297.2 507.4h0" stroke="#4b3db4" stroke-width="1.56" stroke-linecap="round" fill="none" opacity="0.96"/>
<path d="M269.9 515.1h0M271.9 504.4h0M291.5 498.8h0" stroke="#4b3db4" stroke-width="3.0" stroke-linecap="round" fill="none" opacity="0.9"/>
</g></g>
<radialGradient id="dg300"><stop offset="0.75" stop-color="#e4e5ea"/><stop offset="1" stop-color="#cdd0da"/></radialGradient>
<circle cx="52.50" cy="565.70" r="22.40" fill="url(#dg300)"/>
<clipPath id="dc300"><circle cx="52.50" cy="565.70" r="22.10"/></clipPath>
<g clip-path="url(#dc300)">
<circle cx="52.50" cy="565.70" r="22.40" fill="#7468c4" opacity="0.28"/>
<g filter="url(#b3)">
<path d="M42.1 558.4h0M44.5 561.8h0M38.8 550.8h0M48.2 554.7h0M71.9 568.0h0M46.4 583.8h0M44.8 560.9h0M65.1 583.4h0M45.6 562.7h0M36.5 554.6h0M53.1 567.1h0M54.2 570.0h0M46.6 550.3h0M58.2 562.4h0M57.2 568.3h0M59.7 561.6h0M50.3 566.0h0M48.1 566.3h0M33.7 556.0h0M38.9 575.6h0M36.4 569.5h0M41.5 583.3h0M31.7 570.3h0M37.7 559.7h0M53.2 577.5h0M45.6 558.3h0M39.8 573.2h0M56.0 553.8h0M35.7 553.0h0M51.3 553.6h0M69.8 575.2h0M34.7 554.9h0M66.9 579.2h0M58.1 562.0h0M53.9 584.2h0M68.9 553.2h0M58.6 561.8h0M39.0 562.8h0M53.8 573.6h0M58.7 555.2h0M34.1 564.8h0M61.0 580.2h0M43.0 562.0h0M47.9 562.0h0M62.0 547.5h0M67.0 569.3h0M67.0 554.5h0M55.4 559.5h0M31.7 563.4h0M57.3 579.6h0M65.8 549.2h0M42.0 550.3h0M54.8 570.5h0M48.9 583.7h0M41.1 575.6h0M33.1 570.5h0M50.9 576.5h0M49.2 557.5h0M45.2 559.6h0M60.6 548.2h0M46.2 553.5h0M57.1 571.7h0M44.0 582.5h0M49.3 566.1h0M49.9 561.8h0M72.1 560.2h0M67.3 579.8h0M58.1 564.7h0M38.2 549.5h0M33.0 566.8h0M34.3 560.9h0M47.9 586.3h0M70.0 571.2h0M51.7 576.6h0M45.1 565.6h0M54.9 573.1h0M46.3 551.0h0M68.6 555.7h0M54.7 548.2h0M46.5 575.1h0M70.6 573.7h0M36.9 554.9h0M44.2 555.8h0M47.8 586.0h0M69.5 578.2h0M60.2 568.5h0M46.2 580.3h0M55.2 572.0h0M43.7 572.0h0M54.2 545.6h0M61.3 583.8h0M41.6 549.0h0M57.2 567.8h0M63.2 566.1h0M67.1 577.5h0M58.4 576.2h0M45.7 573.0h0M52.3 557.8h0M35.4 571.0h0M68.1 552.2h0M62.4 578.4h0M36.9 560.8h0M57.9 581.9h0M51.5 544.8h0M56.9 572.2h0M51.3 547.5h0M62.5 581.2h0M69.5 575.0h0M40.5 576.4h0M33.9 557.1h0M46.4 574.4h0M46.1 556.1h0M50.5 566.5h0M58.8 547.9h0M31.2 569.2h0M47.6 548.2h0M60.6 581.3h0M60.0 584.1h0M69.2 575.8h0M58.7 568.3h0M45.3 554.7h0M53.5 562.7h0M64.0 581.3h0M43.3 581.1h0M62.7 551.8h0M36.6 577.5h0M66.7 561.3h0M45.1 581.2h0M48.2 564.0h0" stroke="#4b3db4" stroke-width="1.49" stroke-linecap="round" fill="none" opacity="0.76"/>
<path d="M40.7 571.5h0M70.5 558.0h0M64.1 567.1h0M48.4 580.6h0M60.5 564.3h0M41.8 547.5h0M56.0 553.4h0M60.3 584.9h0M55.6 574.7h0M68.8 571.1h0M63.2 575.1h0M41.3 580.5h0M66.7 561.6h0M62.2 571.3h0M59.0 545.9h0M44.2 562.8h0M44.4 553.0h0M61.4 556.8h0M70.5 568.0h0M57.7 563.7h0M53.4 550.6h0M58.4 580.7h0M57.5 555.8h0M73.6 567.4h0M44.1 576.4h0M39.6 562.6h0M48.8 559.4h0M37.5 568.7h0M68.6 565.2h0M45.4 571.0h0M52.1 585.9h0M35.6 577.2h0M52.5 569.4h0M71.7 557.3h0M40.2 553.8h0M65.1 562.7h0M52.1 560.8h0M62.3 578.9h0M66.2 572.5h0M52.1 549.0h0M36.9 563.8h0M54.8 569.9h0M65.6 581.2h0M65.8 562.6h0M45.2 552.0h0M54.3 547.7h0M36.2 567.7h0M66.0 556.1h0M71.9 563.9h0M41.1 569.6h0M54.0 571.8h0M53.5 566.7h0M58.9 577.9h0M36.5 558.3h0M33.4 575.2h0M43.4 562.7h0M49.3 562.4h0M58.1 585.7h0M41.1 554.1h0M65.9 555.6h0M40.7 560.7h0M33.5 556.9h0M72.6 560.5h0M50.2 577.1h0M46.4 584.5h0M40.8 554.7h0M44.5 557.3h0M40.0 562.3h0M57.0 563.4h0M69.2 570.2h0M40.8 580.0h0M57.2 545.2h0M47.4 585.8h0M67.3 571.2h0M51.1 582.1h0M52.4 561.6h0M51.1 548.9h0M41.3 576.7h0M63.7 567.3h0M46.3 573.7h0M57.6 555.1h0M65.7 576.7h0M41.7 548.3h0M55.8 558.9h0M53.4 557.0h0M66.1 567.1h0M45.7 571.0h0M63.9 583.6h0M62.4 549.1h0M68.4 574.2h0M41.8 556.8h0M67.1 558.0h0M62.9 582.2h0M57.0 570.3h0M61.5 568.9h0M53.3 569.6h0M60.3 554.9h0M54.5 548.4h0M50.4 545.7h0M52.6 561.4h0M36.8 579.9h0M48.3 571.0h0M53.3 566.8h0M43.0 571.6h0M48.1 548.4h0M49.9 562.2h0M57.0 578.5h0M65.8 560.7h0M58.9 559.0h0M62.4 578.0h0M41.7 571.6h0M50.1 567.5h0M72.0 569.4h0M32.5 561.2h0M48.8 552.9h0M37.6 578.3h0M44.1 581.3h0M36.0 553.4h0M42.1 584.6h0M33.0 563.6h0M73.1 572.3h0M47.4 584.5h0M44.9 573.8h0M53.5 551.2h0M55.7 570.5h0M49.3 550.9h0M41.6 549.4h0M52.1 562.7h0M40.8 557.1h0M34.6 563.5h0M64.8 580.7h0M52.9 557.0h0M33.7 572.7h0M36.8 568.3h0M49.5 585.9h0M50.9 552.1h0M66.7 576.2h0M50.8 567.7h0M52.6 547.7h0" stroke="#4b3db4" stroke-width="1.86" stroke-linecap="round" fill="none" opacity="0.82"/>
<path d="M63.5 562.7h0M50.9 551.3h0M53.5 579.6h0M42.8 552.0h0M70.0 554.0h0M31.0 563.4h0M37.8 566.6h0M66.3 560.5h0M54.2 545.1h0M41.0 560.6h0M39.5 550.8h0M65.7 576.3h0M51.7 577.6h0M41.7 572.2h0M49.8 565.8h0M51.8 584.5h0M51.8 556.1h0M36.8 571.5h0M38.5 575.8h0M56.4 545.9h0M38.0 562.1h0M66.4 553.4h0M40.5 572.3h0M48.4 556.1h0M50.8 560.7h0M31.7 568.0h0M44.3 561.5h0M59.1 582.8h0M40.6 582.9h0M41.7 551.5h0M40.1 575.8h0M52.8 562.9h0M50.0 564.9h0M57.8 557.5h0M65.8 568.9h0M57.4 581.5h0M33.8 572.3h0M46.8 571.3h0M63.3 563.4h0M32.0 570.2h0M61.4 577.6h0M56.6 582.9h0M62.1 547.3h0M66.1 549.9h0M34.9 563.5h0M34.3 566.0h0M52.1 554.7h0M46.2 549.5h0M51.7 553.9h0M44.0 554.9h0M69.0 552.3h0M45.3 562.8h0M71.4 566.4h0M59.6 563.6h0M32.3 570.9h0M70.1 558.5h0M65.8 567.3h0M61.1 574.6h0M33.7 560.2h0M72.2 558.4h0M37.3 569.6h0M70.3 559.4h0M39.5 552.5h0M57.8 585.5h0M42.3 563.1h0M54.8 565.8h0M56.7 566.6h0M57.0 548.1h0M44.6 582.6h0M33.8 574.7h0M40.8 553.5h0M64.4 549.2h0M42.0 573.1h0M47.1 583.5h0M60.0 576.6h0M48.3 571.2h0M36.7 561.4h0M43.6 580.2h0M59.6 555.3h0M32.6 564.2h0M57.0 578.3h0M65.1 571.6h0M60.8 555.3h0M56.5 582.6h0M63.4 581.3h0M66.6 565.2h0M60.0 558.3h0M61.8 546.8h0M47.3 568.6h0M42.5 547.8h0M35.6 566.9h0M43.4 560.2h0M35.2 570.2h0M66.1 558.7h0M37.0 578.7h0M62.7 577.0h0M58.4 569.6h0M51.4 555.7h0M33.3 574.8h0M34.5 562.2h0M31.5 562.8h0M36.2 576.9h0M35.7 572.9h0M47.6 580.0h0M63.1 570.6h0M56.4 564.9h0M46.2 552.0h0M50.9 560.3h0M60.4 583.5h0M40.9 580.8h0M38.4 579.8h0M70.1 564.0h0M58.3 555.2h0M32.1 562.1h0M62.5 562.3h0M57.6 551.0h0M65.6 554.0h0M40.5 566.0h0M34.8 572.9h0M37.4 571.7h0M66.8 575.4h0M49.5 546.4h0M66.7 554.4h0M50.4 568.4h0M66.1 568.4h0M38.2 566.2h0M61.5 560.9h0M69.4 576.9h0M71.5 558.2h0M73.0 571.6h0M39.0 566.8h0M53.2 565.7h0M66.1 562.2h0M42.6 556.9h0M58.3 561.2h0M62.8 580.3h0M35.1 558.0h0M49.4 579.9h0" stroke="#4b3db4" stroke-width="2.24" stroke-linecap="round" fill="none" opacity="0.9"/>
<path d="M36.7 566.6h0M38.6 551.9h0M44.6 549.6h0M62.4 577.8h0M40.6 571.5h0M54.0 562.6h0M32.3 568.7h0M32.9 560.9h0M44.0 578.8h0M60.7 566.9h0M50.4 578.7h0M58.4 573.3h0M43.9 560.6h0M54.1 546.2h0M49.9 579.0h0M73.3 564.3h0M46.6 565.9h0M56.6 564.2h0M56.3 551.9h0M69.7 571.4h0M52.3 565.5h0M60.7 579.5h0M55.7 555.2h0M56.2 550.1h0M60.5 573.2h0M57.6 568.2h0M41.9 577.7h0M51.4 577.6h0M73.9 567.3h0M48.0 585.6h0M57.4 564.4h0M55.8 574.7h0M46.7 549.7h0M66.7 577.6h0M69.6 569.0h0M47.2 583.6h0M66.1 550.7h0M57.3 552.8h0M70.8 559.7h0M55.3 545.3h0M66.4 556.4h0M51.3 587.1h0M66.7 559.8h0M38.9 558.0h0M59.0 584.7h0M63.3 574.1h0M39.2 560.2h0M43.1 571.2h0M50.4 560.6h0M65.4 572.2h0M60.3 567.9h0M62.6 556.9h0M64.5 561.0h0M64.6 566.7h0M68.2 559.0h0M48.6 584.6h0M48.2 573.4h0M56.3 577.4h0M33.7 564.0h0M36.6 561.3h0M65.5 575.7h0M33.9 569.7h0M37.0 563.0h0M69.1 570.2h0M42.2 579.7h0M44.4 561.0h0M47.9 566.4h0M61.2 557.4h0M49.8 564.9h0M37.0 553.1h0M68.1 566.6h0M44.4 559.0h0M48.8 554.7h0M62.1 553.3h0M52.6 562.9h0M61.2 563.7h0M68.3 553.7h0M37.5 572.6h0M42.9 553.9h0M51.7 585.4h0M69.3 565.9h0M54.1 578.2h0M65.1 564.2h0M48.5 550.9h0M65.6 577.5h0M41.2 566.2h0M69.3 556.0h0M66.8 578.9h0M41.8 564.7h0M33.7 573.6h0M48.2 581.7h0M71.6 560.6h0M51.9 578.8h0M42.6 563.9h0M66.0 551.4h0M46.6 570.7h0M55.1 549.6h0M34.8 564.5h0M38.9 554.5h0M41.4 576.0h0M37.9 560.9h0M49.7 584.5h0M36.5 557.2h0M55.4 544.2h0M37.1 577.6h0M48.1 564.5h0M47.8 572.1h0M35.0 569.7h0M53.7 572.8h0M60.9 573.2h0M53.4 570.7h0M43.2 573.4h0M65.6 558.9h0M46.1 546.0h0" stroke="#4b3db4" stroke-width="2.61" stroke-linecap="round" fill="none" opacity="0.96"/>
</g></g>
<radialGradient id="dg301"><stop offset="0.75" stop-color="#e4e5ea"/><stop offset="1" stop-color="#cdd0da"/></radialGradient>
<circle cx="98.90" cy="565.70" r="22.40" fill="url(#dg301)"/>
<clipPath id="dc301"><circle cx="98.90" cy="565.70" r="22.10"/></clipPath>
<g clip-path="url(#dc301)">
<circle cx="98.90" cy="565.70" r="22.40" fill="#8d86cc" opacity="0.2"/>
<g filter="url(#b3)">
<path d="M101.3 564.4h0M100.4 549.5h0M111.2 553.8h0M106.8 569.6h0M100.8 547.8h0M95.9 579.6h0M116.3 573.7h0M84.2 578.8h0M96.3 561.1h0M97.6 572.7h0M84.4 576.2h0M94.8 572.5h0M119.7 564.2h0M88.9 561.0h0M114.0 567.2h0M91.5 574.8h0M94.3 582.2h0M101.7 565.6h0M93.7 580.2h0M105.7 575.2h0M109.7 569.3h0M101.5 559.7h0M107.2 559.8h0M110.1 555.8h0M92.3 571.4h0M110.3 555.2h0M111.2 580.9h0M112.7 551.6h0M97.4 586.7h0M82.4 576.1h0M78.5 564.8h0M102.8 570.4h0M83.1 572.1h0M112.2 548.9h0M93.1 569.7h0M97.3 561.9h0M114.1 574.0h0M88.5 553.6h0M113.9 561.9h0M103.5 546.4h0M108.3 577.3h0M105.7 564.0h0M104.5 569.8h0M112.3 556.8h0M111.4 569.2h0M98.9 551.9h0M106.7 555.0h0M102.8 577.5h0M99.3 564.8h0M92.8 556.6h0M81.7 562.0h0M113.5 577.2h0M113.5 553.2h0M79.3 573.5h0M85.5 564.9h0M100.6 551.4h0M101.7 564.4h0M110.6 557.5h0M112.6 562.3h0M88.7 582.6h0M118.1 572.2h0M111.1 561.7h0M82.2 578.3h0M106.7 582.3h0M94.3 553.3h0M84.5 570.1h0M107.0 578.5h0M105.8 554.5h0M92.0 576.9h0M96.7 564.6h0M114.2 569.5h0M94.2 581.3h0M105.0 553.5h0M117.3 556.2h0M93.7 558.1h0M105.3 571.4h0M85.9 549.3h0M101.8 569.5h0M78.6 562.4h0M115.8 566.1h0M107.5 584.5h0M101.0 550.2h0M97.0 575.2h0M79.1 570.5h0M98.2 583.5h0M99.5 548.0h0M106.7 567.3h0M100.0 582.3h0M116.9 566.9h0M107.3 565.4h0M110.3 572.0h0M113.1 580.4h0M83.9 576.0h0M106.3 577.6h0M100.1 576.9h0M99.5 548.9h0" stroke="#4b3db4" stroke-width="0.93" stroke-linecap="round" fill="none" opacity="0.76"/>
<path d="M114.1 579.8h0M116.2 569.5h0M94.4 586.6h0M85.0 563.3h0M112.0 563.1h0M85.8 561.2h0M111.5 578.7h0M84.2 559.5h0M88.8 573.4h0M105.2 547.5h0M93.0 573.1h0M98.5 546.4h0M106.9 556.5h0M100.9 572.1h0M94.9 582.3h0M113.4 552.7h0M91.6 560.1h0M103.8 564.8h0M83.9 562.6h0M83.2 562.2h0M90.5 584.1h0M86.7 554.6h0M82.7 574.9h0M97.6 545.1h0M93.7 559.3h0M102.4 569.5h0M88.0 552.6h0M109.1 557.4h0M96.7 575.3h0M93.1 579.9h0M88.9 560.6h0M109.5 554.5h0M107.6 572.6h0M94.0 561.2h0M95.7 544.8h0M112.2 579.9h0M79.0 573.9h0M102.8 583.8h0M115.8 557.8h0M106.3 580.9h0M106.7 559.3h0M103.9 560.9h0M83.5 578.1h0M97.3 565.4h0M89.0 554.9h0M85.9 555.9h0M112.7 551.1h0M88.8 568.2h0M100.7 562.8h0M79.2 559.9h0M96.4 586.5h0M79.9 567.2h0M86.1 555.5h0M97.2 567.3h0M112.6 579.7h0M108.0 559.4h0M100.3 561.8h0M94.5 566.0h0M96.2 572.1h0M104.9 564.3h0M110.2 549.0h0M87.1 554.0h0M110.9 549.9h0M118.3 561.4h0M104.5 561.1h0M98.0 570.9h0M101.3 586.2h0M105.1 545.3h0M108.6 548.1h0M98.5 580.7h0M79.3 568.3h0M90.1 565.7h0M83.7 561.5h0M101.8 563.6h0M93.3 556.1h0M90.2 549.5h0M85.8 574.4h0M105.3 568.3h0M103.4 573.6h0M99.2 544.5h0M112.6 556.3h0M100.1 566.6h0M112.0 576.8h0M101.1 546.1h0M85.1 572.0h0M102.5 568.2h0M97.7 584.3h0M116.1 572.5h0M105.7 584.9h0M83.3 574.7h0M85.2 550.6h0M95.5 545.9h0M111.7 565.6h0M94.1 548.0h0M95.2 568.6h0M93.4 575.9h0M87.7 578.1h0M89.7 575.2h0M94.0 584.3h0M114.4 557.0h0M106.7 547.0h0M118.6 570.8h0M112.1 579.5h0M95.3 565.1h0M110.8 576.7h0M87.8 550.8h0M91.4 583.0h0M81.3 578.1h0" stroke="#4b3db4" stroke-width="1.18" stroke-linecap="round" fill="none" opacity="0.82"/>
<path d="M82.0 561.1h0M110.9 573.9h0M95.0 581.4h0M84.0 558.8h0M90.6 559.8h0M96.5 576.6h0M95.1 573.5h0M79.2 559.3h0M96.1 554.0h0M114.3 568.3h0M118.0 568.6h0M103.3 582.2h0M78.4 571.7h0M108.2 556.4h0M100.4 562.2h0M99.5 571.9h0M101.9 558.2h0M97.8 547.9h0M94.9 575.6h0M91.8 582.9h0M97.3 581.0h0M80.5 570.0h0M115.1 573.2h0M80.7 561.9h0M99.5 580.1h0M99.7 576.8h0M104.9 578.5h0M91.0 559.2h0M95.2 560.2h0M111.5 565.6h0M112.7 577.4h0M108.8 555.2h0M89.5 577.3h0M113.6 581.4h0M115.2 562.6h0M105.2 567.1h0M92.2 577.0h0M115.1 567.6h0M116.0 570.3h0M96.4 552.7h0M88.0 580.8h0M104.3 570.8h0M87.6 561.4h0M91.7 552.6h0M113.6 565.4h0M116.0 577.3h0M90.6 566.0h0M104.3 573.7h0M94.3 559.3h0M93.3 556.0h0M100.9 578.5h0M110.0 570.8h0M103.7 571.9h0M80.4 569.1h0M93.4 554.9h0M87.1 574.3h0M89.7 584.7h0M82.8 562.0h0M95.9 552.3h0M102.3 578.2h0M86.9 577.0h0M107.4 552.0h0M85.7 548.8h0M78.1 569.7h0M99.1 552.4h0M117.1 564.7h0M119.2 565.3h0M78.7 567.8h0M114.4 553.6h0M101.7 582.4h0M94.6 564.2h0M78.8 563.0h0M111.9 574.6h0M105.8 577.0h0M87.3 569.4h0M80.8 573.7h0M114.7 556.2h0M89.3 564.9h0M115.0 557.5h0M97.3 581.6h0M82.0 552.3h0M112.3 553.2h0M85.6 579.4h0M119.4 565.8h0M88.2 550.9h0" stroke="#4b3db4" stroke-width="1.43" stroke-linecap="round" fill="none" opacity="0.9"/>
<path d="M83.3 577.2h0M108.8 563.4h0M102.8 561.4h0M116.9 569.6h0M105.7 560.4h0M118.0 569.4h0M106.4 578.7h0M86.1 567.3h0M99.7 559.0h0M80.7 576.6h0M87.7 556.1h0M118.7 573.2h0M102.8 568.6h0M105.4 559.8h0M89.5 584.4h0M107.4 551.9h0M113.9 580.4h0M97.3 574.2h0M96.2 576.3h0M91.6 568.1h0M104.1 547.7h0M106.0 581.2h0M84.1 562.8h0M93.3 562.4h0M116.7 562.5h0M101.2 565.7h0M100.9 568.8h0M106.7 550.1h0M109.0 583.3h0M111.7 548.2h0M101.5 583.2h0M116.4 568.5h0M112.6 569.2h0M92.6 557.4h0M104.6 558.6h0M87.0 552.3h0M119.7 562.7h0M82.0 570.8h0M103.5 563.1h0M116.6 561.0h0M108.3 548.7h0M79.7 575.2h0M82.1 555.9h0M104.1 568.8h0M91.8 551.9h0M90.6 550.7h0M80.8 571.1h0M84.5 575.7h0M79.5 565.2h0M83.5 578.0h0M87.3 565.5h0M111.3 578.3h0M102.7 546.7h0M104.5 573.7h0M82.5 576.1h0M88.7 553.1h0M117.9 562.6h0M119.5 562.0h0M99.6 579.3h0M93.1 564.6h0M92.9 546.9h0M113.5 564.9h0M102.4 560.0h0M103.4 546.1h0M81.6 565.8h0M99.5 579.2h0M111.9 558.3h0M117.3 564.1h0M82.0 568.0h0M93.3 556.1h0M107.1 572.9h0M105.2 569.5h0M86.2 551.4h0M109.4 584.0h0M85.8 558.6h0M102.4 547.7h0M97.7 550.2h0M94.8 555.4h0M114.4 553.8h0M96.9 585.9h0M97.5 558.9h0M106.2 549.1h0M91.8 567.2h0M108.2 564.9h0M88.1 565.7h0M111.1 555.2h0M113.8 575.6h0M89.9 582.9h0M89.8 558.7h0M112.4 578.9h0M98.0 576.6h0M94.8 559.4h0M94.8 555.7h0M83.8 562.6h0M108.3 583.2h0M97.6 556.9h0M93.5 559.7h0M103.0 580.2h0M102.3 550.0h0M102.9 547.7h0M91.5 561.4h0M99.2 556.9h0M96.1 557.5h0M87.8 556.9h0M113.9 551.5h0M119.6 565.5h0M106.3 579.5h0M80.8 557.0h0M116.2 566.8h0M107.6 577.2h0M94.2 583.5h0" stroke="#4b3db4" stroke-width="1.68" stroke-linecap="round" fill="none" opacity="0.96"/>
</g></g>
<radialGradient id="dg302"><stop offset="0.75" stop-color="#e4e5ea"/><stop offset="1" stop-color="#cdd0da"/></radialGradient>
<circle cx="145.40" cy="565.70" r="22.40" fill="url(#dg302)"/>
<clipPath id="dc302"><circle cx="145.40" cy="565.70" r="22.10"/></clipPath>
<g clip-path="url(#dc302)">
<circle cx="145.40" cy="565.70" r="22.40" fill="#a09ad4" opacity="0.12"/>
<g filter="url(#b3)">
<path d="M136.1 567.2h0M134.0 583.8h0M132.1 558.0h0M152.5 573.9h0M153.8 554.8h0M141.6 557.8h0M144.7 571.1h0M159.3 579.2h0M124.9 559.4h0M157.9 571.1h0M138.6 586.2h0M140.7 561.0h0M128.1 564.2h0M153.5 581.3h0M148.5 550.4h0M142.9 577.3h0M135.8 565.8h0M139.2 570.4h0M130.4 573.4h0M133.4 570.0h0M148.1 555.8h0M125.9 563.0h0M158.7 561.6h0M139.0 569.0h0M154.2 554.9h0M148.8 548.6h0M161.5 576.8h0M162.4 569.9h0M150.8 550.3h0M132.4 552.2h0M134.2 571.3h0M166.5 562.1h0M150.6 584.4h0M159.0 557.7h0M164.5 572.4h0M154.2 567.8h0M134.8 553.9h0M127.8 565.0h0M130.5 565.8h0M143.7 576.6h0M139.8 574.0h0M149.2 580.1h0M139.8 555.3h0M135.8 557.7h0M145.6 582.5h0M137.6 548.9h0M146.3 571.9h0M161.4 557.8h0M144.6 563.9h0M152.2 554.7h0M130.8 567.2h0M139.2 555.4h0M127.4 567.5h0M154.6 550.8h0M139.5 583.1h0M131.8 570.4h0M162.4 556.2h0M149.9 565.5h0M149.6 550.1h0M136.8 566.5h0" stroke="#4b3db4" stroke-width="0.91" stroke-linecap="round" fill="none" opacity="0.76"/>
<path d="M136.8 552.1h0M132.7 577.9h0M161.5 575.7h0M127.2 560.2h0M127.1 563.4h0M141.7 580.5h0M147.1 554.7h0M133.5 574.8h0M143.6 577.7h0M148.0 552.9h0M160.1 550.3h0M163.9 558.1h0M136.4 562.1h0M134.4 567.1h0M137.1 579.4h0M150.7 570.5h0M149.8 556.5h0M162.1 572.6h0M155.5 567.8h0M137.9 545.8h0M133.3 549.4h0M140.2 583.8h0M151.0 560.3h0M134.2 554.3h0M148.4 573.1h0M133.3 549.1h0M143.7 567.8h0M126.4 564.9h0M146.6 566.6h0M126.9 569.7h0M143.7 561.5h0M144.0 569.1h0M131.4 561.3h0M124.6 568.4h0M143.7 568.0h0M161.3 573.6h0M159.9 569.0h0M157.4 576.5h0M166.7 562.5h0M138.7 574.8h0M145.9 567.4h0M142.9 549.2h0M133.6 583.2h0M153.4 556.5h0M153.2 569.0h0M152.3 564.7h0M136.0 584.3h0M130.6 578.2h0M158.9 555.6h0M131.2 570.4h0M146.6 565.9h0M157.7 569.1h0M163.8 575.4h0M142.5 567.6h0M137.3 561.4h0" stroke="#4b3db4" stroke-width="1.14" stroke-linecap="round" fill="none" opacity="0.82"/>
<path d="M138.4 551.1h0M129.0 575.4h0M141.7 577.5h0M146.2 585.9h0M132.5 553.8h0M154.8 572.4h0M138.8 581.5h0M153.7 561.7h0M146.7 586.1h0M153.3 574.8h0M159.6 553.2h0M165.1 557.6h0M148.3 560.8h0M154.0 571.8h0M143.5 561.7h0M150.3 547.1h0M138.8 556.0h0M153.5 552.9h0M149.4 577.1h0M132.2 556.5h0M156.3 559.9h0M144.6 583.8h0M143.1 556.5h0M139.7 561.9h0M160.9 579.5h0M140.8 574.9h0M158.6 575.5h0M155.7 561.1h0M157.0 556.6h0M166.6 562.1h0M152.0 545.9h0M129.0 555.2h0M159.7 570.6h0M158.6 560.1h0M158.8 554.4h0M162.4 577.6h0M138.7 566.9h0M133.3 561.8h0M143.3 554.9h0M165.6 563.1h0M130.2 572.4h0M136.4 555.6h0M153.9 584.0h0M161.8 576.7h0M156.7 559.7h0M161.3 575.8h0M131.2 549.9h0M127.9 566.9h0M146.9 558.4h0M142.0 579.8h0M138.8 556.7h0M146.3 564.2h0M135.4 564.1h0M157.0 548.5h0M126.7 566.4h0M152.2 558.9h0" stroke="#4b3db4" stroke-width="1.36" stroke-linecap="round" fill="none" opacity="0.9"/>
<path d="M161.0 562.2h0M138.4 572.4h0M158.2 561.8h0M140.9 583.4h0M155.1 552.9h0M150.6 564.8h0M166.1 571.1h0M126.3 571.1h0M127.4 568.8h0M138.7 549.4h0M146.9 579.9h0M158.6 553.4h0M160.4 552.5h0M142.8 548.3h0M137.1 554.7h0M145.4 567.6h0M160.4 575.0h0M155.5 552.1h0M140.5 547.0h0M135.1 555.5h0M130.8 554.0h0M136.0 576.7h0M131.1 557.7h0M150.2 558.9h0M136.7 574.8h0M142.8 566.5h0M143.2 582.5h0M134.2 568.2h0M160.1 576.8h0M156.0 563.9h0M166.2 561.6h0M144.4 566.5h0M128.5 573.8h0M160.7 558.5h0M160.7 570.9h0M159.6 559.2h0M164.3 556.4h0M144.7 544.0h0M156.9 577.9h0M157.4 579.3h0M130.2 571.8h0M156.8 568.0h0M157.6 572.3h0M146.3 553.0h0M140.8 565.6h0M152.0 571.2h0M131.8 552.4h0M125.5 564.5h0M135.3 582.1h0M160.9 568.9h0M141.7 562.3h0M153.0 580.1h0M124.1 562.8h0M154.3 569.2h0M124.7 561.8h0M132.2 561.1h0M134.3 554.9h0M145.1 576.0h0M145.4 560.0h0M164.7 568.3h0M164.5 566.7h0M132.8 568.3h0M135.5 551.9h0M154.7 581.2h0M137.4 548.2h0M156.0 555.1h0M136.4 574.0h0M129.6 564.3h0M160.6 561.5h0" stroke="#4b3db4" stroke-width="1.59" stroke-linecap="round" fill="none" opacity="0.96"/>
</g></g>
<radialGradient id="dg303"><stop offset="0.75" stop-color="#e4e5ea"/><stop offset="1" stop-color="#cdd0da"/></radialGradient>
<circle cx="192.90" cy="565.70" r="22.40" fill="url(#dg303)"/>
<clipPath id="dc303"><circle cx="192.90" cy="565.70" r="22.10"/></clipPath>
<g clip-path="url(#dc303)">
<circle cx="192.90" cy="565.70" r="22.40" fill="#a7a2d6" opacity="0.22"/>
<g filter="url(#b3)">
<path d="M176.6 576.1h0M192.2 581.7h0M200.5 574.6h0M182.2 564.0h0M197.2 547.7h0M212.3 556.9h0M200.1 573.9h0M181.7 554.9h0M191.9 584.0h0M177.4 557.5h0M192.3 581.5h0M202.7 580.2h0M201.0 550.1h0M196.7 545.3h0M214.1 567.2h0M185.6 566.0h0M181.8 583.6h0M178.4 570.1h0M190.6 563.4h0M174.9 553.9h0M207.6 569.1h0M200.7 574.9h0M191.8 556.5h0M198.7 550.5h0M201.5 554.2h0M186.0 578.4h0M175.4 556.3h0M191.9 553.0h0M182.4 549.8h0M186.5 567.1h0M196.9 557.8h0M195.6 553.5h0M208.9 579.6h0M182.7 584.6h0M181.4 552.4h0M201.0 577.9h0M187.7 566.6h0M197.2 560.0h0M195.5 564.3h0M188.7 571.6h0M204.0 565.1h0M176.4 569.5h0M210.5 576.0h0M204.6 551.5h0M192.6 586.2h0M202.0 576.0h0M203.3 551.8h0M178.8 553.3h0M181.7 565.5h0M207.7 569.8h0M205.5 554.5h0" stroke="#4b3db4" stroke-width="0.8" stroke-linecap="round" fill="none" opacity="0.76"/>
<path d="M213.9 569.9h0M173.2 556.9h0M191.7 561.6h0M199.7 549.0h0M203.4 584.4h0M207.1 551.7h0M213.4 570.8h0M202.4 564.7h0M190.9 561.8h0M205.5 571.7h0M203.2 555.8h0M178.0 569.7h0M186.7 564.2h0M202.5 551.1h0M176.0 575.1h0M195.7 562.3h0M209.4 554.1h0M199.3 554.8h0M194.3 547.2h0M192.9 550.9h0M207.3 555.4h0M210.3 569.0h0M189.6 572.2h0M182.8 546.6h0M209.5 563.8h0M194.3 548.4h0M187.8 572.6h0M204.2 554.6h0M172.7 568.7h0M204.9 553.2h0M187.0 565.3h0M190.5 573.8h0M192.3 572.1h0M179.7 571.9h0M180.6 576.3h0M192.1 548.5h0M207.1 550.7h0M175.9 559.6h0M188.1 546.2h0M171.8 568.7h0M192.0 559.3h0M188.6 577.8h0M202.8 561.5h0M209.1 560.2h0M184.1 577.9h0M190.1 545.7h0M201.9 567.9h0M196.2 556.6h0M189.1 557.8h0M187.2 579.3h0M201.6 564.8h0M171.7 563.5h0M197.2 575.0h0M197.1 556.6h0M180.2 573.2h0M180.5 578.6h0M188.6 553.0h0M210.7 561.7h0M207.4 578.3h0M193.9 548.2h0M200.0 551.5h0M191.0 569.1h0M181.0 550.3h0M206.7 558.9h0M186.6 579.6h0" stroke="#4b3db4" stroke-width="1.0" stroke-linecap="round" fill="none" opacity="0.82"/>
<path d="M206.6 574.6h0M200.7 549.7h0M188.4 573.0h0M198.0 548.2h0M208.0 552.1h0M192.6 564.7h0M179.0 573.3h0M205.3 582.5h0M207.7 564.9h0M211.7 571.0h0M196.8 587.0h0M176.8 564.8h0M190.6 554.5h0M193.9 548.5h0M194.6 571.6h0M190.7 582.7h0M180.6 570.3h0M197.5 577.2h0M209.2 559.5h0M211.5 557.9h0M205.3 568.6h0M194.9 578.4h0M179.8 559.0h0M187.5 557.1h0M196.0 561.9h0M206.8 553.0h0M192.9 578.3h0M188.6 578.3h0M188.8 584.7h0M175.7 556.7h0M205.8 565.8h0M196.9 555.2h0M176.1 552.6h0M192.2 571.9h0M203.5 566.4h0M187.4 559.2h0M173.5 569.9h0M178.0 571.4h0M191.2 561.7h0M201.3 582.2h0M192.1 562.2h0M181.1 572.0h0M185.4 583.8h0M198.0 585.2h0M198.7 549.5h0M186.2 567.4h0M185.6 573.3h0M185.2 551.5h0M187.4 569.7h0M200.0 581.1h0M205.6 566.4h0M198.4 571.4h0M205.3 549.9h0M198.8 545.7h0M191.5 556.5h0M191.4 571.5h0M206.0 562.2h0" stroke="#4b3db4" stroke-width="1.2" stroke-linecap="round" fill="none" opacity="0.9"/>
<path d="M186.6 561.5h0M180.1 549.5h0M183.7 566.6h0M175.2 563.9h0M195.8 562.6h0M205.5 555.8h0M186.7 570.1h0M190.3 547.5h0M214.3 568.4h0M203.9 559.9h0M174.2 571.8h0M188.4 576.8h0M177.2 570.4h0M192.0 573.4h0M196.4 578.2h0M210.4 560.4h0M185.5 570.7h0M177.8 575.4h0M196.7 580.7h0M203.5 560.5h0M186.6 572.1h0M179.2 572.9h0M188.5 550.0h0M193.5 585.8h0M173.7 567.7h0M183.1 580.4h0M182.3 552.4h0M201.5 581.7h0M195.6 575.5h0M203.9 549.5h0M172.3 561.3h0M194.7 554.4h0M207.5 561.2h0M193.4 551.4h0M176.0 564.7h0M178.3 575.0h0M194.9 570.4h0" stroke="#4b3db4" stroke-width="1.4" stroke-linecap="round" fill="none" opacity="0.96"/>
</g></g>
<radialGradient id="dg304"><stop offset="0.75" stop-color="#e4e5ea"/><stop offset="1" stop-color="#cdd0da"/></radialGradient>
<circle cx="239.80" cy="565.70" r="22.40" fill="url(#dg304)"/>
<clipPath id="dc304"><circle cx="239.80" cy="565.70" r="22.10"/></clipPath>
<g clip-path="url(#dc304)">
<circle cx="239.80" cy="565.70" r="22.40" fill="#a09ad4" opacity="0.18"/>
<g filter="url(#b3)">
<path d="M240.4 584.4h0M250.4 569.3h0M256.8 573.4h0M251.6 565.9h0M238.6 572.9h0M241.4 575.7h0M245.2 567.2h0M250.0 551.4h0M244.0 554.4h0M242.9 557.7h0M224.7 579.9h0M237.2 579.4h0M252.0 574.6h0M242.4 553.2h0M250.9 563.8h0M219.2 562.4h0M229.1 582.4h0M245.3 549.2h0M222.5 578.7h0M257.7 555.0h0M251.4 554.1h0M250.9 547.4h0M242.2 560.4h0M248.5 575.6h0M248.3 580.2h0M244.1 569.4h0M254.2 560.7h0M253.2 566.7h0M226.9 572.0h0M232.2 585.3h0M220.9 570.4h0M238.6 573.9h0M241.2 559.1h0M226.7 565.8h0M243.7 570.4h0M226.8 581.2h0M261.4 564.5h0M239.9 587.3h0M239.7 575.7h0M225.1 555.1h0M223.2 576.8h0M258.4 573.7h0M260.1 571.4h0M228.6 561.2h0M226.8 562.8h0M245.4 583.9h0M241.9 559.6h0M229.1 570.2h0M245.5 552.8h0M247.7 577.3h0M244.3 566.3h0M231.2 554.3h0M255.7 571.7h0M235.2 544.5h0M260.6 562.2h0M229.5 552.2h0M223.6 564.0h0M235.7 562.2h0M243.0 550.9h0M254.9 564.8h0M238.0 578.1h0M235.6 558.5h0M237.5 570.9h0M235.7 566.8h0M229.6 556.9h0M248.9 555.9h0M231.4 550.4h0M225.9 560.7h0M225.5 558.9h0M230.4 560.3h0M225.1 561.4h0M235.7 580.8h0" stroke="#4b3db4" stroke-width="0.81" stroke-linecap="round" fill="none" opacity="0.76"/>
<path d="M227.0 569.2h0M241.9 559.3h0M229.3 573.7h0M254.6 552.9h0M250.9 583.1h0M230.1 559.0h0M252.1 559.5h0M247.7 573.9h0M253.9 555.2h0M228.0 580.7h0M238.5 582.4h0M247.7 545.9h0M246.0 573.5h0M252.9 579.7h0M245.3 559.6h0M245.3 581.0h0M248.7 570.7h0M235.2 560.9h0M246.2 553.6h0M240.8 571.8h0M228.5 578.4h0M234.4 564.3h0M246.9 575.3h0M239.2 557.4h0M244.3 565.8h0M251.5 561.4h0M253.0 575.5h0M247.5 550.6h0M242.7 558.5h0M244.4 571.1h0M255.8 576.2h0M249.4 555.6h0M255.8 562.9h0M243.7 548.9h0M237.9 584.8h0M255.5 563.4h0M220.3 574.1h0M232.8 552.8h0M255.2 556.4h0M257.0 576.8h0M226.8 553.2h0M242.4 563.8h0M250.8 558.1h0M248.5 582.3h0M236.5 548.9h0M247.4 567.9h0M237.3 583.9h0M232.6 562.9h0M246.4 584.0h0M230.9 561.2h0M256.1 571.4h0M260.2 561.8h0M226.0 568.6h0M237.5 551.9h0M237.9 570.1h0M240.0 583.3h0M228.0 573.7h0M228.3 548.8h0M225.3 549.7h0M253.0 577.6h0M230.8 555.7h0M254.0 575.9h0M227.2 567.5h0M258.2 563.1h0M257.0 555.8h0M226.4 570.5h0M243.7 565.8h0M253.5 557.2h0M223.4 568.7h0M238.0 577.1h0M225.7 550.1h0M230.4 551.2h0M234.9 554.5h0" stroke="#4b3db4" stroke-width="1.04" stroke-linecap="round" fill="none" opacity="0.82"/>
<path d="M258.0 572.3h0M236.0 573.6h0M222.8 576.5h0M253.9 580.6h0M228.5 576.7h0M252.6 580.3h0M227.0 557.9h0M251.9 567.5h0M251.1 548.0h0M255.8 578.2h0M253.6 580.6h0M225.4 572.9h0M242.4 580.4h0M253.1 565.3h0M226.2 568.9h0M255.8 568.4h0M240.2 575.9h0M238.7 560.3h0M260.6 571.1h0M228.0 553.5h0M221.6 562.8h0M235.0 579.9h0M221.5 554.6h0M256.8 566.1h0M224.2 554.8h0M256.8 568.9h0M229.0 557.3h0M238.6 559.2h0M224.3 560.7h0M224.0 576.0h0M251.8 581.4h0M239.3 546.4h0M255.9 580.2h0M238.8 546.6h0M236.4 577.5h0M237.6 549.2h0M253.5 568.6h0M221.9 577.8h0M237.8 584.4h0M247.8 560.2h0M238.7 583.7h0M252.1 551.7h0M249.1 572.0h0M253.5 563.0h0M239.2 567.2h0M222.6 571.3h0M232.8 555.6h0M226.7 552.2h0M248.0 577.5h0M250.3 581.6h0M237.7 579.1h0M241.0 547.3h0M254.1 568.0h0M240.4 559.4h0M259.0 561.1h0M256.2 578.5h0M220.0 564.4h0M249.8 560.2h0M232.1 576.1h0M239.7 575.5h0M239.6 584.7h0M243.3 562.0h0M228.0 572.0h0M233.8 559.1h0M236.3 559.5h0M239.5 576.8h0M236.6 545.5h0M238.8 564.3h0M247.6 565.1h0M231.2 560.1h0M222.6 567.2h0M224.9 555.8h0M231.8 583.7h0M245.4 552.1h0M221.7 558.6h0" stroke="#4b3db4" stroke-width="1.26" stroke-linecap="round" fill="none" opacity="0.9"/>
<path d="M249.3 576.3h0M237.3 573.4h0M232.9 583.4h0M222.0 563.5h0M236.9 576.4h0M252.5 567.8h0M240.8 566.0h0M248.7 580.7h0M230.1 578.4h0M256.1 558.8h0M250.4 564.3h0M227.3 573.4h0M231.9 549.4h0M229.3 556.7h0M242.4 583.5h0M249.2 578.7h0M219.4 564.9h0M249.9 558.4h0M243.9 571.6h0M250.7 580.7h0M237.2 562.8h0M218.9 563.0h0M251.4 572.4h0M229.3 569.5h0M219.0 562.0h0M250.5 567.4h0M248.6 550.5h0M220.8 556.5h0M254.3 564.4h0M251.2 557.6h0M242.5 547.4h0M240.3 555.5h0M232.5 573.8h0M256.9 569.0h0M221.4 559.0h0M258.1 557.6h0M235.8 582.2h0M241.0 560.7h0M246.0 566.4h0M250.9 552.5h0M224.0 569.0h0M238.7 577.2h0M242.9 558.1h0M252.2 573.4h0M222.4 562.5h0M230.0 551.4h0M233.9 550.3h0M240.0 582.8h0M229.3 568.0h0M242.3 569.0h0M242.4 574.8h0M260.3 565.9h0M233.1 577.4h0M249.2 565.0h0M227.7 559.9h0M218.7 563.6h0M260.0 558.6h0M239.6 583.1h0M229.3 549.9h0M238.2 559.2h0M220.1 566.8h0M225.2 577.4h0M244.9 556.3h0M258.7 575.5h0M245.2 547.7h0M249.1 572.2h0M224.1 555.2h0M237.4 553.2h0M226.2 562.3h0M237.1 582.6h0M245.0 560.7h0M250.4 550.7h0M232.4 545.5h0M259.7 562.1h0M255.8 571.6h0M237.8 578.7h0M231.9 578.0h0M221.6 565.7h0M256.9 577.4h0M249.0 584.8h0" stroke="#4b3db4" stroke-width="1.49" stroke-linecap="round" fill="none" opacity="0.96"/>
</g></g>
<radialGradient id="dg305"><stop offset="0.75" stop-color="#e4e5ea"/><stop offset="1" stop-color="#cdd0da"/></radialGradient>
<circle cx="286.70" cy="565.70" r="22.40" fill="url(#dg305)"/>
<clipPath id="dc305"><circle cx="286.70" cy="565.70" r="22.10"/></clipPath>
<g clip-path="url(#dc305)">
<circle cx="286.70" cy="565.70" r="22.40" fill="#b0acdc" opacity="0.28"/>
<g filter="url(#b3)">
<path d="M285.4 555.2h0M291.4 572.0h0M278.4 567.9h0M270.9 566.2h0M286.5 581.2h0M298.0 577.2h0M279.3 585.3h0M275.2 565.7h0M269.5 555.7h0M295.8 553.9h0M301.2 572.3h0M279.4 560.7h0M295.2 566.9h0M287.7 547.7h0M278.6 548.4h0M287.1 569.0h0M271.2 552.1h0M281.1 547.1h0M276.8 575.3h0M291.6 561.7h0M289.9 587.0h0M271.5 556.9h0M305.4 559.5h0M276.5 550.0h0M292.6 577.4h0M285.2 550.4h0" stroke="#4b3db4" stroke-width="0.67" stroke-linecap="round" fill="none" opacity="0.76"/>
<path d="M268.5 563.4h0M293.2 580.7h0M273.9 582.6h0M288.2 584.6h0M295.1 557.9h0M297.3 550.9h0M274.1 583.0h0M305.4 562.9h0M276.2 577.9h0M301.7 561.2h0M291.8 582.2h0M292.0 578.8h0M274.6 574.0h0M272.8 574.4h0M282.0 569.4h0M295.6 555.8h0M286.5 566.8h0M296.4 560.3h0M302.0 558.6h0M266.9 571.8h0M273.5 582.2h0M290.4 555.8h0M287.4 553.7h0M276.3 571.7h0M273.7 573.0h0M283.1 586.0h0M298.9 572.2h0M283.5 576.9h0M294.6 548.9h0M301.0 565.3h0M302.7 554.9h0M286.7 562.1h0M302.1 578.0h0M272.8 560.6h0M292.7 583.7h0" stroke="#4b3db4" stroke-width="0.82" stroke-linecap="round" fill="none" opacity="0.82"/>
<path d="M293.4 580.6h0M301.8 563.2h0M279.7 558.7h0M278.7 563.6h0M284.4 557.3h0M282.3 579.5h0M294.6 567.5h0M278.2 550.0h0M287.5 557.2h0M270.6 577.2h0M297.1 547.2h0M276.3 575.3h0M291.6 558.0h0M276.8 561.3h0M297.9 570.6h0M278.5 545.8h0M300.2 555.4h0M282.0 584.9h0M291.1 572.9h0M283.5 557.6h0M272.1 554.2h0M273.8 568.8h0M291.9 557.9h0M280.4 567.9h0M278.3 550.0h0M299.1 548.9h0M289.8 548.8h0M305.0 566.4h0M278.4 576.4h0M287.5 548.6h0M295.1 558.3h0M284.6 578.1h0M293.0 581.7h0M266.5 560.4h0M300.1 559.9h0M299.3 566.3h0M292.6 566.3h0M270.0 570.0h0M298.1 579.4h0M273.2 549.2h0" stroke="#4b3db4" stroke-width="0.97" stroke-linecap="round" fill="none" opacity="0.9"/>
<path d="M280.7 546.9h0M298.7 576.8h0M302.6 557.1h0M301.9 555.6h0M288.3 551.2h0M288.6 555.6h0M287.2 561.9h0M289.0 575.2h0M297.5 559.8h0M299.5 559.7h0M289.9 575.4h0M280.5 560.6h0M285.6 567.8h0M306.7 564.9h0M297.1 553.9h0M282.4 547.1h0M293.6 554.4h0M281.5 563.7h0M295.0 552.6h0M286.8 551.5h0M296.8 548.5h0M303.4 577.7h0M301.8 562.8h0M293.8 556.8h0M293.1 568.1h0M287.9 576.0h0M300.3 549.7h0M274.2 568.5h0M293.5 563.5h0" stroke="#4b3db4" stroke-width="1.12" stroke-linecap="round" fill="none" opacity="0.96"/>
</g></g>
</g>
<g id="panelL">
<text x="322.60" y="227.30" font-weight="bold" fill="#000" stroke="#000" font-size="7.0">L</text>
<rect x="335.30" y="238.00" width="14.90" height="7.30" fill="#cd5f3b"/>
<text x="352.00" y="243.90" fill="#cf4f2e" stroke="#cf4f2e" font-size="6.25">oe-SKA3+DMSO</text>
<rect x="402.80" y="238.00" width="14.90" height="7.30" fill="#5584c2"/>
<text x="419.50" y="243.90" fill="#3b74bd" stroke="#3b74bd" font-size="6.25">Ctrl+DMSO</text>
<rect x="456.80" y="238.00" width="14.90" height="7.30" fill="#b9c9e6"/>
<text x="473.50" y="243.90" fill="#a9c1e8" stroke="#a9c1e8" font-size="6.25">oe-SKA3+HIF-1α inhibitor</text>
<rect x="335.30" y="252.30" width="14.90" height="7.30" fill="#c9c9c9"/>
<text x="352.00" y="258.20" fill="#bdbdbd" stroke="#bdbdbd" font-size="6.25">sh-SKA3+DMSO</text>
<rect x="402.80" y="252.30" width="14.90" height="7.30" fill="#929292"/>
<text x="419.50" y="258.20" fill="#787878" stroke="#787878" font-size="6.25">Ctrl+HIF-1α inhibitor</text>
<rect x="480.40" y="252.30" width="14.90" height="7.30" fill="#565050"/>
<text x="497.10" y="258.20" fill="#262626" stroke="#262626" font-size="6.25">sh-SKA3+HIF-1α inhibitor</text>
<rect x="345.80" y="403.80" width="6.10" height="24.70" fill="#cd5f3b" stroke="#b04e2e" stroke-width="0.4"/>
<line x1="348.85" y1="403.60" x2="348.85" y2="398.80" stroke="#c8502c" stroke-width="0.5"/>
<line x1="347.55" y1="398.80" x2="350.15" y2="398.80" stroke="#c8502c" stroke-width="0.5"/>
<circle cx="348.85" cy="398.32" r="1.25" fill="none" stroke="#c8502c" stroke-width="0.55"/>
<circle cx="349.05" cy="409.36" r="1.25" fill="none" stroke="#c8502c" stroke-width="0.55"/>
<line x1="348.85" y1="428.50" x2="348.85" y2="432.10" stroke="#2a2a2a" stroke-width="0.7"/>
<rect x="355.60" y="384.30" width="6.10" height="44.20" fill="#5584c2" stroke="#3f6aa8" stroke-width="0.4"/>
<line x1="358.65" y1="384.10" x2="358.65" y2="380.50" stroke="#3f74ba" stroke-width="0.5"/>
<line x1="357.35" y1="380.50" x2="359.95" y2="380.50" stroke="#3f74ba" stroke-width="0.5"/>
<circle cx="358.65" cy="380.14" r="1.25" fill="none" stroke="#3f74ba" stroke-width="0.55"/>
<circle cx="358.85" cy="388.42" r="1.25" fill="none" stroke="#3f74ba" stroke-width="0.55"/>
<line x1="358.65" y1="428.50" x2="358.65" y2="432.10" stroke="#2a2a2a" stroke-width="0.7"/>
<rect x="365.40" y="375.90" width="6.10" height="52.60" fill="#b9c9e6" stroke="#a3b6da" stroke-width="0.4"/>
<line x1="368.45" y1="375.70" x2="368.45" y2="371.80" stroke="#a9bde0" stroke-width="0.5"/>
<line x1="367.15" y1="371.80" x2="369.75" y2="371.80" stroke="#a9bde0" stroke-width="0.5"/>
<circle cx="368.45" cy="371.41" r="1.25" fill="none" stroke="#a9bde0" stroke-width="0.55"/>
<circle cx="368.65" cy="380.38" r="1.25" fill="none" stroke="#a9bde0" stroke-width="0.55"/>
<line x1="368.45" y1="428.50" x2="368.45" y2="432.10" stroke="#2a2a2a" stroke-width="0.7"/>
<rect x="375.20" y="352.20" width="6.10" height="76.30" fill="#c9c9c9" stroke="#b5b5b5" stroke-width="0.4"/>
<line x1="378.25" y1="352.00" x2="378.25" y2="347.80" stroke="#bdbdbd" stroke-width="0.5"/>
<line x1="376.95" y1="347.80" x2="379.55" y2="347.80" stroke="#bdbdbd" stroke-width="0.5"/>
<circle cx="378.25" cy="347.38" r="1.25" fill="none" stroke="#bdbdbd" stroke-width="0.55"/>
<circle cx="378.45" cy="357.04" r="1.25" fill="none" stroke="#bdbdbd" stroke-width="0.55"/>
<line x1="378.25" y1="428.50" x2="378.25" y2="432.10" stroke="#2a2a2a" stroke-width="0.7"/>
<rect x="385.00" y="350.70" width="6.10" height="77.80" fill="#929292" stroke="#7c7c7c" stroke-width="0.4"/>
<line x1="388.05" y1="350.50" x2="388.05" y2="347.80" stroke="#7e7e7e" stroke-width="0.5"/>
<line x1="386.75" y1="347.80" x2="389.35" y2="347.80" stroke="#7e7e7e" stroke-width="0.5"/>
<circle cx="388.05" cy="347.53" r="1.25" fill="none" stroke="#7e7e7e" stroke-width="0.55"/>
<circle cx="388.25" cy="353.74" r="1.25" fill="none" stroke="#7e7e7e" stroke-width="0.55"/>
<line x1="388.05" y1="428.50" x2="388.05" y2="432.10" stroke="#2a2a2a" stroke-width="0.7"/>
<rect x="394.80" y="309.30" width="6.10" height="119.20" fill="#565050" stroke="#3e3838" stroke-width="0.4"/>
<line x1="397.85" y1="309.10" x2="397.85" y2="305.50" stroke="#3a3535" stroke-width="0.5"/>
<line x1="396.55" y1="305.50" x2="399.15" y2="305.50" stroke="#3a3535" stroke-width="0.5"/>
<circle cx="397.85" cy="305.14" r="1.25" fill="none" stroke="#3a3535" stroke-width="0.55"/>
<circle cx="398.05" cy="313.42" r="1.25" fill="none" stroke="#3a3535" stroke-width="0.55"/>
<line x1="397.85" y1="428.50" x2="397.85" y2="432.10" stroke="#2a2a2a" stroke-width="0.7"/>
<line x1="343.80" y1="278.15" x2="343.80" y2="428.85" stroke="#2a2a2a" stroke-width="0.8"/>
<line x1="341.20" y1="278.50" x2="343.80" y2="278.50" stroke="#2a2a2a" stroke-width="0.8"/>
<text x="340.40" y="280.70" text-anchor="end" stroke="#1c1c1c">50</text>
<line x1="341.20" y1="308.50" x2="343.80" y2="308.50" stroke="#2a2a2a" stroke-width="0.8"/>
<text x="340.40" y="310.70" text-anchor="end" stroke="#1c1c1c">40</text>
<line x1="341.20" y1="338.50" x2="343.80" y2="338.50" stroke="#2a2a2a" stroke-width="0.8"/>
<text x="340.40" y="340.70" text-anchor="end" stroke="#1c1c1c">30</text>
<line x1="341.20" y1="368.50" x2="343.80" y2="368.50" stroke="#2a2a2a" stroke-width="0.8"/>
<text x="340.40" y="370.70" text-anchor="end" stroke="#1c1c1c">20</text>
<line x1="341.20" y1="398.50" x2="343.80" y2="398.50" stroke="#2a2a2a" stroke-width="0.8"/>
<text x="340.40" y="400.70" text-anchor="end" stroke="#1c1c1c">10</text>
<line x1="341.20" y1="428.50" x2="343.80" y2="428.50" stroke="#2a2a2a" stroke-width="0.8"/>
<text x="340.40" y="430.70" text-anchor="end" stroke="#1c1c1c">0</text>
<line x1="343.40" y1="428.50" x2="402.60" y2="428.50" stroke="#2a2a2a" stroke-width="0.8"/>
<text x="369.60" y="279.90" text-anchor="middle" stroke="#1c1c1c" font-size="6.0">HT-A549</text>
<text text-anchor="middle" stroke="#1c1c1c" font-size="6.3" transform="translate(330.90 353.50) rotate(-90)" style="font-family:'Liberation Sans','Noto Sans CJK SC',sans-serif">Proportion of Apoptotic Cells （%）</text>
<line x1="358.00" y1="299.70" x2="398.80" y2="299.70" stroke="#5a5050" stroke-width="0.7"/>
<text x="378.40" y="300.80" text-anchor="middle" font-weight="bold" fill="#222" stroke="#222" font-size="6.0">***</text>
<line x1="358.00" y1="331.40" x2="387.60" y2="331.40" stroke="#5a5050" stroke-width="0.7"/>
<text x="372.80" y="332.50" text-anchor="middle" font-weight="bold" fill="#222" stroke="#222" font-size="6.0">***</text>
<line x1="368.20" y1="336.20" x2="387.60" y2="336.20" stroke="#5a5050" stroke-width="0.7"/>
<text x="377.90" y="337.30" text-anchor="middle" font-weight="bold" fill="#222" stroke="#222" font-size="6.0">***</text>
<line x1="358.00" y1="341.10" x2="375.00" y2="341.10" stroke="#5a5050" stroke-width="0.7"/>
<text x="366.50" y="342.20" text-anchor="middle" font-weight="bold" fill="#222" stroke="#222" font-size="6.0">***</text>
<line x1="347.30" y1="375.70" x2="359.00" y2="375.70" stroke="#5a5050" stroke-width="0.7"/>
<text x="353.15" y="376.80" text-anchor="middle" font-weight="bold" fill="#222" stroke="#222" font-size="6.0">**</text>
<rect x="440.50" y="406.20" width="6.10" height="22.30" fill="#cd5f3b" stroke="#b04e2e" stroke-width="0.4"/>
<line x1="443.55" y1="406.00" x2="443.55" y2="401.50" stroke="#c8502c" stroke-width="0.5"/>
<line x1="442.25" y1="401.50" x2="444.85" y2="401.50" stroke="#c8502c" stroke-width="0.5"/>
<circle cx="443.55" cy="401.05" r="1.25" fill="none" stroke="#c8502c" stroke-width="0.55"/>
<circle cx="443.75" cy="411.40" r="1.25" fill="none" stroke="#c8502c" stroke-width="0.55"/>
<line x1="443.55" y1="428.50" x2="443.55" y2="432.10" stroke="#2a2a2a" stroke-width="0.7"/>
<rect x="450.26" y="383.10" width="6.10" height="45.40" fill="#5584c2" stroke="#3f6aa8" stroke-width="0.4"/>
<line x1="453.31" y1="382.90" x2="453.31" y2="379.90" stroke="#3f74ba" stroke-width="0.5"/>
<line x1="452.01" y1="379.90" x2="454.61" y2="379.90" stroke="#3f74ba" stroke-width="0.5"/>
<circle cx="453.31" cy="379.60" r="1.25" fill="none" stroke="#3f74ba" stroke-width="0.55"/>
<circle cx="453.51" cy="386.50" r="1.25" fill="none" stroke="#3f74ba" stroke-width="0.55"/>
<line x1="453.31" y1="428.50" x2="453.31" y2="432.10" stroke="#2a2a2a" stroke-width="0.7"/>
<rect x="460.02" y="375.30" width="6.10" height="53.20" fill="#b9c9e6" stroke="#a3b6da" stroke-width="0.4"/>
<line x1="463.07" y1="375.10" x2="463.07" y2="373.60" stroke="#a9bde0" stroke-width="0.5"/>
<line x1="461.77" y1="373.60" x2="464.37" y2="373.60" stroke="#a9bde0" stroke-width="0.5"/>
<circle cx="463.07" cy="373.45" r="1.25" fill="none" stroke="#a9bde0" stroke-width="0.55"/>
<circle cx="463.27" cy="376.90" r="1.25" fill="none" stroke="#a9bde0" stroke-width="0.55"/>
<line x1="463.07" y1="428.50" x2="463.07" y2="432.10" stroke="#2a2a2a" stroke-width="0.7"/>
<rect x="469.78" y="354.60" width="6.10" height="73.90" fill="#c9c9c9" stroke="#b5b5b5" stroke-width="0.4"/>
<line x1="472.83" y1="354.40" x2="472.83" y2="348.40" stroke="#bdbdbd" stroke-width="0.5"/>
<line x1="471.53" y1="348.40" x2="474.13" y2="348.40" stroke="#bdbdbd" stroke-width="0.5"/>
<circle cx="472.83" cy="347.80" r="1.25" fill="none" stroke="#bdbdbd" stroke-width="0.55"/>
<circle cx="473.03" cy="361.60" r="1.25" fill="none" stroke="#bdbdbd" stroke-width="0.55"/>
<line x1="472.83" y1="428.50" x2="472.83" y2="432.10" stroke="#2a2a2a" stroke-width="0.7"/>
<rect x="479.54" y="352.20" width="6.10" height="76.30" fill="#929292" stroke="#7c7c7c" stroke-width="0.4"/>
<line x1="482.59" y1="352.00" x2="482.59" y2="347.50" stroke="#7e7e7e" stroke-width="0.5"/>
<line x1="481.29" y1="347.50" x2="483.89" y2="347.50" stroke="#7e7e7e" stroke-width="0.5"/>
<circle cx="482.59" cy="347.05" r="1.25" fill="none" stroke="#7e7e7e" stroke-width="0.55"/>
<circle cx="482.79" cy="357.40" r="1.25" fill="none" stroke="#7e7e7e" stroke-width="0.55"/>
<line x1="482.59" y1="428.50" x2="482.59" y2="432.10" stroke="#2a2a2a" stroke-width="0.7"/>
<rect x="489.30" y="306.60" width="6.10" height="121.90" fill="#565050" stroke="#3e3838" stroke-width="0.4"/>
<line x1="492.35" y1="306.40" x2="492.35" y2="298.60" stroke="#3a3535" stroke-width="0.5"/>
<line x1="491.05" y1="298.60" x2="493.65" y2="298.60" stroke="#3a3535" stroke-width="0.5"/>
<circle cx="492.35" cy="297.82" r="1.25" fill="none" stroke="#3a3535" stroke-width="0.55"/>
<circle cx="492.55" cy="315.76" r="1.25" fill="none" stroke="#3a3535" stroke-width="0.55"/>
<line x1="492.35" y1="428.50" x2="492.35" y2="432.10" stroke="#2a2a2a" stroke-width="0.7"/>
<line x1="438.70" y1="278.15" x2="438.70" y2="428.85" stroke="#2a2a2a" stroke-width="0.8"/>
<line x1="436.10" y1="278.50" x2="438.70" y2="278.50" stroke="#2a2a2a" stroke-width="0.8"/>
<text x="435.30" y="280.70" text-anchor="end" stroke="#1c1c1c">50</text>
<line x1="436.10" y1="308.50" x2="438.70" y2="308.50" stroke="#2a2a2a" stroke-width="0.8"/>
<text x="435.30" y="310.70" text-anchor="end" stroke="#1c1c1c">40</text>
<line x1="436.10" y1="338.50" x2="438.70" y2="338.50" stroke="#2a2a2a" stroke-width="0.8"/>
<text x="435.30" y="340.70" text-anchor="end" stroke="#1c1c1c">30</text>
<line x1="436.10" y1="368.50" x2="438.70" y2="368.50" stroke="#2a2a2a" stroke-width="0.8"/>
<text x="435.30" y="370.70" text-anchor="end" stroke="#1c1c1c">20</text>
<line x1="436.10" y1="398.50" x2="438.70" y2="398.50" stroke="#2a2a2a" stroke-width="0.8"/>
<text x="435.30" y="400.70" text-anchor="end" stroke="#1c1c1c">10</text>
<line x1="436.10" y1="428.50" x2="438.70" y2="428.50" stroke="#2a2a2a" stroke-width="0.8"/>
<text x="435.30" y="430.70" text-anchor="end" stroke="#1c1c1c">0</text>
<line x1="438.30" y1="428.50" x2="497.40" y2="428.50" stroke="#2a2a2a" stroke-width="0.8"/>
<text x="465.40" y="279.90" text-anchor="middle" stroke="#1c1c1c" font-size="6.0">HT-PC9</text>
<text text-anchor="middle" stroke="#1c1c1c" font-size="6.3" transform="translate(425.80 353.50) rotate(-90)" style="font-family:'Liberation Sans','Noto Sans CJK SC',sans-serif">Proportion of Apoptotic Cells （%）</text>
<line x1="453.20" y1="296.40" x2="494.10" y2="296.40" stroke="#5a5050" stroke-width="0.7"/>
<text x="473.65" y="297.50" text-anchor="middle" font-weight="bold" fill="#222" stroke="#222" font-size="6.0">***</text>
<line x1="453.20" y1="331.40" x2="483.20" y2="331.40" stroke="#5a5050" stroke-width="0.7"/>
<text x="468.20" y="332.50" text-anchor="middle" font-weight="bold" fill="#222" stroke="#222" font-size="6.0">***</text>
<line x1="463.90" y1="336.20" x2="483.20" y2="336.20" stroke="#5a5050" stroke-width="0.7"/>
<text x="473.55" y="337.30" text-anchor="middle" font-weight="bold" fill="#222" stroke="#222" font-size="6.0">***</text>
<line x1="453.20" y1="341.10" x2="473.00" y2="341.10" stroke="#5a5050" stroke-width="0.7"/>
<text x="463.10" y="342.20" text-anchor="middle" font-weight="bold" fill="#222" stroke="#222" font-size="6.0">***</text>
<line x1="442.80" y1="375.40" x2="453.70" y2="375.40" stroke="#5a5050" stroke-width="0.7"/>
<text x="448.25" y="376.50" text-anchor="middle" font-weight="bold" fill="#222" stroke="#222" font-size="6.0">**</text>
<rect x="538.30" y="299.00" width="6.10" height="128.80" fill="#cd5f3b" stroke="#b04e2e" stroke-width="0.4"/>
<line x1="541.35" y1="298.80" x2="541.35" y2="293.30" stroke="#c8502c" stroke-width="0.5"/>
<line x1="540.05" y1="293.30" x2="542.65" y2="293.30" stroke="#c8502c" stroke-width="0.5"/>
<circle cx="541.35" cy="292.75" r="1.25" fill="none" stroke="#c8502c" stroke-width="0.55"/>
<circle cx="541.55" cy="305.40" r="1.25" fill="none" stroke="#c8502c" stroke-width="0.55"/>
<line x1="541.35" y1="427.80" x2="541.35" y2="431.40" stroke="#2a2a2a" stroke-width="0.7"/>
<rect x="548.07" y="350.50" width="6.10" height="77.30" fill="#5584c2" stroke="#3f6aa8" stroke-width="0.4"/>
<line x1="551.12" y1="350.30" x2="551.12" y2="347.80" stroke="#3f74ba" stroke-width="0.5"/>
<line x1="549.82" y1="347.80" x2="552.42" y2="347.80" stroke="#3f74ba" stroke-width="0.5"/>
<circle cx="551.12" cy="347.55" r="1.25" fill="none" stroke="#3f74ba" stroke-width="0.55"/>
<circle cx="551.32" cy="353.30" r="1.25" fill="none" stroke="#3f74ba" stroke-width="0.55"/>
<line x1="551.12" y1="427.80" x2="551.12" y2="431.40" stroke="#2a2a2a" stroke-width="0.7"/>
<rect x="557.84" y="354.50" width="6.10" height="73.30" fill="#b9c9e6" stroke="#a3b6da" stroke-width="0.4"/>
<line x1="560.89" y1="354.30" x2="560.89" y2="352.10" stroke="#a9bde0" stroke-width="0.5"/>
<line x1="559.59" y1="352.10" x2="562.19" y2="352.10" stroke="#a9bde0" stroke-width="0.5"/>
<circle cx="560.89" cy="351.88" r="1.25" fill="none" stroke="#a9bde0" stroke-width="0.55"/>
<circle cx="561.09" cy="356.94" r="1.25" fill="none" stroke="#a9bde0" stroke-width="0.55"/>
<line x1="560.89" y1="427.80" x2="560.89" y2="431.40" stroke="#2a2a2a" stroke-width="0.7"/>
<rect x="567.61" y="390.60" width="6.10" height="37.20" fill="#c9c9c9" stroke="#b5b5b5" stroke-width="0.4"/>
<line x1="570.66" y1="390.40" x2="570.66" y2="387.40" stroke="#bdbdbd" stroke-width="0.5"/>
<line x1="569.36" y1="387.40" x2="571.96" y2="387.40" stroke="#bdbdbd" stroke-width="0.5"/>
<circle cx="570.66" cy="387.10" r="1.25" fill="none" stroke="#bdbdbd" stroke-width="0.55"/>
<circle cx="570.86" cy="394.00" r="1.25" fill="none" stroke="#bdbdbd" stroke-width="0.55"/>
<line x1="570.66" y1="427.80" x2="570.66" y2="431.40" stroke="#2a2a2a" stroke-width="0.7"/>
<rect x="577.38" y="388.40" width="6.10" height="39.40" fill="#929292" stroke="#7c7c7c" stroke-width="0.4"/>
<line x1="580.43" y1="388.20" x2="580.43" y2="385.70" stroke="#7e7e7e" stroke-width="0.5"/>
<line x1="579.13" y1="385.70" x2="581.73" y2="385.70" stroke="#7e7e7e" stroke-width="0.5"/>
<circle cx="580.43" cy="385.45" r="1.25" fill="none" stroke="#7e7e7e" stroke-width="0.55"/>
<circle cx="580.63" cy="391.20" r="1.25" fill="none" stroke="#7e7e7e" stroke-width="0.55"/>
<line x1="580.43" y1="427.80" x2="580.43" y2="431.40" stroke="#2a2a2a" stroke-width="0.7"/>
<rect x="587.15" y="407.80" width="6.10" height="20.00" fill="#565050" stroke="#3e3838" stroke-width="0.4"/>
<line x1="590.20" y1="407.60" x2="590.20" y2="405.60" stroke="#3a3535" stroke-width="0.5"/>
<line x1="588.90" y1="405.60" x2="591.50" y2="405.60" stroke="#3a3535" stroke-width="0.5"/>
<circle cx="590.20" cy="405.40" r="1.25" fill="none" stroke="#3a3535" stroke-width="0.55"/>
<circle cx="590.40" cy="410.00" r="1.25" fill="none" stroke="#3a3535" stroke-width="0.55"/>
<line x1="590.20" y1="427.80" x2="590.20" y2="431.40" stroke="#2a2a2a" stroke-width="0.7"/>
<line x1="536.70" y1="277.45" x2="536.70" y2="428.15" stroke="#2a2a2a" stroke-width="0.8"/>
<line x1="534.10" y1="277.80" x2="536.70" y2="277.80" stroke="#2a2a2a" stroke-width="0.8"/>
<text x="533.30" y="280.00" text-anchor="end" stroke="#1c1c1c">150</text>
<line x1="534.10" y1="302.80" x2="536.70" y2="302.80" stroke="#2a2a2a" stroke-width="0.8"/>
<text x="533.30" y="305.00" text-anchor="end" stroke="#1c1c1c">125</text>
<line x1="534.10" y1="327.80" x2="536.70" y2="327.80" stroke="#2a2a2a" stroke-width="0.8"/>
<text x="533.30" y="330.00" text-anchor="end" stroke="#1c1c1c">100</text>
<line x1="534.10" y1="352.80" x2="536.70" y2="352.80" stroke="#2a2a2a" stroke-width="0.8"/>
<text x="533.30" y="355.00" text-anchor="end" stroke="#1c1c1c">75</text>
<line x1="534.10" y1="377.80" x2="536.70" y2="377.80" stroke="#2a2a2a" stroke-width="0.8"/>
<text x="533.30" y="380.00" text-anchor="end" stroke="#1c1c1c">50</text>
<line x1="534.10" y1="402.80" x2="536.70" y2="402.80" stroke="#2a2a2a" stroke-width="0.8"/>
<text x="533.30" y="405.00" text-anchor="end" stroke="#1c1c1c">25</text>
<line x1="534.10" y1="427.80" x2="536.70" y2="427.80" stroke="#2a2a2a" stroke-width="0.8"/>
<text x="533.30" y="430.00" text-anchor="end" stroke="#1c1c1c">0</text>
<line x1="536.30" y1="427.80" x2="596.00" y2="427.80" stroke="#2a2a2a" stroke-width="0.8"/>
<text x="567.00" y="279.90" text-anchor="middle" stroke="#1c1c1c" font-size="6.0">HT-A549</text>
<text text-anchor="middle" stroke="#1c1c1c" font-size="6.3" transform="translate(522.20 353.00) rotate(-90)" style="font-family:'Liberation Sans','Noto Sans CJK SC',sans-serif">Colony Counts</text>
<line x1="539.90" y1="288.40" x2="551.30" y2="288.40" stroke="#5a5050" stroke-width="0.7"/>
<text x="545.60" y="289.50" text-anchor="middle" font-weight="bold" fill="#222" stroke="#222" font-size="6.0">***</text>
<line x1="551.60" y1="323.70" x2="591.00" y2="323.70" stroke="#5a5050" stroke-width="0.7"/>
<text x="571.30" y="324.80" text-anchor="middle" font-weight="bold" fill="#222" stroke="#222" font-size="6.0">***</text>
<line x1="561.10" y1="330.30" x2="581.80" y2="330.30" stroke="#5a5050" stroke-width="0.7"/>
<text x="571.45" y="331.40" text-anchor="middle" font-weight="bold" fill="#222" stroke="#222" font-size="6.0">***</text>
<line x1="551.60" y1="336.50" x2="578.90" y2="336.50" stroke="#5a5050" stroke-width="0.7"/>
<text x="565.25" y="337.60" text-anchor="middle" font-weight="bold" fill="#222" stroke="#222" font-size="6.0">***</text>
<line x1="551.60" y1="343.40" x2="570.10" y2="343.40" stroke="#5a5050" stroke-width="0.7"/>
<text x="560.85" y="344.50" text-anchor="middle" font-weight="bold" fill="#222" stroke="#222" font-size="6.0">***</text>
<rect x="620.80" y="289.50" width="6.00" height="138.30" fill="#cd5f3b" stroke="#b04e2e" stroke-width="0.4"/>
<line x1="623.80" y1="289.30" x2="623.80" y2="287.30" stroke="#c8502c" stroke-width="0.5"/>
<line x1="622.50" y1="287.30" x2="625.10" y2="287.30" stroke="#c8502c" stroke-width="0.5"/>
<circle cx="623.80" cy="287.10" r="1.25" fill="none" stroke="#c8502c" stroke-width="0.55"/>
<circle cx="624.00" cy="291.70" r="1.25" fill="none" stroke="#c8502c" stroke-width="0.55"/>
<line x1="623.80" y1="427.80" x2="623.80" y2="431.40" stroke="#2a2a2a" stroke-width="0.7"/>
<rect x="630.63" y="336.00" width="6.00" height="91.80" fill="#5584c2" stroke="#3f6aa8" stroke-width="0.4"/>
<line x1="633.63" y1="335.80" x2="633.63" y2="332.30" stroke="#3f74ba" stroke-width="0.5"/>
<line x1="632.33" y1="332.30" x2="634.93" y2="332.30" stroke="#3f74ba" stroke-width="0.5"/>
<circle cx="633.63" cy="331.95" r="1.25" fill="none" stroke="#3f74ba" stroke-width="0.55"/>
<circle cx="633.83" cy="340.00" r="1.25" fill="none" stroke="#3f74ba" stroke-width="0.55"/>
<line x1="633.63" y1="427.80" x2="633.63" y2="431.40" stroke="#2a2a2a" stroke-width="0.7"/>
<rect x="640.46" y="357.00" width="6.00" height="70.80" fill="#b9c9e6" stroke="#a3b6da" stroke-width="0.4"/>
<line x1="643.46" y1="356.80" x2="643.46" y2="350.30" stroke="#a9bde0" stroke-width="0.5"/>
<line x1="642.16" y1="350.30" x2="644.76" y2="350.30" stroke="#a9bde0" stroke-width="0.5"/>
<circle cx="643.46" cy="349.65" r="1.25" fill="none" stroke="#a9bde0" stroke-width="0.55"/>
<circle cx="643.66" cy="364.60" r="1.25" fill="none" stroke="#a9bde0" stroke-width="0.55"/>
<line x1="643.46" y1="427.80" x2="643.46" y2="431.40" stroke="#2a2a2a" stroke-width="0.7"/>
<rect x="650.29" y="382.70" width="6.00" height="45.10" fill="#c9c9c9" stroke="#b5b5b5" stroke-width="0.4"/>
<line x1="653.29" y1="382.50" x2="653.29" y2="380.00" stroke="#bdbdbd" stroke-width="0.5"/>
<line x1="651.99" y1="380.00" x2="654.59" y2="380.00" stroke="#bdbdbd" stroke-width="0.5"/>
<circle cx="653.29" cy="379.75" r="1.25" fill="none" stroke="#bdbdbd" stroke-width="0.55"/>
<circle cx="653.49" cy="385.50" r="1.25" fill="none" stroke="#bdbdbd" stroke-width="0.55"/>
<line x1="653.29" y1="427.80" x2="653.29" y2="431.40" stroke="#2a2a2a" stroke-width="0.7"/>
<rect x="660.12" y="380.20" width="6.00" height="47.60" fill="#929292" stroke="#7c7c7c" stroke-width="0.4"/>
<line x1="663.12" y1="380.00" x2="663.12" y2="377.50" stroke="#7e7e7e" stroke-width="0.5"/>
<line x1="661.82" y1="377.50" x2="664.42" y2="377.50" stroke="#7e7e7e" stroke-width="0.5"/>
<circle cx="663.12" cy="377.25" r="1.25" fill="none" stroke="#7e7e7e" stroke-width="0.55"/>
<circle cx="663.32" cy="383.00" r="1.25" fill="none" stroke="#7e7e7e" stroke-width="0.55"/>
<line x1="663.12" y1="427.80" x2="663.12" y2="431.40" stroke="#2a2a2a" stroke-width="0.7"/>
<rect x="669.95" y="401.50" width="6.00" height="26.30" fill="#565050" stroke="#3e3838" stroke-width="0.4"/>
<line x1="672.95" y1="401.30" x2="672.95" y2="399.80" stroke="#3a3535" stroke-width="0.5"/>
<line x1="671.65" y1="399.80" x2="674.25" y2="399.80" stroke="#3a3535" stroke-width="0.5"/>
<circle cx="672.95" cy="399.65" r="1.25" fill="none" stroke="#3a3535" stroke-width="0.55"/>
<circle cx="673.15" cy="403.10" r="1.25" fill="none" stroke="#3a3535" stroke-width="0.55"/>
<line x1="672.95" y1="427.80" x2="672.95" y2="431.40" stroke="#2a2a2a" stroke-width="0.7"/>
<line x1="619.20" y1="277.45" x2="619.20" y2="428.15" stroke="#2a2a2a" stroke-width="0.8"/>
<line x1="616.60" y1="277.80" x2="619.20" y2="277.80" stroke="#2a2a2a" stroke-width="0.8"/>
<text x="615.80" y="280.00" text-anchor="end" stroke="#1c1c1c">150</text>
<line x1="616.60" y1="302.80" x2="619.20" y2="302.80" stroke="#2a2a2a" stroke-width="0.8"/>
<text x="615.80" y="305.00" text-anchor="end" stroke="#1c1c1c">125</text>
<line x1="616.60" y1="327.80" x2="619.20" y2="327.80" stroke="#2a2a2a" stroke-width="0.8"/>
<text x="615.80" y="330.00" text-anchor="end" stroke="#1c1c1c">100</text>
<line x1="616.60" y1="352.80" x2="619.20" y2="352.80" stroke="#2a2a2a" stroke-width="0.8"/>
<text x="615.80" y="355.00" text-anchor="end" stroke="#1c1c1c">75</text>
<line x1="616.60" y1="377.80" x2="619.20" y2="377.80" stroke="#2a2a2a" stroke-width="0.8"/>
<text x="615.80" y="380.00" text-anchor="end" stroke="#1c1c1c">50</text>
<line x1="616.60" y1="402.80" x2="619.20" y2="402.80" stroke="#2a2a2a" stroke-width="0.8"/>
<text x="615.80" y="405.00" text-anchor="end" stroke="#1c1c1c">25</text>
<line x1="616.60" y1="427.80" x2="619.20" y2="427.80" stroke="#2a2a2a" stroke-width="0.8"/>
<text x="615.80" y="430.00" text-anchor="end" stroke="#1c1c1c">0</text>
<line x1="618.80" y1="427.80" x2="677.90" y2="427.80" stroke="#2a2a2a" stroke-width="0.8"/>
<text x="650.00" y="279.90" text-anchor="middle" stroke="#1c1c1c" font-size="6.0">HT-PC9</text>
<text text-anchor="middle" stroke="#1c1c1c" font-size="6.3" transform="translate(604.70 353.00) rotate(-90)" style="font-family:'Liberation Sans','Noto Sans CJK SC',sans-serif">Colony Counts</text>
<line x1="624.40" y1="283.20" x2="635.70" y2="283.20" stroke="#5a5050" stroke-width="0.7"/>
<text x="630.05" y="284.30" text-anchor="middle" font-weight="bold" fill="#222" stroke="#222" font-size="6.0">***</text>
<line x1="633.40" y1="309.20" x2="672.90" y2="309.20" stroke="#5a5050" stroke-width="0.7"/>
<text x="653.15" y="310.30" text-anchor="middle" font-weight="bold" fill="#222" stroke="#222" font-size="6.0">***</text>
<line x1="643.20" y1="316.20" x2="663.70" y2="316.20" stroke="#5a5050" stroke-width="0.7"/>
<text x="653.45" y="317.30" text-anchor="middle" font-weight="bold" fill="#222" stroke="#222" font-size="6.0">***</text>
<line x1="633.40" y1="322.50" x2="662.80" y2="322.50" stroke="#5a5050" stroke-width="0.7"/>
<text x="648.10" y="323.60" text-anchor="middle" font-weight="bold" fill="#222" stroke="#222" font-size="6.0">***</text>
<line x1="633.40" y1="329.00" x2="653.20" y2="329.00" stroke="#5a5050" stroke-width="0.7"/>
<text x="643.30" y="330.10" text-anchor="middle" font-weight="bold" fill="#222" stroke="#222" font-size="6.0">***</text>
</g>
<g id="panelM">
<text x="322.60" y="462.90" font-weight="bold" fill="#000" stroke="#000" font-size="7.0">M</text>
<polyline points="347.30,583.16 371.00,578.97 394.70,572.87 418.40,571.73 442.10,570.96 465.80,567.92" fill="none" stroke="#3c3c3c" stroke-width="0.75"/>
<circle cx="371.00" cy="578.97" r="1.15" fill="#fff" stroke="#3c3c3c" stroke-width="0.55"/>
<line x1="394.70" y1="574.39" x2="394.70" y2="571.35" stroke="#3c3c3c" stroke-width="0.6"/>
<line x1="393.70" y1="571.35" x2="395.70" y2="571.35" stroke="#3c3c3c" stroke-width="0.5"/>
<line x1="393.70" y1="574.39" x2="395.70" y2="574.39" stroke="#3c3c3c" stroke-width="0.5"/>
<circle cx="394.70" cy="572.87" r="1.15" fill="#fff" stroke="#3c3c3c" stroke-width="0.55"/>
<circle cx="418.40" cy="571.73" r="1.15" fill="#fff" stroke="#3c3c3c" stroke-width="0.55"/>
<circle cx="442.10" cy="570.96" r="1.15" fill="#fff" stroke="#3c3c3c" stroke-width="0.55"/>
<line x1="465.80" y1="570.96" x2="465.80" y2="564.87" stroke="#3c3c3c" stroke-width="0.6"/>
<line x1="464.80" y1="564.87" x2="466.80" y2="564.87" stroke="#3c3c3c" stroke-width="0.5"/>
<line x1="464.80" y1="570.96" x2="466.80" y2="570.96" stroke="#3c3c3c" stroke-width="0.5"/>
<circle cx="465.80" cy="567.92" r="1.15" fill="#fff" stroke="#3c3c3c" stroke-width="0.55"/>
<polyline points="347.30,583.16 371.00,573.63 394.70,568.68 418.40,556.11 442.10,548.49 465.80,544.29" fill="none" stroke="#8a8a8a" stroke-width="0.75"/>
<circle cx="371.00" cy="573.63" r="1.15" fill="#fff" stroke="#8a8a8a" stroke-width="0.55"/>
<circle cx="394.70" cy="568.68" r="1.15" fill="#fff" stroke="#8a8a8a" stroke-width="0.55"/>
<circle cx="418.40" cy="556.11" r="1.15" fill="#fff" stroke="#8a8a8a" stroke-width="0.55"/>
<circle cx="442.10" cy="548.49" r="1.15" fill="#fff" stroke="#8a8a8a" stroke-width="0.55"/>
<line x1="465.80" y1="547.34" x2="465.80" y2="541.25" stroke="#8a8a8a" stroke-width="0.6"/>
<line x1="464.80" y1="541.25" x2="466.80" y2="541.25" stroke="#8a8a8a" stroke-width="0.5"/>
<line x1="464.80" y1="547.34" x2="466.80" y2="547.34" stroke="#8a8a8a" stroke-width="0.5"/>
<circle cx="465.80" cy="544.29" r="1.15" fill="#fff" stroke="#8a8a8a" stroke-width="0.55"/>
<polyline points="347.30,583.16 371.00,573.25 394.70,567.54 418.40,551.53 442.10,543.53 465.80,543.15" fill="none" stroke="#c4c4c4" stroke-width="0.75"/>
<circle cx="371.00" cy="573.25" r="1.15" fill="#fff" stroke="#c4c4c4" stroke-width="0.55"/>
<line x1="394.70" y1="569.44" x2="394.70" y2="565.63" stroke="#c4c4c4" stroke-width="0.6"/>
<line x1="393.70" y1="565.63" x2="395.70" y2="565.63" stroke="#c4c4c4" stroke-width="0.5"/>
<line x1="393.70" y1="569.44" x2="395.70" y2="569.44" stroke="#c4c4c4" stroke-width="0.5"/>
<circle cx="394.70" cy="567.54" r="1.15" fill="#fff" stroke="#c4c4c4" stroke-width="0.55"/>
<circle cx="418.40" cy="551.53" r="1.15" fill="#fff" stroke="#c4c4c4" stroke-width="0.55"/>
<line x1="442.10" y1="545.82" x2="442.10" y2="541.25" stroke="#c4c4c4" stroke-width="0.6"/>
<line x1="441.10" y1="541.25" x2="443.10" y2="541.25" stroke="#c4c4c4" stroke-width="0.5"/>
<line x1="441.10" y1="545.82" x2="443.10" y2="545.82" stroke="#c4c4c4" stroke-width="0.5"/>
<circle cx="442.10" cy="543.53" r="1.15" fill="#fff" stroke="#c4c4c4" stroke-width="0.55"/>
<line x1="465.80" y1="547.72" x2="465.80" y2="538.58" stroke="#c4c4c4" stroke-width="0.6"/>
<line x1="464.80" y1="538.58" x2="466.80" y2="538.58" stroke="#c4c4c4" stroke-width="0.5"/>
<line x1="464.80" y1="547.72" x2="466.80" y2="547.72" stroke="#c4c4c4" stroke-width="0.5"/>
<circle cx="465.80" cy="543.15" r="1.15" fill="#fff" stroke="#c4c4c4" stroke-width="0.55"/>
<polyline points="347.30,583.16 371.00,572.49 394.70,565.25 418.40,541.25 442.10,534.01 465.80,527.15" fill="none" stroke="#b3c6ea" stroke-width="0.75"/>
<circle cx="371.00" cy="572.49" r="1.15" fill="#fff" stroke="#b3c6ea" stroke-width="0.55"/>
<line x1="394.70" y1="569.82" x2="394.70" y2="560.68" stroke="#b3c6ea" stroke-width="0.6"/>
<line x1="393.70" y1="560.68" x2="395.70" y2="560.68" stroke="#b3c6ea" stroke-width="0.5"/>
<line x1="393.70" y1="569.82" x2="395.70" y2="569.82" stroke="#b3c6ea" stroke-width="0.5"/>
<circle cx="394.70" cy="565.25" r="1.15" fill="#fff" stroke="#b3c6ea" stroke-width="0.55"/>
<line x1="418.40" y1="543.91" x2="418.40" y2="538.58" stroke="#b3c6ea" stroke-width="0.6"/>
<line x1="417.40" y1="538.58" x2="419.40" y2="538.58" stroke="#b3c6ea" stroke-width="0.5"/>
<line x1="417.40" y1="543.91" x2="419.40" y2="543.91" stroke="#b3c6ea" stroke-width="0.5"/>
<circle cx="418.40" cy="541.25" r="1.15" fill="#fff" stroke="#b3c6ea" stroke-width="0.55"/>
<line x1="442.10" y1="538.58" x2="442.10" y2="529.44" stroke="#b3c6ea" stroke-width="0.6"/>
<line x1="441.10" y1="529.44" x2="443.10" y2="529.44" stroke="#b3c6ea" stroke-width="0.5"/>
<line x1="441.10" y1="538.58" x2="443.10" y2="538.58" stroke="#b3c6ea" stroke-width="0.5"/>
<circle cx="442.10" cy="534.01" r="1.15" fill="#fff" stroke="#b3c6ea" stroke-width="0.55"/>
<line x1="465.80" y1="534.77" x2="465.80" y2="519.53" stroke="#b3c6ea" stroke-width="0.6"/>
<line x1="464.80" y1="519.53" x2="466.80" y2="519.53" stroke="#b3c6ea" stroke-width="0.5"/>
<line x1="464.80" y1="534.77" x2="466.80" y2="534.77" stroke="#b3c6ea" stroke-width="0.5"/>
<circle cx="465.80" cy="527.15" r="1.15" fill="#fff" stroke="#b3c6ea" stroke-width="0.55"/>
<polyline points="347.30,583.16 371.00,571.73 394.70,552.30 418.40,538.20 442.10,530.58 465.80,518.77" fill="none" stroke="#3f74ba" stroke-width="0.75"/>
<circle cx="371.00" cy="571.73" r="1.15" fill="#fff" stroke="#3f74ba" stroke-width="0.55"/>
<line x1="394.70" y1="557.63" x2="394.70" y2="546.96" stroke="#3f74ba" stroke-width="0.6"/>
<line x1="393.70" y1="546.96" x2="395.70" y2="546.96" stroke="#3f74ba" stroke-width="0.5"/>
<line x1="393.70" y1="557.63" x2="395.70" y2="557.63" stroke="#3f74ba" stroke-width="0.5"/>
<circle cx="394.70" cy="552.30" r="1.15" fill="#fff" stroke="#3f74ba" stroke-width="0.55"/>
<line x1="418.40" y1="541.25" x2="418.40" y2="535.15" stroke="#3f74ba" stroke-width="0.6"/>
<line x1="417.40" y1="535.15" x2="419.40" y2="535.15" stroke="#3f74ba" stroke-width="0.5"/>
<line x1="417.40" y1="541.25" x2="419.40" y2="541.25" stroke="#3f74ba" stroke-width="0.5"/>
<circle cx="418.40" cy="538.20" r="1.15" fill="#fff" stroke="#3f74ba" stroke-width="0.55"/>
<line x1="442.10" y1="536.67" x2="442.10" y2="524.48" stroke="#3f74ba" stroke-width="0.6"/>
<line x1="441.10" y1="524.48" x2="443.10" y2="524.48" stroke="#3f74ba" stroke-width="0.5"/>
<line x1="441.10" y1="536.67" x2="443.10" y2="536.67" stroke="#3f74ba" stroke-width="0.5"/>
<circle cx="442.10" cy="530.58" r="1.15" fill="#fff" stroke="#3f74ba" stroke-width="0.55"/>
<line x1="465.80" y1="522.58" x2="465.80" y2="514.96" stroke="#3f74ba" stroke-width="0.6"/>
<line x1="464.80" y1="514.96" x2="466.80" y2="514.96" stroke="#3f74ba" stroke-width="0.5"/>
<line x1="464.80" y1="522.58" x2="466.80" y2="522.58" stroke="#3f74ba" stroke-width="0.5"/>
<circle cx="465.80" cy="518.77" r="1.15" fill="#fff" stroke="#3f74ba" stroke-width="0.55"/>
<polyline points="347.30,583.16 371.00,570.58 394.70,541.63 418.40,527.91 442.10,517.24 465.80,492.48" fill="none" stroke="#d4573a" stroke-width="0.75"/>
<circle cx="371.00" cy="570.58" r="1.15" fill="#fff" stroke="#d4573a" stroke-width="0.55"/>
<line x1="394.70" y1="545.82" x2="394.70" y2="537.44" stroke="#d4573a" stroke-width="0.6"/>
<line x1="393.70" y1="537.44" x2="395.70" y2="537.44" stroke="#d4573a" stroke-width="0.5"/>
<line x1="393.70" y1="545.82" x2="395.70" y2="545.82" stroke="#d4573a" stroke-width="0.5"/>
<circle cx="394.70" cy="541.63" r="1.15" fill="#fff" stroke="#d4573a" stroke-width="0.55"/>
<line x1="418.40" y1="530.20" x2="418.40" y2="525.63" stroke="#d4573a" stroke-width="0.6"/>
<line x1="417.40" y1="525.63" x2="419.40" y2="525.63" stroke="#d4573a" stroke-width="0.5"/>
<line x1="417.40" y1="530.20" x2="419.40" y2="530.20" stroke="#d4573a" stroke-width="0.5"/>
<circle cx="418.40" cy="527.91" r="1.15" fill="#fff" stroke="#d4573a" stroke-width="0.55"/>
<line x1="442.10" y1="521.05" x2="442.10" y2="513.43" stroke="#d4573a" stroke-width="0.6"/>
<line x1="441.10" y1="513.43" x2="443.10" y2="513.43" stroke="#d4573a" stroke-width="0.5"/>
<line x1="441.10" y1="521.05" x2="443.10" y2="521.05" stroke="#d4573a" stroke-width="0.5"/>
<circle cx="442.10" cy="517.24" r="1.15" fill="#fff" stroke="#d4573a" stroke-width="0.55"/>
<line x1="465.80" y1="497.05" x2="465.80" y2="487.91" stroke="#d4573a" stroke-width="0.6"/>
<line x1="464.80" y1="487.91" x2="466.80" y2="487.91" stroke="#d4573a" stroke-width="0.5"/>
<line x1="464.80" y1="497.05" x2="466.80" y2="497.05" stroke="#d4573a" stroke-width="0.5"/>
<circle cx="465.80" cy="492.48" r="1.15" fill="#fff" stroke="#d4573a" stroke-width="0.55"/>
<line x1="347.30" y1="469.65" x2="347.30" y2="584.65" stroke="#2a2a2a" stroke-width="0.8"/>
<line x1="345.10" y1="470.00" x2="347.30" y2="470.00" stroke="#2a2a2a" stroke-width="0.8"/>
<text x="344.10" y="472.20" text-anchor="end" stroke="#1c1c1c">3</text>
<line x1="345.10" y1="508.10" x2="347.30" y2="508.10" stroke="#2a2a2a" stroke-width="0.8"/>
<text x="344.10" y="510.30" text-anchor="end" stroke="#1c1c1c">2</text>
<line x1="345.10" y1="546.20" x2="347.30" y2="546.20" stroke="#2a2a2a" stroke-width="0.8"/>
<text x="344.10" y="548.40" text-anchor="end" stroke="#1c1c1c">1</text>
<line x1="345.10" y1="584.30" x2="347.30" y2="584.30" stroke="#2a2a2a" stroke-width="0.8"/>
<text x="344.10" y="586.50" text-anchor="end" stroke="#1c1c1c">0</text>
<line x1="346.90" y1="584.30" x2="489.80" y2="584.30" stroke="#2a2a2a" stroke-width="0.8"/>
<line x1="347.30" y1="584.30" x2="347.30" y2="586.50" stroke="#2a2a2a" stroke-width="0.7"/>
<text x="347.30" y="593.40" text-anchor="middle" stroke="#1c1c1c" font-size="6.0">0</text>
<line x1="371.00" y1="584.30" x2="371.00" y2="586.50" stroke="#2a2a2a" stroke-width="0.7"/>
<text x="371.00" y="593.40" text-anchor="middle" stroke="#1c1c1c" font-size="6.0">12</text>
<line x1="394.70" y1="584.30" x2="394.70" y2="586.50" stroke="#2a2a2a" stroke-width="0.7"/>
<text x="394.70" y="593.40" text-anchor="middle" stroke="#1c1c1c" font-size="6.0">24</text>
<line x1="418.40" y1="584.30" x2="418.40" y2="586.50" stroke="#2a2a2a" stroke-width="0.7"/>
<text x="418.40" y="593.40" text-anchor="middle" stroke="#1c1c1c" font-size="6.0">36</text>
<line x1="442.10" y1="584.30" x2="442.10" y2="586.50" stroke="#2a2a2a" stroke-width="0.7"/>
<text x="442.10" y="593.40" text-anchor="middle" stroke="#1c1c1c" font-size="6.0">48</text>
<line x1="465.80" y1="584.30" x2="465.80" y2="586.50" stroke="#2a2a2a" stroke-width="0.7"/>
<text x="465.80" y="593.40" text-anchor="middle" stroke="#1c1c1c" font-size="6.0">60</text>
<line x1="489.50" y1="584.30" x2="489.50" y2="586.50" stroke="#2a2a2a" stroke-width="0.7"/>
<text x="489.50" y="593.40" text-anchor="middle" stroke="#1c1c1c" font-size="6.0">72</text>
<text text-anchor="middle" stroke="#1c1c1c" font-size="6.0" transform="translate(337.00 530.50) rotate(-90)" style="font-family:'Liberation Sans','Noto Sans CJK SC',sans-serif">Cell Index（OD 450nm）</text>
<text x="470.30" y="474.70" stroke="#1c1c1c" font-size="6.0">HT-A549</text>
<line x1="352.60" y1="472.60" x2="364.20" y2="472.60" stroke="#d4573a" stroke-width="0.75"/>
<circle cx="358.40" cy="472.60" r="1.15" fill="#fff" stroke="#d4573a" stroke-width="0.55"/>
<text x="367.20" y="474.75" fill="#cf4f2e" stroke="#cf4f2e" font-size="6.1">oe-SKA3+DMSO</text>
<line x1="352.60" y1="479.20" x2="364.20" y2="479.20" stroke="#3f74ba" stroke-width="0.75"/>
<circle cx="358.40" cy="479.20" r="1.15" fill="#fff" stroke="#3f74ba" stroke-width="0.55"/>
<text x="367.20" y="481.35" fill="#3b74bd" stroke="#3b74bd" font-size="6.1">Ctrl+DMSO</text>
<line x1="352.60" y1="485.80" x2="364.20" y2="485.80" stroke="#b3c6ea" stroke-width="0.75"/>
<circle cx="358.40" cy="485.80" r="1.15" fill="#fff" stroke="#b3c6ea" stroke-width="0.55"/>
<text x="367.20" y="487.95" fill="#a9c1e8" stroke="#a9c1e8" font-size="6.1">oe-SKA3+HIF-1α inhibitor</text>
<line x1="352.60" y1="492.40" x2="364.20" y2="492.40" stroke="#c4c4c4" stroke-width="0.75"/>
<circle cx="358.40" cy="492.40" r="1.15" fill="#fff" stroke="#c4c4c4" stroke-width="0.55"/>
<text x="367.20" y="494.55" fill="#bdbdbd" stroke="#bdbdbd" font-size="6.1">sh-SKA3+DMSO</text>
<line x1="352.60" y1="499.00" x2="364.20" y2="499.00" stroke="#8a8a8a" stroke-width="0.75"/>
<circle cx="358.40" cy="499.00" r="1.15" fill="#fff" stroke="#8a8a8a" stroke-width="0.55"/>
<text x="367.20" y="501.15" fill="#787878" stroke="#787878" font-size="6.1">Ctrl+HIF-1α inhibitor</text>
<line x1="352.60" y1="505.60" x2="364.20" y2="505.60" stroke="#3c3c3c" stroke-width="0.75"/>
<circle cx="358.40" cy="505.60" r="1.15" fill="#fff" stroke="#3c3c3c" stroke-width="0.55"/>
<text x="367.20" y="507.75" fill="#262626" stroke="#262626" font-size="6.1">sh-SKA3+HIF-1α inhibitor</text>
<line x1="467.80" y1="493.10" x2="467.80" y2="519.60" stroke="#5a5050" stroke-width="0.7"/>
<text text-anchor="middle" font-weight="bold" fill="#333" font-size="5.2" transform="translate(471.70 506.60) rotate(-90)" stroke="none">***</text>
<line x1="468.30" y1="527.10" x2="468.30" y2="543.10" stroke="#5a5050" stroke-width="0.7"/>
<text text-anchor="middle" font-weight="bold" fill="#333" font-size="5.2" transform="translate(472.20 534.70) rotate(-90)" stroke="none">**</text>
<line x1="472.30" y1="519.60" x2="472.30" y2="542.00" stroke="#5a5050" stroke-width="0.7"/>
<text text-anchor="middle" font-weight="bold" fill="#333" font-size="5.2" transform="translate(476.20 530.80) rotate(-90)" stroke="none">***</text>
<line x1="476.70" y1="519.60" x2="476.70" y2="544.80" stroke="#5a5050" stroke-width="0.7"/>
<text text-anchor="middle" font-weight="bold" fill="#333" font-size="5.2" transform="translate(480.60 532.20) rotate(-90)" stroke="none">***</text>
<line x1="481.20" y1="519.60" x2="481.20" y2="566.70" stroke="#5a5050" stroke-width="0.7"/>
<text text-anchor="middle" font-weight="bold" fill="#333" font-size="5.2" transform="translate(485.10 543.10) rotate(-90)" stroke="none">***</text>
<polyline points="537.80,583.16 561.60,579.73 585.40,573.25 609.20,573.25 633.00,568.68 656.80,562.58" fill="none" stroke="#3c3c3c" stroke-width="0.75"/>
<circle cx="561.60" cy="579.73" r="1.15" fill="#fff" stroke="#3c3c3c" stroke-width="0.55"/>
<circle cx="585.40" cy="573.25" r="1.15" fill="#fff" stroke="#3c3c3c" stroke-width="0.55"/>
<circle cx="609.20" cy="573.25" r="1.15" fill="#fff" stroke="#3c3c3c" stroke-width="0.55"/>
<line x1="633.00" y1="573.63" x2="633.00" y2="563.73" stroke="#3c3c3c" stroke-width="0.6"/>
<line x1="632.00" y1="563.73" x2="634.00" y2="563.73" stroke="#3c3c3c" stroke-width="0.5"/>
<line x1="632.00" y1="573.63" x2="634.00" y2="573.63" stroke="#3c3c3c" stroke-width="0.5"/>
<circle cx="633.00" cy="568.68" r="1.15" fill="#fff" stroke="#3c3c3c" stroke-width="0.55"/>
<line x1="656.80" y1="565.25" x2="656.80" y2="559.92" stroke="#3c3c3c" stroke-width="0.6"/>
<line x1="655.80" y1="559.92" x2="657.80" y2="559.92" stroke="#3c3c3c" stroke-width="0.5"/>
<line x1="655.80" y1="565.25" x2="657.80" y2="565.25" stroke="#3c3c3c" stroke-width="0.5"/>
<circle cx="656.80" cy="562.58" r="1.15" fill="#fff" stroke="#3c3c3c" stroke-width="0.55"/>
<polyline points="537.80,583.16 561.60,573.63 585.40,568.68 609.20,552.68 633.00,543.91 656.80,540.87" fill="none" stroke="#8a8a8a" stroke-width="0.75"/>
<circle cx="561.60" cy="573.63" r="1.15" fill="#fff" stroke="#8a8a8a" stroke-width="0.55"/>
<line x1="585.40" y1="570.58" x2="585.40" y2="566.77" stroke="#8a8a8a" stroke-width="0.6"/>
<line x1="584.40" y1="566.77" x2="586.40" y2="566.77" stroke="#8a8a8a" stroke-width="0.5"/>
<line x1="584.40" y1="570.58" x2="586.40" y2="570.58" stroke="#8a8a8a" stroke-width="0.5"/>
<circle cx="585.40" cy="568.68" r="1.15" fill="#fff" stroke="#8a8a8a" stroke-width="0.55"/>
<circle cx="609.20" cy="552.68" r="1.15" fill="#fff" stroke="#8a8a8a" stroke-width="0.55"/>
<line x1="633.00" y1="545.82" x2="633.00" y2="542.01" stroke="#8a8a8a" stroke-width="0.6"/>
<line x1="632.00" y1="542.01" x2="634.00" y2="542.01" stroke="#8a8a8a" stroke-width="0.5"/>
<line x1="632.00" y1="545.82" x2="634.00" y2="545.82" stroke="#8a8a8a" stroke-width="0.5"/>
<circle cx="633.00" cy="543.91" r="1.15" fill="#fff" stroke="#8a8a8a" stroke-width="0.55"/>
<line x1="656.80" y1="544.68" x2="656.80" y2="537.06" stroke="#8a8a8a" stroke-width="0.6"/>
<line x1="655.80" y1="537.06" x2="657.80" y2="537.06" stroke="#8a8a8a" stroke-width="0.5"/>
<line x1="655.80" y1="544.68" x2="657.80" y2="544.68" stroke="#8a8a8a" stroke-width="0.5"/>
<circle cx="656.80" cy="540.87" r="1.15" fill="#fff" stroke="#8a8a8a" stroke-width="0.55"/>
<polyline points="537.80,583.16 561.60,573.25 585.40,562.58 609.20,552.30 633.00,541.25 656.80,537.82" fill="none" stroke="#c4c4c4" stroke-width="0.75"/>
<circle cx="561.60" cy="573.25" r="1.15" fill="#fff" stroke="#c4c4c4" stroke-width="0.55"/>
<line x1="585.40" y1="565.63" x2="585.40" y2="559.53" stroke="#c4c4c4" stroke-width="0.6"/>
<line x1="584.40" y1="559.53" x2="586.40" y2="559.53" stroke="#c4c4c4" stroke-width="0.5"/>
<line x1="584.40" y1="565.63" x2="586.40" y2="565.63" stroke="#c4c4c4" stroke-width="0.5"/>
<circle cx="585.40" cy="562.58" r="1.15" fill="#fff" stroke="#c4c4c4" stroke-width="0.55"/>
<line x1="609.20" y1="553.82" x2="609.20" y2="550.77" stroke="#c4c4c4" stroke-width="0.6"/>
<line x1="608.20" y1="550.77" x2="610.20" y2="550.77" stroke="#c4c4c4" stroke-width="0.5"/>
<line x1="608.20" y1="553.82" x2="610.20" y2="553.82" stroke="#c4c4c4" stroke-width="0.5"/>
<circle cx="609.20" cy="552.30" r="1.15" fill="#fff" stroke="#c4c4c4" stroke-width="0.55"/>
<line x1="633.00" y1="543.15" x2="633.00" y2="539.34" stroke="#c4c4c4" stroke-width="0.6"/>
<line x1="632.00" y1="539.34" x2="634.00" y2="539.34" stroke="#c4c4c4" stroke-width="0.5"/>
<line x1="632.00" y1="543.15" x2="634.00" y2="543.15" stroke="#c4c4c4" stroke-width="0.5"/>
<circle cx="633.00" cy="541.25" r="1.15" fill="#fff" stroke="#c4c4c4" stroke-width="0.55"/>
<line x1="656.80" y1="541.63" x2="656.80" y2="534.01" stroke="#c4c4c4" stroke-width="0.6"/>
<line x1="655.80" y1="534.01" x2="657.80" y2="534.01" stroke="#c4c4c4" stroke-width="0.5"/>
<line x1="655.80" y1="541.63" x2="657.80" y2="541.63" stroke="#c4c4c4" stroke-width="0.5"/>
<circle cx="656.80" cy="537.82" r="1.15" fill="#fff" stroke="#c4c4c4" stroke-width="0.55"/>
<polyline points="537.80,583.16 561.60,572.49 585.40,559.92 609.20,542.39 633.00,534.39 656.80,521.82" fill="none" stroke="#b3c6ea" stroke-width="0.75"/>
<circle cx="561.60" cy="572.49" r="1.15" fill="#fff" stroke="#b3c6ea" stroke-width="0.55"/>
<line x1="585.40" y1="563.73" x2="585.40" y2="556.11" stroke="#b3c6ea" stroke-width="0.6"/>
<line x1="584.40" y1="556.11" x2="586.40" y2="556.11" stroke="#b3c6ea" stroke-width="0.5"/>
<line x1="584.40" y1="563.73" x2="586.40" y2="563.73" stroke="#b3c6ea" stroke-width="0.5"/>
<circle cx="585.40" cy="559.92" r="1.15" fill="#fff" stroke="#b3c6ea" stroke-width="0.55"/>
<line x1="609.20" y1="546.20" x2="609.20" y2="538.58" stroke="#b3c6ea" stroke-width="0.6"/>
<line x1="608.20" y1="538.58" x2="610.20" y2="538.58" stroke="#b3c6ea" stroke-width="0.5"/>
<line x1="608.20" y1="546.20" x2="610.20" y2="546.20" stroke="#b3c6ea" stroke-width="0.5"/>
<circle cx="609.20" cy="542.39" r="1.15" fill="#fff" stroke="#b3c6ea" stroke-width="0.55"/>
<line x1="633.00" y1="538.96" x2="633.00" y2="529.82" stroke="#b3c6ea" stroke-width="0.6"/>
<line x1="632.00" y1="529.82" x2="634.00" y2="529.82" stroke="#b3c6ea" stroke-width="0.5"/>
<line x1="632.00" y1="538.96" x2="634.00" y2="538.96" stroke="#b3c6ea" stroke-width="0.5"/>
<circle cx="633.00" cy="534.39" r="1.15" fill="#fff" stroke="#b3c6ea" stroke-width="0.55"/>
<line x1="656.80" y1="527.15" x2="656.80" y2="516.48" stroke="#b3c6ea" stroke-width="0.6"/>
<line x1="655.80" y1="516.48" x2="657.80" y2="516.48" stroke="#b3c6ea" stroke-width="0.5"/>
<line x1="655.80" y1="527.15" x2="657.80" y2="527.15" stroke="#b3c6ea" stroke-width="0.5"/>
<circle cx="656.80" cy="521.82" r="1.15" fill="#fff" stroke="#b3c6ea" stroke-width="0.55"/>
<polyline points="537.80,583.16 561.60,571.73 585.40,550.01 609.20,538.20 633.00,527.15 656.80,514.20" fill="none" stroke="#3f74ba" stroke-width="0.75"/>
<circle cx="561.60" cy="571.73" r="1.15" fill="#fff" stroke="#3f74ba" stroke-width="0.55"/>
<line x1="585.40" y1="551.91" x2="585.40" y2="548.11" stroke="#3f74ba" stroke-width="0.6"/>
<line x1="584.40" y1="548.11" x2="586.40" y2="548.11" stroke="#3f74ba" stroke-width="0.5"/>
<line x1="584.40" y1="551.91" x2="586.40" y2="551.91" stroke="#3f74ba" stroke-width="0.5"/>
<circle cx="585.40" cy="550.01" r="1.15" fill="#fff" stroke="#3f74ba" stroke-width="0.55"/>
<line x1="609.20" y1="542.01" x2="609.20" y2="534.39" stroke="#3f74ba" stroke-width="0.6"/>
<line x1="608.20" y1="534.39" x2="610.20" y2="534.39" stroke="#3f74ba" stroke-width="0.5"/>
<line x1="608.20" y1="542.01" x2="610.20" y2="542.01" stroke="#3f74ba" stroke-width="0.5"/>
<circle cx="609.20" cy="538.20" r="1.15" fill="#fff" stroke="#3f74ba" stroke-width="0.55"/>
<line x1="633.00" y1="533.25" x2="633.00" y2="521.05" stroke="#3f74ba" stroke-width="0.6"/>
<line x1="632.00" y1="521.05" x2="634.00" y2="521.05" stroke="#3f74ba" stroke-width="0.5"/>
<line x1="632.00" y1="533.25" x2="634.00" y2="533.25" stroke="#3f74ba" stroke-width="0.5"/>
<circle cx="633.00" cy="527.15" r="1.15" fill="#fff" stroke="#3f74ba" stroke-width="0.55"/>
<line x1="656.80" y1="516.10" x2="656.80" y2="512.29" stroke="#3f74ba" stroke-width="0.6"/>
<line x1="655.80" y1="512.29" x2="657.80" y2="512.29" stroke="#3f74ba" stroke-width="0.5"/>
<line x1="655.80" y1="516.10" x2="657.80" y2="516.10" stroke="#3f74ba" stroke-width="0.5"/>
<circle cx="656.80" cy="514.20" r="1.15" fill="#fff" stroke="#3f74ba" stroke-width="0.55"/>
<polyline points="537.80,583.16 561.60,571.35 585.40,548.11 609.20,525.25 633.00,511.53 656.80,494.00" fill="none" stroke="#d4573a" stroke-width="0.75"/>
<circle cx="561.60" cy="571.35" r="1.15" fill="#fff" stroke="#d4573a" stroke-width="0.55"/>
<line x1="585.40" y1="551.15" x2="585.40" y2="545.06" stroke="#d4573a" stroke-width="0.6"/>
<line x1="584.40" y1="545.06" x2="586.40" y2="545.06" stroke="#d4573a" stroke-width="0.5"/>
<line x1="584.40" y1="551.15" x2="586.40" y2="551.15" stroke="#d4573a" stroke-width="0.5"/>
<circle cx="585.40" cy="548.11" r="1.15" fill="#fff" stroke="#d4573a" stroke-width="0.55"/>
<line x1="609.20" y1="534.39" x2="609.20" y2="516.10" stroke="#d4573a" stroke-width="0.6"/>
<line x1="608.20" y1="516.10" x2="610.20" y2="516.10" stroke="#d4573a" stroke-width="0.5"/>
<line x1="608.20" y1="534.39" x2="610.20" y2="534.39" stroke="#d4573a" stroke-width="0.5"/>
<circle cx="609.20" cy="525.25" r="1.15" fill="#fff" stroke="#d4573a" stroke-width="0.55"/>
<line x1="633.00" y1="516.86" x2="633.00" y2="506.19" stroke="#d4573a" stroke-width="0.6"/>
<line x1="632.00" y1="506.19" x2="634.00" y2="506.19" stroke="#d4573a" stroke-width="0.5"/>
<line x1="632.00" y1="516.86" x2="634.00" y2="516.86" stroke="#d4573a" stroke-width="0.5"/>
<circle cx="633.00" cy="511.53" r="1.15" fill="#fff" stroke="#d4573a" stroke-width="0.55"/>
<line x1="656.80" y1="499.72" x2="656.80" y2="488.29" stroke="#d4573a" stroke-width="0.6"/>
<line x1="655.80" y1="488.29" x2="657.80" y2="488.29" stroke="#d4573a" stroke-width="0.5"/>
<line x1="655.80" y1="499.72" x2="657.80" y2="499.72" stroke="#d4573a" stroke-width="0.5"/>
<circle cx="656.80" cy="494.00" r="1.15" fill="#fff" stroke="#d4573a" stroke-width="0.55"/>
<line x1="537.80" y1="469.65" x2="537.80" y2="584.65" stroke="#2a2a2a" stroke-width="0.8"/>
<line x1="535.60" y1="470.00" x2="537.80" y2="470.00" stroke="#2a2a2a" stroke-width="0.8"/>
<text x="534.60" y="472.20" text-anchor="end" stroke="#1c1c1c">3</text>
<line x1="535.60" y1="508.10" x2="537.80" y2="508.10" stroke="#2a2a2a" stroke-width="0.8"/>
<text x="534.60" y="510.30" text-anchor="end" stroke="#1c1c1c">2</text>
<line x1="535.60" y1="546.20" x2="537.80" y2="546.20" stroke="#2a2a2a" stroke-width="0.8"/>
<text x="534.60" y="548.40" text-anchor="end" stroke="#1c1c1c">1</text>
<line x1="535.60" y1="584.30" x2="537.80" y2="584.30" stroke="#2a2a2a" stroke-width="0.8"/>
<text x="534.60" y="586.50" text-anchor="end" stroke="#1c1c1c">0</text>
<line x1="537.40" y1="584.30" x2="680.90" y2="584.30" stroke="#2a2a2a" stroke-width="0.8"/>
<line x1="537.80" y1="584.30" x2="537.80" y2="586.50" stroke="#2a2a2a" stroke-width="0.7"/>
<text x="537.80" y="593.40" text-anchor="middle" stroke="#1c1c1c" font-size="6.0">0</text>
<line x1="561.60" y1="584.30" x2="561.60" y2="586.50" stroke="#2a2a2a" stroke-width="0.7"/>
<text x="561.60" y="593.40" text-anchor="middle" stroke="#1c1c1c" font-size="6.0">12</text>
<line x1="585.40" y1="584.30" x2="585.40" y2="586.50" stroke="#2a2a2a" stroke-width="0.7"/>
<text x="585.40" y="593.40" text-anchor="middle" stroke="#1c1c1c" font-size="6.0">24</text>
<line x1="609.20" y1="584.30" x2="609.20" y2="586.50" stroke="#2a2a2a" stroke-width="0.7"/>
<text x="609.20" y="593.40" text-anchor="middle" stroke="#1c1c1c" font-size="6.0">36</text>
<line x1="633.00" y1="584.30" x2="633.00" y2="586.50" stroke="#2a2a2a" stroke-width="0.7"/>
<text x="633.00" y="593.40" text-anchor="middle" stroke="#1c1c1c" font-size="6.0">48</text>
<line x1="656.80" y1="584.30" x2="656.80" y2="586.50" stroke="#2a2a2a" stroke-width="0.7"/>
<text x="656.80" y="593.40" text-anchor="middle" stroke="#1c1c1c" font-size="6.0">60</text>
<line x1="680.60" y1="584.30" x2="680.60" y2="586.50" stroke="#2a2a2a" stroke-width="0.7"/>
<text x="680.60" y="593.40" text-anchor="middle" stroke="#1c1c1c" font-size="6.0">72</text>
<text text-anchor="middle" stroke="#1c1c1c" font-size="6.0" transform="translate(527.60 530.50) rotate(-90)" style="font-family:'Liberation Sans','Noto Sans CJK SC',sans-serif">Cell Index（OD 450nm）</text>
<text x="662.60" y="474.70" stroke="#1c1c1c" font-size="6.0">HT-PC9</text>
<line x1="546.40" y1="472.60" x2="558.00" y2="472.60" stroke="#d4573a" stroke-width="0.75"/>
<circle cx="552.20" cy="472.60" r="1.15" fill="#fff" stroke="#d4573a" stroke-width="0.55"/>
<text x="561.00" y="474.75" fill="#cf4f2e" stroke="#cf4f2e" font-size="6.1">oe-SKA3+DMSO</text>
<line x1="546.40" y1="479.20" x2="558.00" y2="479.20" stroke="#3f74ba" stroke-width="0.75"/>
<circle cx="552.20" cy="479.20" r="1.15" fill="#fff" stroke="#3f74ba" stroke-width="0.55"/>
<text x="561.00" y="481.35" fill="#3b74bd" stroke="#3b74bd" font-size="6.1">Ctrl+DMSO</text>
<line x1="546.40" y1="485.80" x2="558.00" y2="485.80" stroke="#b3c6ea" stroke-width="0.75"/>
<circle cx="552.20" cy="485.80" r="1.15" fill="#fff" stroke="#b3c6ea" stroke-width="0.55"/>
<text x="561.00" y="487.95" fill="#a9c1e8" stroke="#a9c1e8" font-size="6.1">oe-SKA3+HIF-1α inhibitor</text>
<line x1="546.40" y1="492.40" x2="558.00" y2="492.40" stroke="#c4c4c4" stroke-width="0.75"/>
<circle cx="552.20" cy="492.40" r="1.15" fill="#fff" stroke="#c4c4c4" stroke-width="0.55"/>
<text x="561.00" y="494.55" fill="#bdbdbd" stroke="#bdbdbd" font-size="6.1">sh-SKA3+DMSO</text>
<line x1="546.40" y1="499.00" x2="558.00" y2="499.00" stroke="#8a8a8a" stroke-width="0.75"/>
<circle cx="552.20" cy="499.00" r="1.15" fill="#fff" stroke="#8a8a8a" stroke-width="0.55"/>
<text x="561.00" y="501.15" fill="#787878" stroke="#787878" font-size="6.1">Ctrl+HIF-1α inhibitor</text>
<line x1="546.40" y1="505.60" x2="558.00" y2="505.60" stroke="#3c3c3c" stroke-width="0.75"/>
<circle cx="552.20" cy="505.60" r="1.15" fill="#fff" stroke="#3c3c3c" stroke-width="0.55"/>
<text x="561.00" y="507.75" fill="#262626" stroke="#262626" font-size="6.1">sh-SKA3+HIF-1α inhibitor</text>
<line x1="660.00" y1="493.90" x2="660.00" y2="514.10" stroke="#5a5050" stroke-width="0.7"/>
<text text-anchor="middle" font-weight="bold" fill="#333" font-size="5.2" transform="translate(663.90 504.00) rotate(-90)" stroke="none">***</text>
<line x1="660.00" y1="522.00" x2="660.00" y2="537.00" stroke="#5a5050" stroke-width="0.7"/>
<text text-anchor="middle" font-weight="bold" fill="#333" font-size="5.2" transform="translate(663.90 529.50) rotate(-90)" stroke="none">***</text>
<line x1="664.50" y1="514.10" x2="664.50" y2="537.00" stroke="#5a5050" stroke-width="0.7"/>
<text text-anchor="middle" font-weight="bold" fill="#333" font-size="5.2" transform="translate(668.40 525.50) rotate(-90)" stroke="none">***</text>
<line x1="668.70" y1="514.10" x2="668.70" y2="540.40" stroke="#5a5050" stroke-width="0.7"/>
<text text-anchor="middle" font-weight="bold" fill="#333" font-size="5.2" transform="translate(672.60 527.00) rotate(-90)" stroke="none">***</text>
<line x1="673.20" y1="514.10" x2="673.20" y2="562.20" stroke="#5a5050" stroke-width="0.7"/>
<text text-anchor="middle" font-weight="bold" fill="#333" font-size="5.2" transform="translate(677.10 538.00) rotate(-90)" stroke="none">***</text>
</g>
</svg></body></html>
